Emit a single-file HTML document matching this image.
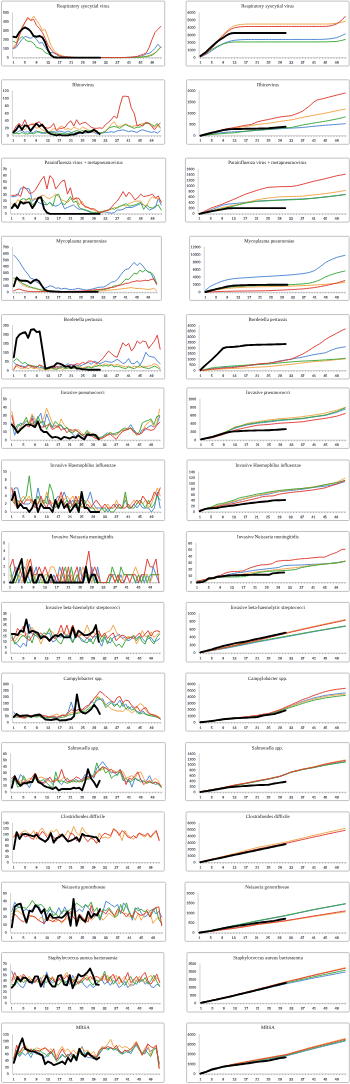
<!DOCTYPE html>
<html><head><meta charset="utf-8"><title>Weekly notifications</title>
<style>
html,body{margin:0;padding:0;background:#fff;}
body{width:350px;height:1084px;overflow:hidden;}
svg{display:block;}
text{text-rendering:geometricPrecision;}
.t{font-family:"Liberation Serif",serif;font-size:4.9px;fill:#111;text-anchor:middle;}
.l{font-family:"Liberation Sans",sans-serif;font-size:3.5px;fill:#3c4450;stroke:#3c4450;stroke-width:0.13px;}
.e{text-anchor:end;}
.m{text-anchor:middle;}
</style></head><body>
<svg width="350" height="1084" viewBox="0 0 350 1084">
<defs><filter id="b" x="0" y="0" width="100%" height="100%" filterUnits="userSpaceOnUse"><feGaussianBlur stdDeviation="0.27"/></filter></defs>
<rect width="350" height="1084" fill="#fff"/>
<g filter="url(#b)">
<rect x="1.5" y="1.1" width="163.2" height="64.9" rx="0.9" fill="#fff" stroke="#b6b6b6" stroke-width="0.85"/>
<path d="M12.55 12.35V57.65H161.99" fill="none" stroke="#b4b4b4" stroke-width="0.6"/>
<path d="M13.4 57.65v1.1M16.29 57.65v1.1M19.18 57.65v1.1M22.07 57.65v1.1M24.96 57.65v1.1M27.85 57.65v1.1M30.74 57.65v1.1M33.63 57.65v1.1M36.52 57.65v1.1M39.41 57.65v1.1M42.3 57.65v1.1M45.19 57.65v1.1M48.08 57.65v1.1M50.97 57.65v1.1M53.86 57.65v1.1M56.75 57.65v1.1M59.64 57.65v1.1M62.53 57.65v1.1M65.42 57.65v1.1M68.31 57.65v1.1M71.2 57.65v1.1M74.09 57.65v1.1M76.98 57.65v1.1M79.87 57.65v1.1M82.76 57.65v1.1M85.65 57.65v1.1M88.54 57.65v1.1M91.43 57.65v1.1M94.32 57.65v1.1M97.21 57.65v1.1M100.1 57.65v1.1M102.99 57.65v1.1M105.88 57.65v1.1M108.77 57.65v1.1M111.66 57.65v1.1M114.55 57.65v1.1M117.44 57.65v1.1M120.33 57.65v1.1M123.22 57.65v1.1M126.11 57.65v1.1M129 57.65v1.1M131.89 57.65v1.1M134.78 57.65v1.1M137.67 57.65v1.1M140.56 57.65v1.1M143.45 57.65v1.1M146.34 57.65v1.1M149.23 57.65v1.1M152.12 57.65v1.1M155.01 57.65v1.1M157.9 57.65v1.1M160.79 57.65v1.1" stroke="#8e8e8e" stroke-width="0.7" fill="none"/>
<polyline points="13.4,48.69 16.29,47.35 19.18,43.31 22.07,39.37 24.96,36.33 27.85,37.31 30.74,38.39 33.63,36.33 36.52,39.37 39.41,43.31 42.3,42.33 45.19,47.35 48.08,51.29 50.97,52.72 53.86,52.72 56.75,54.69 59.64,56.31 62.53,56.93 65.42,57.2 68.31,57.38 71.2,57.47 74.09,57.56 76.98,57.56 79.87,57.56 82.76,57.56 85.65,57.56 88.54,57.56 91.43,57.56 94.32,57.56 97.21,57.56 100.1,57.56 102.99,57.56 105.88,57.56 108.77,57.56 111.66,57.56 114.55,57.56 117.44,57.56 120.33,57.56 123.22,57.56 126.11,57.47 129,57.38 131.89,57.2 134.78,56.93 137.67,56.66 140.56,56.31 143.45,55.41 146.34,53.89 149.23,53.26 152.12,51.29 155.01,48.33 157.9,44.3 160.79,47.35" fill="none" stroke="#4a84d2" stroke-width="0.95" stroke-linejoin="round" stroke-linecap="round"/>
<polyline points="13.4,47.35 16.29,43.31 19.18,34.35 22.07,26.38 24.96,22.44 27.85,18.41 30.74,20.47 33.63,16.08 36.52,20.47 39.41,24.41 42.3,30.41 45.19,29.43 48.08,37.31 50.97,45.29 53.86,50.3 56.75,53.26 59.64,54.69 62.53,55.86 65.42,56.57 68.31,56.93 71.2,57.2 74.09,57.38 76.98,57.47 79.87,57.56 82.76,57.56 85.65,57.56 88.54,57.56 91.43,57.56 94.32,57.56 97.21,57.56 100.1,57.56 102.99,57.56 105.88,57.56 108.77,57.56 111.66,57.56 114.55,57.56 117.44,57.56 120.33,57.56 123.22,57.56 126.11,57.56 129,57.56 131.89,57.47 134.78,57.38 137.67,57.2 140.56,56.93 143.45,56.66 146.34,56.31 149.23,55.41 152.12,54.25 155.01,52.72 157.9,49.85 160.79,46.72" fill="none" stroke="#f0a345" stroke-width="0.95" stroke-linejoin="round" stroke-linecap="round"/>
<polyline points="13.4,41.34 16.29,42.69 19.18,39.37 22.07,36.33 24.96,39.37 27.85,41.34 30.74,41.34 33.63,43.31 36.52,47.35 39.41,48.33 42.3,49.32 45.19,52.72 48.08,53.89 50.97,55.23 53.86,56.84 56.75,57.29 59.64,57.38 62.53,57.47 65.42,57.56 68.31,57.56 71.2,57.56 74.09,57.56 76.98,57.56 79.87,57.56 82.76,57.56 85.65,57.56 88.54,57.56 91.43,57.56 94.32,57.56 97.21,57.56 100.1,57.56 102.99,57.56 105.88,57.56 108.77,57.56 111.66,57.56 114.55,57.56 117.44,57.56 120.33,57.56 123.22,57.56 126.11,57.56 129,57.56 131.89,57.56 134.78,57.47 137.67,57.38 140.56,57.2 143.45,56.93 146.34,56.66 149.23,56.04 152.12,55.23 155.01,53.26 157.9,50.3 160.79,47.35" fill="none" stroke="#3aa63a" stroke-width="0.95" stroke-linejoin="round" stroke-linecap="round"/>
<polyline points="13.4,48.33 16.29,45.29 19.18,36.33 22.07,28.35 24.96,22.44 27.85,17.42 30.74,20.47 33.63,19.39 36.52,25.39 39.41,28.35 42.3,32.38 45.19,38.39 48.08,45.29 50.97,49.32 53.86,52.72 56.75,54.25 59.64,55.86 62.53,56.57 65.42,56.93 68.31,57.2 71.2,57.38 74.09,57.47 76.98,57.56 79.87,57.56 82.76,57.56 85.65,57.56 88.54,57.56 91.43,57.56 94.32,57.56 97.21,57.56 100.1,57.56 102.99,57.56 105.88,57.56 108.77,57.56 111.66,57.56 114.55,57.56 117.44,57.56 120.33,57.56 123.22,57.47 126.11,57.38 129,57.29 131.89,57.11 134.78,56.84 137.67,56.22 140.56,55.23 143.45,54.25 146.34,52.72 149.23,47.35 152.12,39.28 155.01,32.38 157.9,29.43 160.79,26.38" fill="none" stroke="#dd3b30" stroke-width="0.95" stroke-linejoin="round" stroke-linecap="round"/>
<polyline points="13.4,36.77 16.29,37.31 19.18,32.38 22.07,29.34 24.96,27.37 27.85,28.8 30.74,31.4 33.63,35.97 36.52,36.77 39.41,35.97 42.3,37.31 45.19,42.33 48.08,50.3 50.97,55.23 53.86,57.2 56.75,57.56 59.64,57.65 62.53,57.65 65.42,57.65 68.31,57.65 71.2,57.65 74.09,57.65 76.98,57.65 79.87,57.65 82.76,57.65 85.65,57.65 88.54,57.65 91.43,57.65 94.32,57.65 97.21,57.65 100.1,57.65" fill="none" stroke="#000000" stroke-width="1.9" stroke-linejoin="round" stroke-linecap="round"/>
<rect x="186.1" y="1.1" width="163" height="64.9" rx="0.9" fill="#fff" stroke="#b6b6b6" stroke-width="0.85"/>
<path d="M199.15 12.35V57.65H346.44" fill="none" stroke="#b4b4b4" stroke-width="0.6"/>
<path d="M200.4 57.65v1.1M203.24 57.65v1.1M206.08 57.65v1.1M208.92 57.65v1.1M211.76 57.65v1.1M214.6 57.65v1.1M217.44 57.65v1.1M220.28 57.65v1.1M223.12 57.65v1.1M225.96 57.65v1.1M228.8 57.65v1.1M231.64 57.65v1.1M234.48 57.65v1.1M237.32 57.65v1.1M240.16 57.65v1.1M243 57.65v1.1M245.84 57.65v1.1M248.68 57.65v1.1M251.52 57.65v1.1M254.36 57.65v1.1M257.2 57.65v1.1M260.04 57.65v1.1M262.88 57.65v1.1M265.72 57.65v1.1M268.56 57.65v1.1M271.4 57.65v1.1M274.24 57.65v1.1M277.08 57.65v1.1M279.92 57.65v1.1M282.76 57.65v1.1M285.6 57.65v1.1M288.44 57.65v1.1M291.28 57.65v1.1M294.12 57.65v1.1M296.96 57.65v1.1M299.8 57.65v1.1M302.64 57.65v1.1M305.48 57.65v1.1M308.32 57.65v1.1M311.16 57.65v1.1M314 57.65v1.1M316.84 57.65v1.1M319.68 57.65v1.1M322.52 57.65v1.1M325.36 57.65v1.1M328.2 57.65v1.1M331.04 57.65v1.1M333.88 57.65v1.1M336.72 57.65v1.1M339.56 57.65v1.1M342.4 57.65v1.1M345.24 57.65v1.1" stroke="#8e8e8e" stroke-width="0.7" fill="none"/>
<polyline points="200.4,56.9 203.24,55.67 206.08,54.44 208.92,52.57 211.76,50.71 214.6,48.84 217.44,46.97 220.28,45.33 223.12,43.69 225.96,42.57 228.8,41.45 231.64,40.85 234.48,40.25 237.32,39.99 240.16,39.73 243,39.62 245.84,39.51 248.68,39.5 251.52,39.5 254.36,39.5 257.2,39.49 260.04,39.49 262.88,39.49 265.72,39.49 268.56,39.48 271.4,39.48 274.24,39.48 277.08,39.47 279.92,39.47 282.76,39.47 285.6,39.47 288.44,39.46 291.28,39.46 294.12,39.46 296.96,39.45 299.8,39.45 302.64,39.45 305.48,39.45 308.32,39.44 311.16,39.44 314,39.44 316.84,39.43 319.68,39.43 322.52,39.32 325.36,39.21 328.2,38.95 331.04,38.68 333.88,38.2 336.72,37.71 339.56,36.48 342.4,35.25 345.24,33.98" fill="none" stroke="#4a84d2" stroke-width="0.95" stroke-linejoin="round" stroke-linecap="round"/>
<polyline points="200.4,56.16 203.24,54.66 206.08,53.17 208.92,50.67 211.76,48.17 214.6,44.58 217.44,41.22 220.28,37.64 223.12,34.65 225.96,31.82 228.8,29.43 231.64,27.19 234.48,25.77 237.32,25.02 240.16,24.57 243,24.31 245.84,24.05 248.68,24.05 251.52,24.05 254.36,24.05 257.2,24.05 260.04,24.05 262.88,24.05 265.72,24.05 268.56,24.05 271.4,24.05 274.24,24.05 277.08,24.05 279.92,24.05 282.76,24.05 285.6,24.05 288.44,24.05 291.28,24.05 294.12,24.05 296.96,24.05 299.8,24.05 302.64,24.05 305.48,24.05 308.32,24.05 311.16,24.05 314,24.05 316.84,24.05 319.68,24.05 322.52,24.05 325.36,24.05 328.2,23.94 331.04,23.83 333.88,23.56 336.72,23.3 339.56,22.71 342.4,22.03 345.24,21.29" fill="none" stroke="#f0a345" stroke-width="0.95" stroke-linejoin="round" stroke-linecap="round"/>
<polyline points="200.4,56.16 203.24,54.66 206.08,53.17 208.92,51.3 211.76,49.44 214.6,47.83 217.44,46.23 220.28,45.11 223.12,43.99 225.96,43.24 228.8,42.49 231.64,42.23 234.48,41.97 237.32,41.97 240.16,41.97 243,41.96 245.84,41.96 248.68,41.96 251.52,41.96 254.36,41.95 257.2,41.95 260.04,41.95 262.88,41.95 265.72,41.94 268.56,41.94 271.4,41.94 274.24,41.94 277.08,41.94 279.92,41.93 282.76,41.93 285.6,41.93 288.44,41.93 291.28,41.92 294.12,41.92 296.96,41.92 299.8,41.92 302.64,41.91 305.48,41.91 308.32,41.91 311.16,41.91 314,41.9 316.84,41.9 319.68,41.9 322.52,41.9 325.36,41.9 328.2,41.78 331.04,41.67 333.88,41.56 336.72,41.45 339.56,40.85 342.4,40.25 345.24,39.51" fill="none" stroke="#3aa63a" stroke-width="0.95" stroke-linejoin="round" stroke-linecap="round"/>
<polyline points="200.4,56.9 203.24,55.3 206.08,53.69 208.92,50.93 211.76,48.17 214.6,44.66 217.44,41.45 220.28,38.24 223.12,35.4 225.96,32.86 228.8,30.62 231.64,28.9 234.48,27.78 237.32,27.3 240.16,26.81 243,26.66 245.84,26.51 248.68,26.51 251.52,26.51 254.36,26.51 257.2,26.5 260.04,26.5 262.88,26.5 265.72,26.5 268.56,26.49 271.4,26.49 274.24,26.49 277.08,26.48 279.92,26.48 282.76,26.48 285.6,26.48 288.44,26.47 291.28,26.47 294.12,26.47 296.96,26.47 299.8,26.46 302.64,26.46 305.48,26.46 308.32,26.46 311.16,26.45 314,26.45 316.84,26.45 319.68,26.44 322.52,26.44 325.36,26.44 328.2,26.1 331.04,25.77 333.88,24.8 336.72,23.83 339.56,21.81 342.4,19.57 345.24,16.36" fill="none" stroke="#dd3b30" stroke-width="0.95" stroke-linejoin="round" stroke-linecap="round"/>
<polyline points="200.4,55.93 203.24,53.92 206.08,51.9 208.92,49.18 211.76,46.45 214.6,43.95 217.44,41.45 220.28,39.58 223.12,37.71 225.96,35.77 228.8,34.13 231.64,33.23 234.48,33.01 237.32,33.01 240.16,33 243,33 245.84,32.99 248.68,32.99 251.52,32.99 254.36,32.98 257.2,32.98 260.04,32.97 262.88,32.97 265.72,32.96 268.56,32.96 271.4,32.96 274.24,32.95 277.08,32.95 279.92,32.94 282.76,32.94 285.6,32.94" fill="none" stroke="#000000" stroke-width="1.9" stroke-linejoin="round" stroke-linecap="round"/>
<rect x="1.5" y="79.8" width="163.2" height="64.5" rx="0.9" fill="#fff" stroke="#b6b6b6" stroke-width="0.85"/>
<path d="M12.35 90.55V135.75H161.38" fill="none" stroke="#b4b4b4" stroke-width="0.6"/>
<path d="M13.3 135.75v1.1M16.18 135.75v1.1M19.06 135.75v1.1M21.94 135.75v1.1M24.82 135.75v1.1M27.7 135.75v1.1M30.58 135.75v1.1M33.46 135.75v1.1M36.34 135.75v1.1M39.22 135.75v1.1M42.1 135.75v1.1M44.98 135.75v1.1M47.86 135.75v1.1M50.74 135.75v1.1M53.62 135.75v1.1M56.5 135.75v1.1M59.38 135.75v1.1M62.26 135.75v1.1M65.14 135.75v1.1M68.02 135.75v1.1M70.9 135.75v1.1M73.78 135.75v1.1M76.66 135.75v1.1M79.54 135.75v1.1M82.42 135.75v1.1M85.3 135.75v1.1M88.18 135.75v1.1M91.06 135.75v1.1M93.94 135.75v1.1M96.82 135.75v1.1M99.7 135.75v1.1M102.58 135.75v1.1M105.46 135.75v1.1M108.34 135.75v1.1M111.22 135.75v1.1M114.1 135.75v1.1M116.98 135.75v1.1M119.86 135.75v1.1M122.74 135.75v1.1M125.62 135.75v1.1M128.5 135.75v1.1M131.38 135.75v1.1M134.26 135.75v1.1M137.14 135.75v1.1M140.02 135.75v1.1M142.9 135.75v1.1M145.78 135.75v1.1M148.66 135.75v1.1M151.54 135.75v1.1M154.42 135.75v1.1M157.3 135.75v1.1M160.18 135.75v1.1" stroke="#8e8e8e" stroke-width="0.7" fill="none"/>
<polyline points="13.3,132.4 16.18,133.14 19.06,130.91 21.94,130.53 24.82,132.4 27.7,131.65 30.58,133.14 33.46,132.4 36.34,130.91 39.22,132.4 42.1,133.51 44.98,132.4 47.86,131.65 50.74,132.4 53.62,131.65 56.5,132.4 59.38,130.91 62.26,131.65 65.14,132.4 68.02,130.91 70.9,132.4 73.78,133.51 76.66,132.4 79.54,133.14 82.42,132.4 85.3,133.14 88.18,132.4 91.06,131.65 93.94,132.4 96.82,133.89 99.7,133.51 102.58,133.14 105.46,132.4 108.34,132.4 111.22,131.65 114.1,132.4 116.98,130.91 119.86,130.53 122.74,129.79 125.62,130.53 128.5,131.65 131.38,130.91 134.26,131.65 137.14,132.4 140.02,130.53 142.9,129.79 145.78,130.91 148.66,131.65 151.54,132.4 154.42,131.65 157.3,133.14 160.18,130.91" fill="none" stroke="#4a84d2" stroke-width="0.95" stroke-linejoin="round" stroke-linecap="round"/>
<polyline points="13.3,130.91 16.18,129.79 19.06,124.58 21.94,128.3 24.82,129.79 27.7,126.06 30.58,124.58 33.46,123.46 36.34,128.3 39.22,127.18 42.1,129.79 44.98,130.91 47.86,132.4 50.74,130.91 53.62,128.3 56.5,129.79 59.38,127.18 62.26,126.06 65.14,129.79 68.02,128.3 70.9,129.79 73.78,127.18 76.66,128.3 79.54,129.79 82.42,127.18 85.3,128.3 88.18,129.79 91.06,130.91 93.94,131.65 96.82,132.4 99.7,133.14 102.58,132.4 105.46,130.91 108.34,128.3 111.22,124.58 114.1,121.59 116.98,126.06 119.86,126.44 122.74,125.32 125.62,123.83 128.5,125.32 131.38,126.44 134.26,126.06 137.14,125.32 140.02,124.58 142.9,123.46 145.78,123.09 148.66,123.46 151.54,126.06 154.42,127.18 157.3,124.58 160.18,128.3" fill="none" stroke="#f0a345" stroke-width="0.95" stroke-linejoin="round" stroke-linecap="round"/>
<polyline points="13.3,133.89 16.18,133.14 19.06,133.89 21.94,132.4 24.82,133.89 27.7,133.89 30.58,133.14 33.46,133.89 36.34,132.4 39.22,131.65 42.1,132.4 44.98,133.51 47.86,132.4 50.74,131.65 53.62,132.4 56.5,133.89 59.38,133.14 62.26,133.51 65.14,133.89 68.02,133.51 70.9,133.14 73.78,131.65 76.66,130.53 79.54,131.65 82.42,130.53 85.3,131.65 88.18,130.91 91.06,130.53 93.94,129.79 96.82,131.65 99.7,133.14 102.58,132.4 105.46,131.65 108.34,128.3 111.22,127.18 114.1,126.44 116.98,127.18 119.86,128.3 122.74,126.06 125.62,124.58 128.5,126.06 131.38,127.18 134.26,128.3 137.14,127.18 140.02,127.18 142.9,124.58 145.78,123.46 148.66,123.09 151.54,124.58 154.42,126.06 157.3,123.46 160.18,127.18" fill="none" stroke="#3aa63a" stroke-width="0.95" stroke-linejoin="round" stroke-linecap="round"/>
<polyline points="13.3,131.65 16.18,126.06 19.06,123.46 21.94,126.06 24.82,119.73 27.7,126.06 30.58,124.58 33.46,124.58 36.34,123.46 39.22,121.59 42.1,126.44 44.98,127.18 47.86,128.3 50.74,127.18 53.62,123.46 56.5,130.91 59.38,128.3 62.26,128.3 65.14,127.18 68.02,123.09 70.9,120.85 73.78,126.06 76.66,119.73 79.54,124.58 82.42,123.09 85.3,122.34 88.18,124.58 91.06,127.18 93.94,128.3 96.82,128.3 99.7,127.93 102.58,128.3 105.46,124.58 108.34,122.34 111.22,119.73 114.1,116.01 116.98,118.24 119.86,105.95 122.74,96.27 125.62,96.27 128.5,96.64 131.38,108.19 134.26,113.4 137.14,126.06 140.02,124.58 142.9,126.06 145.78,122.34 148.66,123.09 151.54,126.06 154.42,129.79 157.3,126.06 160.18,123.09" fill="none" stroke="#dd3b30" stroke-width="0.95" stroke-linejoin="round" stroke-linecap="round"/>
<polyline points="13.3,132.4 16.18,129.79 19.06,125.32 21.94,129.79 24.82,125.32 27.7,126.06 30.58,130.91 33.46,127.18 36.34,123.46 39.22,126.44 42.1,124.58 44.98,128.3 47.86,132.4 50.74,133.89 53.62,134.63 56.5,135.38 59.38,134.63 62.26,135.38 65.14,135.38 68.02,135.38 70.9,134.63 73.78,134.63 76.66,133.51 79.54,132.4 82.42,133.14 85.3,130.91 88.18,132.4 91.06,131.65 93.94,129.79 96.82,131.65 99.7,133.89" fill="none" stroke="#000000" stroke-width="1.9" stroke-linejoin="round" stroke-linecap="round"/>
<rect x="186.6" y="79.8" width="162.7" height="64.5" rx="0.9" fill="#fff" stroke="#b6b6b6" stroke-width="0.85"/>
<path d="M199.15 90.55V135.75H346.44" fill="none" stroke="#b4b4b4" stroke-width="0.6"/>
<path d="M200.4 135.75v1.1M203.24 135.75v1.1M206.08 135.75v1.1M208.92 135.75v1.1M211.76 135.75v1.1M214.6 135.75v1.1M217.44 135.75v1.1M220.28 135.75v1.1M223.12 135.75v1.1M225.96 135.75v1.1M228.8 135.75v1.1M231.64 135.75v1.1M234.48 135.75v1.1M237.32 135.75v1.1M240.16 135.75v1.1M243 135.75v1.1M245.84 135.75v1.1M248.68 135.75v1.1M251.52 135.75v1.1M254.36 135.75v1.1M257.2 135.75v1.1M260.04 135.75v1.1M262.88 135.75v1.1M265.72 135.75v1.1M268.56 135.75v1.1M271.4 135.75v1.1M274.24 135.75v1.1M277.08 135.75v1.1M279.92 135.75v1.1M282.76 135.75v1.1M285.6 135.75v1.1M288.44 135.75v1.1M291.28 135.75v1.1M294.12 135.75v1.1M296.96 135.75v1.1M299.8 135.75v1.1M302.64 135.75v1.1M305.48 135.75v1.1M308.32 135.75v1.1M311.16 135.75v1.1M314 135.75v1.1M316.84 135.75v1.1M319.68 135.75v1.1M322.52 135.75v1.1M325.36 135.75v1.1M328.2 135.75v1.1M331.04 135.75v1.1M333.88 135.75v1.1M336.72 135.75v1.1M339.56 135.75v1.1M342.4 135.75v1.1M345.24 135.75v1.1" stroke="#8e8e8e" stroke-width="0.7" fill="none"/>
<polyline points="200.4,135.75 203.24,135.3 206.08,134.86 208.92,134.41 211.76,133.96 214.6,133.6 217.44,133.24 220.28,132.87 223.12,132.51 225.96,132.31 228.8,132.12 231.64,131.92 234.48,131.73 237.32,131.62 240.16,131.5 243,131.39 245.84,131.28 248.68,131.03 251.52,130.78 254.36,130.53 257.2,130.27 260.04,130.08 262.88,129.88 265.72,129.69 268.56,129.49 271.4,129.3 274.24,129.1 277.08,128.91 279.92,128.71 282.76,128.57 285.6,128.43 288.44,128.29 291.28,128.15 294.12,127.98 296.96,127.82 299.8,127.65 302.64,127.48 305.48,127.17 308.32,126.87 311.16,126.56 314,126.25 316.84,126 319.68,125.75 322.52,125.5 325.36,125.25 328.2,125.05 331.04,124.85 333.88,124.66 336.72,124.46 339.56,124.2 342.4,123.94 345.24,123.68" fill="none" stroke="#4a84d2" stroke-width="0.95" stroke-linejoin="round" stroke-linecap="round"/>
<polyline points="200.4,135.75 203.24,135.14 206.08,134.52 208.92,133.91 211.76,133.29 214.6,132.51 217.44,131.73 220.28,130.94 223.12,130.16 225.96,129.66 228.8,129.16 231.64,128.65 234.48,128.15 237.32,127.73 240.16,127.31 243,126.89 245.84,126.47 248.68,125.97 251.52,125.47 254.36,124.97 257.2,124.46 260.04,124.18 262.88,123.9 265.72,123.57 268.56,123.23 271.4,122.79 274.24,122.34 277.08,121.89 279.92,121.45 282.76,121.05 285.6,120.66 288.44,120.27 291.28,119.88 294.12,119.27 296.96,118.65 299.8,118.04 302.64,117.42 305.48,116.86 308.32,116.31 311.16,115.75 314,115.19 316.84,114.69 319.68,114.18 322.52,113.68 325.36,113.18 328.2,112.56 331.04,111.95 333.88,111.33 336.72,110.72 339.56,110.2 342.4,109.67 345.24,109.15" fill="none" stroke="#f0a345" stroke-width="0.95" stroke-linejoin="round" stroke-linecap="round"/>
<polyline points="200.4,135.75 203.24,135.44 206.08,135.14 208.92,134.83 211.76,134.52 214.6,134.27 217.44,134.02 220.28,133.77 223.12,133.51 225.96,133.32 228.8,133.12 231.64,132.93 234.48,132.73 237.32,132.37 240.16,132.01 243,131.64 245.84,131.28 248.68,131 251.52,130.72 254.36,130.44 257.2,130.16 260.04,129.94 262.88,129.72 265.72,129.45 268.56,129.19 271.4,128.93 274.24,128.67 277.08,128.41 279.92,128.15 282.76,127.98 285.6,127.82 288.44,127.65 291.28,127.48 294.12,126.87 296.96,126.25 299.8,125.64 302.64,125.02 305.48,124.52 308.32,124.02 311.16,123.51 314,123.01 316.84,122.56 319.68,122.12 322.52,121.67 325.36,121.22 328.2,120.66 331.04,120.11 333.88,119.55 336.72,118.99 339.56,118.32 342.4,117.65 345.24,116.98" fill="none" stroke="#3aa63a" stroke-width="0.95" stroke-linejoin="round" stroke-linecap="round"/>
<polyline points="200.4,135.75 203.24,135 206.08,134.24 208.92,133.49 211.76,132.73 214.6,131.92 217.44,131.11 220.28,130.3 223.12,129.49 225.96,128.99 228.8,128.49 231.64,127.98 234.48,127.48 237.32,126.92 240.16,126.36 243,125.8 245.84,125.25 248.68,124.85 251.52,124.46 254.36,123.18 257.2,121.89 260.04,121.22 262.88,120.55 265.72,119.99 268.56,119.43 271.4,118.82 274.24,118.21 277.08,117.59 279.92,116.98 282.76,116.64 285.6,116.31 288.44,115.97 291.28,115.63 294.12,114.63 296.96,113.62 299.8,112.39 302.64,111.16 305.48,109.04 308.32,106.92 311.16,104.4 314,101.89 316.84,100.1 319.68,99.43 322.52,98.76 325.36,98.09 328.2,97.34 331.04,96.58 333.88,95.83 336.72,95.07 339.56,94.4 342.4,93.73 345.24,93.06" fill="none" stroke="#dd3b30" stroke-width="0.95" stroke-linejoin="round" stroke-linecap="round"/>
<polyline points="200.4,135.75 203.24,135 206.08,134.24 208.92,133.49 211.76,132.73 214.6,132.09 217.44,131.45 220.28,130.81 223.12,130.16 225.96,129.72 228.8,129.27 231.64,129.16 234.48,129.04 237.32,128.99 240.16,128.93 243,128.88 245.84,128.82 248.68,128.78 251.52,128.73 254.36,128.69 257.2,128.64 260.04,128.55 262.88,128.45 265.72,128.36 268.56,128.26 271.4,128.01 274.24,127.76 277.08,127.51 279.92,127.26 282.76,127.03 285.6,126.81" fill="none" stroke="#000000" stroke-width="1.9" stroke-linejoin="round" stroke-linecap="round"/>
<rect x="1.5" y="158.1" width="164.2" height="64" rx="0.9" fill="#fff" stroke="#b6b6b6" stroke-width="0.85"/>
<path d="M10.55 168.75V213.85H162.43" fill="none" stroke="#b4b4b4" stroke-width="0.6"/>
<path d="M11.8 213.85v1.1M14.73 213.85v1.1M17.66 213.85v1.1M20.59 213.85v1.1M23.52 213.85v1.1M26.45 213.85v1.1M29.38 213.85v1.1M32.31 213.85v1.1M35.24 213.85v1.1M38.17 213.85v1.1M41.1 213.85v1.1M44.03 213.85v1.1M46.96 213.85v1.1M49.89 213.85v1.1M52.82 213.85v1.1M55.75 213.85v1.1M58.68 213.85v1.1M61.61 213.85v1.1M64.54 213.85v1.1M67.47 213.85v1.1M70.4 213.85v1.1M73.33 213.85v1.1M76.26 213.85v1.1M79.19 213.85v1.1M82.12 213.85v1.1M85.05 213.85v1.1M87.98 213.85v1.1M90.91 213.85v1.1M93.84 213.85v1.1M96.77 213.85v1.1M99.7 213.85v1.1M102.63 213.85v1.1M105.56 213.85v1.1M108.49 213.85v1.1M111.42 213.85v1.1M114.35 213.85v1.1M117.28 213.85v1.1M120.21 213.85v1.1M123.14 213.85v1.1M126.07 213.85v1.1M129 213.85v1.1M131.93 213.85v1.1M134.86 213.85v1.1M137.79 213.85v1.1M140.72 213.85v1.1M143.65 213.85v1.1M146.58 213.85v1.1M149.51 213.85v1.1M152.44 213.85v1.1M155.37 213.85v1.1M158.3 213.85v1.1M161.23 213.85v1.1" stroke="#8e8e8e" stroke-width="0.7" fill="none"/>
<polyline points="11.8,196.65 14.73,196.65 17.66,195.37 20.59,188.36 23.52,187.73 26.45,188.36 29.38,189 32.31,201.11 35.24,198.56 38.17,202.38 41.1,203.66 44.03,204.29 46.96,204.93 49.89,202.38 52.82,204.93 55.75,206.2 58.68,204.93 61.61,202.38 64.54,208.75 67.47,207.48 70.4,206.2 73.33,204.93 76.26,207.48 79.19,209.39 82.12,208.75 85.05,210.03 87.98,211.3 90.91,212.58 93.84,213.21 96.77,213.21 99.7,212.58 102.63,211.94 105.56,211.94 108.49,212.58 111.42,213.21 114.35,212.58 117.28,210.03 120.21,210.03 123.14,209.39 126.07,207.48 129,207.48 131.93,207.48 134.86,206.2 137.79,204.93 140.72,203.66 143.65,204.93 146.58,207.48 149.51,210.03 152.44,208.75 155.37,207.48 158.3,198.56 161.23,204.93" fill="none" stroke="#4a84d2" stroke-width="0.95" stroke-linejoin="round" stroke-linecap="round"/>
<polyline points="11.8,203.66 14.73,206.2 17.66,199.83 20.59,201.11 23.52,202.38 26.45,199.83 29.38,198.56 32.31,199.83 35.24,197.92 38.17,199.83 41.1,195.37 44.03,195.37 46.96,197.92 49.89,198.56 52.82,196.65 55.75,194.1 58.68,196.65 61.61,199.83 64.54,201.11 67.47,202.38 70.4,199.83 73.33,198.56 76.26,197.92 79.19,204.93 82.12,201.11 85.05,207.48 87.98,207.48 90.91,209.39 93.84,210.03 96.77,211.94 99.7,212.58 102.63,211.94 105.56,211.3 108.49,210.03 111.42,209.39 114.35,207.48 117.28,208.12 120.21,206.2 123.14,204.93 126.07,206.2 129,203.66 131.93,202.38 134.86,201.11 137.79,201.11 140.72,201.11 143.65,204.93 146.58,206.2 149.51,199.83 152.44,196.65 155.37,198.56 158.3,198.56 161.23,201.11" fill="none" stroke="#f0a345" stroke-width="0.95" stroke-linejoin="round" stroke-linecap="round"/>
<polyline points="11.8,207.48 14.73,206.2 17.66,207.48 20.59,199.83 23.52,198.56 26.45,199.83 29.38,197.92 32.31,204.93 35.24,202.38 38.17,198.56 41.1,197.92 44.03,201.11 46.96,204.93 49.89,202.38 52.82,206.2 55.75,195.37 58.68,194.1 61.61,202.38 64.54,204.93 67.47,201.11 70.4,196.65 73.33,202.38 76.26,201.11 79.19,207.48 82.12,209.39 85.05,210.03 87.98,210.66 90.91,211.94 93.84,212.58 96.77,212.58 99.7,211.94 102.63,211.3 105.56,210.66 108.49,210.03 111.42,208.12 114.35,209.39 117.28,207.48 120.21,206.2 123.14,204.93 126.07,203.66 129,206.2 131.93,205.57 134.86,204.93 137.79,203.66 140.72,202.38 143.65,209.39 146.58,204.93 149.51,207.48 152.44,208.12 155.37,206.2 158.3,204.93 161.23,210.03" fill="none" stroke="#3aa63a" stroke-width="0.95" stroke-linejoin="round" stroke-linecap="round"/>
<polyline points="11.8,195.37 14.73,195.37 17.66,194.1 20.59,196.65 23.52,186.45 26.45,189 29.38,193.46 32.31,192.82 35.24,190.28 38.17,185.18 41.1,180.08 44.03,176.26 46.96,189 49.89,175.62 52.82,178.81 55.75,189 58.68,185.18 61.61,181.36 64.54,180.08 67.47,194.1 70.4,187.73 73.33,199.83 76.26,197.92 79.19,198.56 82.12,204.29 85.05,206.2 87.98,207.48 90.91,208.75 93.84,208.75 96.77,210.66 99.7,212.58 102.63,211.94 105.56,210.66 108.49,210.03 111.42,207.48 114.35,203.66 117.28,201.11 120.21,196.65 123.14,191.55 126.07,196.65 129,192.19 131.93,195.37 134.86,199.83 137.79,197.92 140.72,194.1 143.65,196.65 146.58,196.01 149.51,195.37 152.44,194.1 155.37,197.92 158.3,196.01 161.23,202.38" fill="none" stroke="#dd3b30" stroke-width="0.95" stroke-linejoin="round" stroke-linecap="round"/>
<polyline points="11.8,208.12 14.73,203.66 17.66,208.12 20.59,201.74 23.52,203.66 26.45,202.38 29.38,202.38 32.31,208.12 35.24,203.66 38.17,197.92 41.1,197.28 44.03,208.75 46.96,212.58 49.89,213.85 52.82,213.85 55.75,213.85 58.68,213.85 61.61,213.85 64.54,213.85 67.47,213.85 70.4,213.85 73.33,213.85 76.26,213.85 79.19,213.85 82.12,213.85 85.05,213.85 87.98,213.85 90.91,213.85 93.84,213.85 96.77,213.85 99.7,213.85" fill="none" stroke="#000000" stroke-width="1.9" stroke-linejoin="round" stroke-linecap="round"/>
<rect x="185.4" y="158.1" width="163.9" height="64" rx="0.9" fill="#fff" stroke="#b6b6b6" stroke-width="0.85"/>
<path d="M198.15 168.75V213.85H346.46" fill="none" stroke="#b4b4b4" stroke-width="0.6"/>
<path d="M199.4 213.85v1.1M202.26 213.85v1.1M205.12 213.85v1.1M207.98 213.85v1.1M210.84 213.85v1.1M213.7 213.85v1.1M216.56 213.85v1.1M219.42 213.85v1.1M222.28 213.85v1.1M225.14 213.85v1.1M228 213.85v1.1M230.86 213.85v1.1M233.72 213.85v1.1M236.58 213.85v1.1M239.44 213.85v1.1M242.3 213.85v1.1M245.16 213.85v1.1M248.02 213.85v1.1M250.88 213.85v1.1M253.74 213.85v1.1M256.6 213.85v1.1M259.46 213.85v1.1M262.32 213.85v1.1M265.18 213.85v1.1M268.04 213.85v1.1M270.9 213.85v1.1M273.76 213.85v1.1M276.62 213.85v1.1M279.48 213.85v1.1M282.34 213.85v1.1M285.2 213.85v1.1M288.06 213.85v1.1M290.92 213.85v1.1M293.78 213.85v1.1M296.64 213.85v1.1M299.5 213.85v1.1M302.36 213.85v1.1M305.22 213.85v1.1M308.08 213.85v1.1M310.94 213.85v1.1M313.8 213.85v1.1M316.66 213.85v1.1M319.52 213.85v1.1M322.38 213.85v1.1M325.24 213.85v1.1M328.1 213.85v1.1M330.96 213.85v1.1M333.82 213.85v1.1M336.68 213.85v1.1M339.54 213.85v1.1M342.4 213.85v1.1M345.26 213.85v1.1" stroke="#8e8e8e" stroke-width="0.7" fill="none"/>
<polyline points="199.4,213.85 202.26,212.84 205.12,211.83 207.98,210.82 210.84,209.81 213.7,208.69 216.56,207.58 219.42,206.46 222.28,205.35 225.14,204.72 228,204.09 230.86,203.88 233.72,203.68 236.58,203.36 239.44,203.05 242.3,202.73 245.16,202.42 248.02,202.11 250.88,201.79 253.74,201.48 256.6,201.17 259.46,201.01 262.32,200.85 265.18,200.69 268.04,200.53 270.9,200.37 273.76,200.22 276.62,200.07 279.48,199.91 282.34,199.77 285.2,199.63 288.06,199.49 290.92,199.35 293.78,199.25 296.64,199.15 299.5,199.04 302.36,198.94 305.22,198.76 308.08,198.59 310.94,198.41 313.8,198.24 316.66,197.89 319.52,197.54 322.38,197.19 325.24,196.85 328.1,196.57 330.96,196.29 333.82,196.01 336.68,195.73 339.54,195.27 342.4,194.8 345.26,194.34" fill="none" stroke="#4a84d2" stroke-width="0.95" stroke-linejoin="round" stroke-linecap="round"/>
<polyline points="199.4,213.85 202.26,213.05 205.12,212.25 207.98,211.45 210.84,210.64 213.7,209.88 216.56,209.11 219.42,208.34 222.28,207.58 225.14,207.02 228,206.46 230.86,205.91 233.72,205.35 236.58,204.72 239.44,204.09 242.3,203.47 245.16,202.84 248.02,202.11 250.88,201.38 253.74,200.64 256.6,199.91 259.46,199.35 262.32,198.8 265.18,198.45 268.04,198.1 270.9,197.79 273.76,197.47 276.62,197.16 279.48,196.85 282.34,196.78 285.2,196.71 288.06,196.64 290.92,196.57 293.78,196.46 296.64,196.36 299.5,196.25 302.36,196.15 305.22,195.84 308.08,195.52 310.94,195.21 313.8,194.89 316.66,194.58 319.52,194.27 322.38,193.95 325.24,193.64 328.1,193.22 330.96,192.8 333.82,192.39 336.68,191.97 339.54,191.46 342.4,190.95 345.26,190.44" fill="none" stroke="#f0a345" stroke-width="0.95" stroke-linejoin="round" stroke-linecap="round"/>
<polyline points="199.4,213.85 202.26,213.22 205.12,212.6 207.98,211.97 210.84,211.34 213.7,210.64 216.56,209.95 219.42,209.25 222.28,208.55 225.14,207.93 228,207.3 230.86,206.67 233.72,206.04 236.58,205.31 239.44,204.58 242.3,203.85 245.16,203.12 248.02,202.67 250.88,202.21 253.74,201.76 256.6,201.31 259.46,201.17 262.32,201.03 265.18,200.89 268.04,200.75 270.9,200.61 273.76,200.47 276.62,200.33 279.48,200.19 282.34,200.09 285.2,199.98 288.06,199.88 290.92,199.77 293.78,199.67 296.64,199.56 299.5,199.46 302.36,199.35 305.22,199.08 308.08,198.8 310.94,198.52 313.8,198.24 316.66,197.96 319.52,197.68 322.38,197.4 325.24,197.12 328.1,196.74 330.96,196.36 333.82,195.98 336.68,195.59 339.54,195.27 342.4,194.94 345.26,194.62" fill="none" stroke="#3aa63a" stroke-width="0.95" stroke-linejoin="round" stroke-linecap="round"/>
<polyline points="199.4,213.85 202.26,212.42 205.12,210.99 207.98,209.56 210.84,208.14 213.7,207.13 216.56,206.11 219.42,205.1 222.28,204.09 225.14,202.91 228,201.72 230.86,200.54 233.72,199.35 236.58,198.1 239.44,196.85 242.3,195.59 245.16,194.34 248.02,193.36 250.88,192.39 253.74,191.41 256.6,190.44 259.46,189.6 262.32,188.76 265.18,188.07 268.04,187.37 270.9,187.19 273.76,187.02 276.62,186.85 279.48,186.67 282.34,186.64 285.2,186.6 288.06,186.57 290.92,186.53 293.78,186.11 296.64,185.7 299.5,185 302.36,184.3 305.22,183.54 308.08,182.77 310.94,182 313.8,181.24 316.66,180.61 319.52,179.98 322.38,179.35 325.24,178.73 328.1,178 330.96,177.26 333.82,176.53 336.68,175.8 339.54,175.29 342.4,174.78 345.26,174.27" fill="none" stroke="#dd3b30" stroke-width="0.95" stroke-linejoin="round" stroke-linecap="round"/>
<polyline points="199.4,213.85 202.26,213.22 205.12,212.6 207.98,211.97 210.84,211.34 213.7,210.85 216.56,210.37 219.42,209.88 222.28,209.39 225.14,208.83 228,208.28 230.86,208.21 233.72,208.14 236.58,208.14 239.44,208.14 242.3,208.14 245.16,208.14 248.02,208.14 250.88,208.14 253.74,208.14 256.6,208.14 259.46,208.14 262.32,208.14 265.18,208.14 268.04,208.14 270.9,208.14 273.76,208.14 276.62,208.14 279.48,208.14 282.34,208.14 285.2,208.14" fill="none" stroke="#000000" stroke-width="1.9" stroke-linejoin="round" stroke-linecap="round"/>
<rect x="1.5" y="236.3" width="159.9" height="64.1" rx="0.9" fill="#fff" stroke="#b6b6b6" stroke-width="0.85"/>
<path d="M12.55 246.85V292.35H157.8" fill="none" stroke="#b4b4b4" stroke-width="0.6"/>
<path d="M13.8 292.35v1.1M16.6 292.35v1.1M19.4 292.35v1.1M22.2 292.35v1.1M25 292.35v1.1M27.8 292.35v1.1M30.6 292.35v1.1M33.4 292.35v1.1M36.2 292.35v1.1M39 292.35v1.1M41.8 292.35v1.1M44.6 292.35v1.1M47.4 292.35v1.1M50.2 292.35v1.1M53 292.35v1.1M55.8 292.35v1.1M58.6 292.35v1.1M61.4 292.35v1.1M64.2 292.35v1.1M67 292.35v1.1M69.8 292.35v1.1M72.6 292.35v1.1M75.4 292.35v1.1M78.2 292.35v1.1M81 292.35v1.1M83.8 292.35v1.1M86.6 292.35v1.1M89.4 292.35v1.1M92.2 292.35v1.1M95 292.35v1.1M97.8 292.35v1.1M100.6 292.35v1.1M103.4 292.35v1.1M106.2 292.35v1.1M109 292.35v1.1M111.8 292.35v1.1M114.6 292.35v1.1M117.4 292.35v1.1M120.2 292.35v1.1M123 292.35v1.1M125.8 292.35v1.1M128.6 292.35v1.1M131.4 292.35v1.1M134.2 292.35v1.1M137 292.35v1.1M139.8 292.35v1.1M142.6 292.35v1.1M145.4 292.35v1.1M148.2 292.35v1.1M151 292.35v1.1M153.8 292.35v1.1M156.6 292.35v1.1" stroke="#8e8e8e" stroke-width="0.7" fill="none"/>
<polyline points="13.8,255.06 16.6,258.09 19.4,261.81 22.2,266.38 25,270.69 27.8,273.96 30.6,278.21 33.4,278.98 36.2,282 39,283.29 41.8,285.79 44.6,288.3 47.4,287.08 50.2,285.79 53,286.56 55.8,288.3 58.6,287.85 61.4,289.07 64.2,288.3 67,288.81 69.8,289.59 72.6,289.46 75.4,289.07 78.2,288.3 81,289.07 83.8,289.59 86.6,290.1 89.4,289.59 92.2,289.07 95,288.3 97.8,287.53 100.6,287.08 103.4,287.08 106.2,285.79 109,283.99 111.8,282.06 114.6,281.49 117.4,279.49 120.2,275.7 123,271.91 125.8,269.4 128.6,268.89 131.4,265.61 134.2,262.33 137,265.61 139.8,263.1 142.6,265.61 145.4,269.4 148.2,271.91 151,273.19 153.8,279.49 156.6,283.29" fill="none" stroke="#4a84d2" stroke-width="0.95" stroke-linejoin="round" stroke-linecap="round"/>
<polyline points="13.8,280.78 16.6,278.21 19.4,282.06 22.2,284.64 25,285.92 27.8,287.08 30.6,287.53 33.4,288.3 36.2,289.07 39,289.59 41.8,290.1 44.6,290.81 47.4,291.06 50.2,291.32 53,291.45 55.8,291.58 58.6,291.58 61.4,291.71 64.2,291.71 67,291.71 69.8,291.71 72.6,291.71 75.4,291.71 78.2,291.71 81,291.58 83.8,291.58 86.6,291.45 89.4,291.32 92.2,291.32 95,291.19 97.8,291.06 100.6,290.94 103.4,290.81 106.2,290.42 109,290.1 111.8,289.84 114.6,289.59 117.4,289.33 120.2,289.07 123,288.69 125.8,288.3 128.6,287.91 131.4,287.53 134.2,288.17 137,288.56 139.8,288.36 142.6,288.81 145.4,289.07 148.2,289.59 151,289.14 153.8,288.3 156.6,290.81" fill="none" stroke="#f0a345" stroke-width="0.95" stroke-linejoin="round" stroke-linecap="round"/>
<polyline points="13.8,278.21 16.6,278.98 19.4,280.78 22.2,283.29 25,284.51 27.8,285.79 30.6,287.08 33.4,287.85 36.2,288.3 39,289.59 41.8,290.1 44.6,290.81 47.4,291.06 50.2,291.06 53,291.32 55.8,291.32 58.6,291.58 61.4,291.58 64.2,291.58 67,291.58 69.8,291.58 72.6,291.58 75.4,291.58 78.2,291.58 81,291.58 83.8,291.45 86.6,291.32 89.4,291.06 92.2,290.81 95,290.42 97.8,290.1 100.6,289.84 103.4,289.59 106.2,288.94 109,288.3 111.8,287.08 114.6,285.79 117.4,285.79 120.2,284.51 123,282 125.8,278.98 128.6,279.49 131.4,276.47 134.2,273.19 137,273.96 139.8,270.17 142.6,271.91 145.4,269.91 148.2,271.91 151,272.42 153.8,275.7 156.6,283.29" fill="none" stroke="#3aa63a" stroke-width="0.95" stroke-linejoin="round" stroke-linecap="round"/>
<polyline points="13.8,290.81 16.6,289.59 19.4,289.07 22.2,290.1 25,290.81 27.8,291.32 30.6,291.45 33.4,291.58 36.2,291.58 39,291.58 41.8,291.58 44.6,291.58 47.4,291.58 50.2,291.58 53,291.58 55.8,291.58 58.6,291.58 61.4,291.58 64.2,291.45 67,291.45 69.8,291.32 72.6,291.32 75.4,291.19 78.2,291.19 81,291.06 83.8,290.94 86.6,290.68 89.4,290.42 92.2,290.1 95,289.84 97.8,289.59 100.6,289.33 103.4,289.07 106.2,288.49 109,287.85 111.8,287.46 114.6,287.08 117.4,285.79 120.2,285.28 123,284.51 125.8,283.29 128.6,283.29 131.4,282 134.2,281.49 137,280.78 139.8,281.23 142.6,280.78 145.4,280.26 148.2,280.65 151,279.49 153.8,278.98 156.6,284.51" fill="none" stroke="#dd3b30" stroke-width="0.95" stroke-linejoin="round" stroke-linecap="round"/>
<polyline points="13.8,286.31 16.6,277.5 19.4,280.26 22.2,280.78 25,280.78 27.8,281.23 30.6,283.29 33.4,280.78 36.2,279.49 39,281.23 41.8,285.79 44.6,289.59 47.4,290.81 50.2,291.32 53,291.45 55.8,291.58 58.6,291.71 61.4,291.84 64.2,291.84 67,291.84 69.8,291.84 72.6,291.84 75.4,291.84 78.2,291.84 81,291.84 83.8,291.84 86.6,291.84 89.4,291.84 92.2,291.84 95,291.84 97.8,291.84" fill="none" stroke="#000000" stroke-width="1.9" stroke-linejoin="round" stroke-linecap="round"/>
<rect x="189.6" y="236.3" width="159.5" height="64.1" rx="0.9" fill="#fff" stroke="#b6b6b6" stroke-width="0.85"/>
<path d="M204.25 246.85V292.35H346.08" fill="none" stroke="#b4b4b4" stroke-width="0.6"/>
<path d="M205.4 292.35v1.1M208.14 292.35v1.1M210.87 292.35v1.1M213.61 292.35v1.1M216.34 292.35v1.1M219.08 292.35v1.1M221.81 292.35v1.1M224.55 292.35v1.1M227.28 292.35v1.1M230.02 292.35v1.1M232.75 292.35v1.1M235.49 292.35v1.1M238.22 292.35v1.1M240.96 292.35v1.1M243.69 292.35v1.1M246.43 292.35v1.1M249.16 292.35v1.1M251.9 292.35v1.1M254.63 292.35v1.1M257.37 292.35v1.1M260.1 292.35v1.1M262.83 292.35v1.1M265.57 292.35v1.1M268.31 292.35v1.1M271.04 292.35v1.1M273.77 292.35v1.1M276.51 292.35v1.1M279.25 292.35v1.1M281.98 292.35v1.1M284.72 292.35v1.1M287.45 292.35v1.1M290.19 292.35v1.1M292.92 292.35v1.1M295.65 292.35v1.1M298.39 292.35v1.1M301.12 292.35v1.1M303.86 292.35v1.1M306.6 292.35v1.1M309.33 292.35v1.1M312.06 292.35v1.1M314.8 292.35v1.1M317.53 292.35v1.1M320.27 292.35v1.1M323 292.35v1.1M325.74 292.35v1.1M328.48 292.35v1.1M331.21 292.35v1.1M333.94 292.35v1.1M336.68 292.35v1.1M339.41 292.35v1.1M342.15 292.35v1.1M344.88 292.35v1.1" stroke="#8e8e8e" stroke-width="0.7" fill="none"/>
<polyline points="205.4,290.18 208.14,288.11 210.87,286.05 213.61,284.79 216.34,283.54 219.08,282.41 221.81,281.29 224.55,280.52 227.28,279.75 230.02,279.26 232.75,278.78 235.49,278.51 238.22,278.25 240.96,278.06 243.69,277.88 246.43,277.69 249.16,277.5 251.9,277.31 254.63,277.12 257.37,276.94 260.1,276.75 262.83,276.62 265.57,276.49 268.31,276.36 271.04,276.23 273.77,276.04 276.51,275.85 279.25,275.66 281.98,275.48 284.72,275.29 287.45,275.1 290.19,274.91 292.92,274.73 295.65,274.42 298.39,274.11 301.12,273.8 303.86,273.49 306.6,272.98 309.33,272.48 312.06,271.46 314.8,270.45 317.53,268.56 320.27,266.66 323,264.52 325.74,262.39 328.48,261.02 331.21,259.65 333.94,258.51 336.68,257.36 339.41,256.69 342.15,256.01 344.88,255.34" fill="none" stroke="#4a84d2" stroke-width="0.95" stroke-linejoin="round" stroke-linecap="round"/>
<polyline points="205.4,291.68 208.14,291.22 210.87,290.76 213.61,290.3 216.34,289.84 219.08,289.46 221.81,289.09 224.55,288.71 227.28,288.34 230.02,288.15 232.75,287.95 235.49,287.76 238.22,287.57 240.96,287.44 243.69,287.32 246.43,287.19 249.16,287.06 251.9,287 254.63,286.94 257.37,286.88 260.1,286.82 262.83,286.76 265.57,286.7 268.31,286.64 271.04,286.58 273.77,286.52 276.51,286.46 279.25,286.41 281.98,286.35 284.72,286.28 287.45,286.2 290.19,286.12 292.92,286.05 295.65,285.93 298.39,285.81 301.12,285.68 303.86,285.56 306.6,285.43 309.33,285.3 312.06,285.17 314.8,285.04 317.53,284.85 320.27,284.66 323,284.48 325.74,284.29 328.48,284.04 331.21,283.79 333.94,283.54 336.68,283.29 339.41,282.96 342.15,282.62 344.88,282.28" fill="none" stroke="#f0a345" stroke-width="0.95" stroke-linejoin="round" stroke-linecap="round"/>
<polyline points="205.4,291.53 208.14,290.85 210.87,290.18 213.61,289.5 216.34,288.83 219.08,288.45 221.81,288.08 224.55,287.7 227.28,287.33 230.02,287.07 232.75,286.82 235.49,286.57 238.22,286.31 240.96,286.19 243.69,286.06 246.43,285.93 249.16,285.81 251.9,285.75 254.63,285.68 257.37,285.62 260.1,285.56 262.83,285.5 265.57,285.43 268.31,285.37 271.04,285.3 273.77,285.23 276.51,285.17 279.25,285.1 281.98,285.04 284.72,284.92 287.45,284.79 290.19,284.67 292.92,284.55 295.65,284.36 298.39,284.18 301.12,283.99 303.86,283.8 306.6,283.48 309.33,283.16 312.06,282.47 314.8,281.78 317.53,280.77 320.27,279.77 323,278.26 325.74,276.75 328.48,275.74 331.21,274.73 333.94,273.84 336.68,272.96 339.41,272.3 342.15,271.64 344.88,270.98" fill="none" stroke="#3aa63a" stroke-width="0.95" stroke-linejoin="round" stroke-linecap="round"/>
<polyline points="205.4,292.24 208.14,292.08 210.87,291.92 213.61,291.76 216.34,291.6 219.08,291.53 221.81,291.47 224.55,291.4 227.28,291.34 230.02,291.28 232.75,291.22 235.49,291.15 238.22,291.09 240.96,291.06 243.69,291.03 246.43,291 249.16,290.97 251.9,290.94 254.63,290.91 257.37,290.88 260.1,290.85 262.83,290.78 265.57,290.72 268.31,290.65 271.04,290.59 273.77,290.47 276.51,290.34 279.25,290.22 281.98,290.1 284.72,289.97 287.45,289.84 290.19,289.71 292.92,289.58 295.65,289.39 298.39,289.2 301.12,289.01 303.86,288.83 306.6,288.51 309.33,288.2 312.06,287.88 314.8,287.57 317.53,287.07 320.27,286.57 323,286.06 325.74,285.56 328.48,284.93 331.21,284.31 333.94,283.68 336.68,283.05 339.41,282.21 342.15,281.38 344.88,280.54" fill="none" stroke="#dd3b30" stroke-width="0.95" stroke-linejoin="round" stroke-linecap="round"/>
<polyline points="205.4,291.98 208.14,291.23 210.87,290.48 213.61,289.8 216.34,289.12 219.08,288.53 221.81,287.93 224.55,287.21 227.28,286.5 230.02,286.09 232.75,285.68 235.49,285.54 238.22,285.41 240.96,285.32 243.69,285.23 246.43,285.13 249.16,285.04 251.9,284.99 254.63,284.94 257.37,284.9 260.1,284.85 262.83,284.84 265.57,284.83 268.31,284.82 271.04,284.81 273.77,284.79 276.51,284.78 279.25,284.77 281.98,284.76 284.72,284.75 287.45,284.74" fill="none" stroke="#000000" stroke-width="1.9" stroke-linejoin="round" stroke-linecap="round"/>
<rect x="1.5" y="314.6" width="163.2" height="64.4" rx="0.9" fill="#fff" stroke="#b6b6b6" stroke-width="0.85"/>
<path d="M12.55 325.15V370.65H161.37" fill="none" stroke="#b4b4b4" stroke-width="0.6"/>
<path d="M13.8 370.65v1.1M16.67 370.65v1.1M19.54 370.65v1.1M22.41 370.65v1.1M25.28 370.65v1.1M28.15 370.65v1.1M31.02 370.65v1.1M33.89 370.65v1.1M36.76 370.65v1.1M39.63 370.65v1.1M42.5 370.65v1.1M45.37 370.65v1.1M48.24 370.65v1.1M51.11 370.65v1.1M53.98 370.65v1.1M56.85 370.65v1.1M59.72 370.65v1.1M62.59 370.65v1.1M65.46 370.65v1.1M68.33 370.65v1.1M71.2 370.65v1.1M74.07 370.65v1.1M76.94 370.65v1.1M79.81 370.65v1.1M82.68 370.65v1.1M85.55 370.65v1.1M88.42 370.65v1.1M91.29 370.65v1.1M94.16 370.65v1.1M97.03 370.65v1.1M99.9 370.65v1.1M102.77 370.65v1.1M105.64 370.65v1.1M108.51 370.65v1.1M111.38 370.65v1.1M114.25 370.65v1.1M117.12 370.65v1.1M119.99 370.65v1.1M122.86 370.65v1.1M125.73 370.65v1.1M128.6 370.65v1.1M131.47 370.65v1.1M134.34 370.65v1.1M137.21 370.65v1.1M140.08 370.65v1.1M142.95 370.65v1.1M145.82 370.65v1.1M148.69 370.65v1.1M151.56 370.65v1.1M154.43 370.65v1.1M157.3 370.65v1.1M160.17 370.65v1.1" stroke="#8e8e8e" stroke-width="0.7" fill="none"/>
<polyline points="13.8,362.37 16.67,364.89 19.54,365.43 22.41,366.15 25.28,366.87 28.15,364.89 31.02,366.15 33.89,367.41 36.76,366.15 39.63,367.95 42.5,366.87 45.37,368.67 48.24,367.41 51.11,367.95 53.98,366.87 56.85,367.95 59.72,366.15 62.59,366.87 65.46,365.43 68.33,363.63 71.2,366.15 74.07,364.89 76.94,365.43 79.81,366.15 82.68,364.89 85.55,363.63 88.42,362.37 91.29,364.35 94.16,361.11 97.03,362.37 99.9,363.63 102.77,362.37 105.64,361.11 108.51,361.83 111.38,362.37 114.25,361.11 117.12,359.31 119.99,361.11 122.86,363.63 125.73,362.37 128.6,358.59 131.47,363.63 134.34,363.63 137.21,361.11 140.08,364.89 142.95,359.85 145.82,352.29 148.69,356.07 151.56,356.79 154.43,357.33 157.3,361.11 160.17,363.63" fill="none" stroke="#4a84d2" stroke-width="0.95" stroke-linejoin="round" stroke-linecap="round"/>
<polyline points="13.8,369.39 16.67,366.15 19.54,367.95 22.41,368.67 25.28,367.41 28.15,368.67 31.02,367.41 33.89,368.67 36.76,367.95 39.63,369.39 42.5,368.67 45.37,369.93 48.24,369.39 51.11,368.67 53.98,369.39 56.85,368.67 59.72,367.95 62.59,369.39 65.46,368.67 68.33,367.95 71.2,366.87 74.07,368.67 76.94,367.41 79.81,366.15 82.68,367.95 85.55,366.87 88.42,366.15 91.29,367.41 94.16,365.43 97.03,364.89 99.9,366.15 102.77,364.89 105.64,363.63 108.51,364.89 111.38,364.35 114.25,365.43 117.12,364.35 119.99,365.43 122.86,366.15 125.73,366.87 128.6,366.15 131.47,367.41 134.34,366.15 137.21,366.87 140.08,367.41 142.95,366.15 145.82,366.87 148.69,366.15 151.56,365.43 154.43,363.63 157.3,364.89 160.17,367.95" fill="none" stroke="#f0a345" stroke-width="0.95" stroke-linejoin="round" stroke-linecap="round"/>
<polyline points="13.8,361.11 16.67,358.59 19.54,361.11 22.41,363.63 25.28,362.37 28.15,364.89 31.02,365.43 33.89,366.15 36.76,366.87 39.63,365.43 42.5,367.95 45.37,369.39 48.24,368.67 51.11,367.95 53.98,368.67 56.85,369.39 59.72,367.95 62.59,367.41 65.46,368.67 68.33,367.95 71.2,368.67 74.07,367.95 76.94,366.87 79.81,367.95 82.68,368.67 85.55,367.95 88.42,366.87 91.29,367.95 94.16,366.87 97.03,366.15 99.9,364.89 102.77,366.15 105.64,365.43 108.51,366.15 111.38,364.89 114.25,366.87 117.12,366.15 119.99,366.87 122.86,367.95 125.73,368.67 128.6,366.87 131.47,367.95 134.34,368.67 137.21,366.87 140.08,365.43 142.95,367.41 145.82,367.95 148.69,368.67 151.56,367.41 154.43,366.15 157.3,367.41 160.17,369.39" fill="none" stroke="#3aa63a" stroke-width="0.95" stroke-linejoin="round" stroke-linecap="round"/>
<polyline points="13.8,369.39 16.67,364.35 19.54,366.15 22.41,366.87 25.28,367.95 28.15,365.43 31.02,366.15 33.89,366.87 36.76,367.41 39.63,364.89 42.5,366.15 45.37,367.95 48.24,368.67 51.11,366.87 53.98,367.95 56.85,366.15 59.72,367.41 62.59,365.43 65.46,366.87 68.33,366.15 71.2,364.35 74.07,365.43 76.94,363.63 79.81,364.35 82.68,362.37 85.55,363.63 88.42,361.11 91.29,361.11 94.16,362.37 97.03,363.63 99.9,361.11 102.77,358.59 105.64,354.81 108.51,351.03 111.38,353.55 114.25,356.07 117.12,357.33 119.99,349.77 122.86,342.75 125.73,345.99 128.6,343.47 131.47,351.03 134.34,347.25 137.21,340.95 140.08,343.47 142.95,340.95 145.82,341.67 148.69,348.51 151.56,344.73 154.43,340.95 157.3,335.19 160.17,349.23" fill="none" stroke="#dd3b30" stroke-width="0.95" stroke-linejoin="round" stroke-linecap="round"/>
<polyline points="13.8,357.33 16.67,338.43 19.54,334.65 22.41,333.03 25.28,332.13 28.15,337.89 31.02,329.61 33.89,329.25 36.76,332.13 39.63,331.41 42.5,349.77 45.37,368.67 48.24,367.95 51.11,366.87 53.98,366.15 56.85,363.09 59.72,363.63 62.59,364.89 65.46,366.87 68.33,366.15 71.2,367.95 74.07,366.15 76.94,368.67 79.81,368.67 82.68,369.39 85.55,369.39 88.42,369.75 91.29,369.75 94.16,369.75 97.03,369.75 99.9,369.75" fill="none" stroke="#000000" stroke-width="1.9" stroke-linejoin="round" stroke-linecap="round"/>
<rect x="186.4" y="314.6" width="162.9" height="64.4" rx="0.9" fill="#fff" stroke="#b6b6b6" stroke-width="0.85"/>
<path d="M199.15 325.15V370.65H346.44" fill="none" stroke="#b4b4b4" stroke-width="0.6"/>
<path d="M200.4 370.65v1.1M203.24 370.65v1.1M206.08 370.65v1.1M208.92 370.65v1.1M211.76 370.65v1.1M214.6 370.65v1.1M217.44 370.65v1.1M220.28 370.65v1.1M223.12 370.65v1.1M225.96 370.65v1.1M228.8 370.65v1.1M231.64 370.65v1.1M234.48 370.65v1.1M237.32 370.65v1.1M240.16 370.65v1.1M243 370.65v1.1M245.84 370.65v1.1M248.68 370.65v1.1M251.52 370.65v1.1M254.36 370.65v1.1M257.2 370.65v1.1M260.04 370.65v1.1M262.88 370.65v1.1M265.72 370.65v1.1M268.56 370.65v1.1M271.4 370.65v1.1M274.24 370.65v1.1M277.08 370.65v1.1M279.92 370.65v1.1M282.76 370.65v1.1M285.6 370.65v1.1M288.44 370.65v1.1M291.28 370.65v1.1M294.12 370.65v1.1M296.96 370.65v1.1M299.8 370.65v1.1M302.64 370.65v1.1M305.48 370.65v1.1M308.32 370.65v1.1M311.16 370.65v1.1M314 370.65v1.1M316.84 370.65v1.1M319.68 370.65v1.1M322.52 370.65v1.1M325.36 370.65v1.1M328.2 370.65v1.1M331.04 370.65v1.1M333.88 370.65v1.1M336.72 370.65v1.1M339.56 370.65v1.1M342.4 370.65v1.1M345.24 370.65v1.1" stroke="#8e8e8e" stroke-width="0.7" fill="none"/>
<polyline points="200.4,370.65 203.24,370.14 206.08,369.64 208.92,369.13 211.76,368.62 214.6,368.37 217.44,368.12 220.28,367.87 223.12,367.61 225.96,367.37 228.8,367.13 231.64,366.9 234.48,366.66 237.32,366.46 240.16,366.26 243,366.07 245.84,365.87 248.68,365.56 251.52,365.25 254.36,364.94 257.2,364.63 260.04,364.31 262.88,363.98 265.72,363.66 268.56,363.34 271.4,362.72 274.24,362.1 277.08,361.48 279.92,360.86 282.76,360.43 285.6,359.99 288.44,359.55 291.28,359.12 294.12,358.61 296.96,358.11 299.8,357.6 302.64,357.09 305.48,356.46 308.32,355.83 311.16,355.2 314,354.56 316.84,354.13 319.68,353.69 322.52,353.25 325.36,352.82 328.2,351.55 331.04,350.29 333.88,349.27 336.72,348.26 339.56,347.77 342.4,347.29 345.24,346.8" fill="none" stroke="#4a84d2" stroke-width="0.95" stroke-linejoin="round" stroke-linecap="round"/>
<polyline points="200.4,370.65 203.24,370.4 206.08,370.14 208.92,369.89 211.76,369.64 214.6,369.45 217.44,369.27 220.28,369.09 223.12,368.91 225.96,368.78 228.8,368.65 231.64,368.53 234.48,368.4 237.32,368.27 240.16,368.15 243,368.02 245.84,367.89 248.68,367.71 251.52,367.53 254.36,367.35 257.2,367.16 260.04,367.04 262.88,366.91 265.72,366.78 268.56,366.66 271.4,366.33 274.24,366.01 277.08,365.69 279.92,365.36 282.76,365.11 285.6,364.86 288.44,364.6 291.28,364.35 294.12,363.98 296.96,363.62 299.8,363.25 302.64,362.89 305.48,362.56 308.32,362.24 311.16,361.92 314,361.59 316.84,361.41 319.68,361.23 322.52,361.05 325.36,360.86 328.2,360.55 331.04,360.24 333.88,359.93 336.72,359.62 339.56,359.36 342.4,359.1 345.24,358.84" fill="none" stroke="#f0a345" stroke-width="0.95" stroke-linejoin="round" stroke-linecap="round"/>
<polyline points="200.4,370.65 203.24,369.96 206.08,369.27 208.92,368.58 211.76,367.89 214.6,367.58 217.44,367.27 220.28,366.97 223.12,366.66 225.96,366.46 228.8,366.26 231.64,366.07 234.48,365.87 237.32,365.69 240.16,365.5 243,365.32 245.84,365.14 248.68,364.97 251.52,364.8 254.36,364.63 257.2,364.46 260.04,364.35 262.88,364.24 265.72,364.12 268.56,364.01 271.4,363.73 274.24,363.45 277.08,363.17 279.92,362.89 282.76,362.63 285.6,362.38 288.44,362.13 291.28,361.88 294.12,361.68 296.96,361.48 299.8,361.28 302.64,361.09 305.48,360.96 308.32,360.83 311.16,360.71 314,360.58 316.84,360.4 319.68,360.22 322.52,360.03 325.36,359.85 328.2,359.67 331.04,359.48 333.88,359.3 336.72,359.12 339.56,358.86 342.4,358.59 345.24,358.33" fill="none" stroke="#3aa63a" stroke-width="0.95" stroke-linejoin="round" stroke-linecap="round"/>
<polyline points="200.4,370.65 203.24,370.27 206.08,369.89 208.92,369.51 211.76,369.13 214.6,368.88 217.44,368.62 220.28,368.37 223.12,368.12 225.96,367.94 228.8,367.75 231.64,367.57 234.48,367.39 237.32,367.01 240.16,366.63 243,366.25 245.84,365.87 248.68,365.43 251.52,365 254.36,364.56 257.2,364.12 260.04,363.79 262.88,363.45 265.72,363.34 268.56,363.22 271.4,362.76 274.24,362.3 277.08,361.83 279.92,361.37 282.76,360.81 285.6,360.24 288.44,359.68 291.28,359.12 294.12,357.85 296.96,356.59 299.8,355.32 302.64,354.06 305.48,352.42 308.32,350.79 311.16,348.91 314,347.02 316.84,345.39 319.68,343.76 322.52,341.62 325.36,339.49 328.2,337.86 331.04,336.22 333.88,334.73 336.72,333.24 339.56,331.72 342.4,330.21 345.24,328.97" fill="none" stroke="#dd3b30" stroke-width="0.95" stroke-linejoin="round" stroke-linecap="round"/>
<polyline points="200.4,369.86 203.24,367.25 206.08,364.63 208.92,362.13 211.76,359.62 214.6,356.87 217.44,354.11 220.28,351.19 223.12,348.26 225.96,347.31 228.8,347.14 231.64,346.97 234.48,346.8 237.32,346.46 240.16,346.12 243,345.7 245.84,345.28 248.68,345.15 251.52,345.03 254.36,344.9 257.2,344.77 260.04,344.72 262.88,344.66 265.72,344.61 268.56,344.55 271.4,344.47 274.24,344.38 277.08,344.3 279.92,344.21 282.76,344.13 285.6,344.04" fill="none" stroke="#000000" stroke-width="1.9" stroke-linejoin="round" stroke-linecap="round"/>
<rect x="1.5" y="387.9" width="162.4" height="60.5" rx="0.9" fill="#fff" stroke="#b6b6b6" stroke-width="0.85"/>
<path d="M10.55 398.75V440.15H160.9" fill="none" stroke="#b4b4b4" stroke-width="0.6"/>
<path d="M11.8 440.15v1.1M14.7 440.15v1.1M17.6 440.15v1.1M20.5 440.15v1.1M23.4 440.15v1.1M26.3 440.15v1.1M29.2 440.15v1.1M32.1 440.15v1.1M35 440.15v1.1M37.9 440.15v1.1M40.8 440.15v1.1M43.7 440.15v1.1M46.6 440.15v1.1M49.5 440.15v1.1M52.4 440.15v1.1M55.3 440.15v1.1M58.2 440.15v1.1M61.1 440.15v1.1M64 440.15v1.1M66.9 440.15v1.1M69.8 440.15v1.1M72.7 440.15v1.1M75.6 440.15v1.1M78.5 440.15v1.1M81.4 440.15v1.1M84.3 440.15v1.1M87.2 440.15v1.1M90.1 440.15v1.1M93 440.15v1.1M95.9 440.15v1.1M98.8 440.15v1.1M101.7 440.15v1.1M104.6 440.15v1.1M107.5 440.15v1.1M110.4 440.15v1.1M113.3 440.15v1.1M116.2 440.15v1.1M119.1 440.15v1.1M122 440.15v1.1M124.9 440.15v1.1M127.8 440.15v1.1M130.7 440.15v1.1M133.6 440.15v1.1M136.5 440.15v1.1M139.4 440.15v1.1M142.3 440.15v1.1M145.2 440.15v1.1M148.1 440.15v1.1M151 440.15v1.1M153.9 440.15v1.1M156.8 440.15v1.1M159.7 440.15v1.1" stroke="#8e8e8e" stroke-width="0.7" fill="none"/>
<polyline points="11.8,422.97 14.7,435.24 17.6,427.06 20.5,422.97 23.4,424.61 26.3,421.34 29.2,422.97 32.1,415.61 35,422.97 37.9,418.06 40.8,413.16 43.7,427.06 46.6,413.97 49.5,421.34 52.4,427.88 55.3,425.43 58.2,427.06 61.1,424.61 64,429.52 66.9,427.88 69.8,430.33 72.7,434.42 75.6,436.88 78.5,432.79 81.4,434.42 84.3,436.88 87.2,432.79 90.1,434.42 93,435.24 95.9,436.88 98.8,437.7 101.7,436.88 104.6,435.24 107.5,432.79 110.4,434.42 113.3,433.61 116.2,435.24 119.1,431.97 122,430.33 124.9,430.33 127.8,428.7 130.7,424.61 133.6,429.52 136.5,432.79 139.4,434.42 142.3,429.52 145.2,430.33 148.1,427.06 151,425.43 153.9,427.06 156.8,424.61 159.7,416.43" fill="none" stroke="#4a84d2" stroke-width="0.95" stroke-linejoin="round" stroke-linecap="round"/>
<polyline points="11.8,411.52 14.7,425.43 17.6,431.97 20.5,427.06 23.4,422.97 26.3,420.52 29.2,422.97 32.1,413.97 35,418.88 37.9,424.61 40.8,422.97 43.7,418.06 46.6,408.25 49.5,415.61 52.4,422.97 55.3,427.06 58.2,427.88 61.1,418.88 64,424.61 66.9,427.88 69.8,429.52 72.7,431.97 75.6,430.33 78.5,429.52 81.4,432.79 84.3,435.24 87.2,431.97 90.1,432.79 93,434.42 95.9,435.24 98.8,436.88 101.7,438.51 104.6,436.88 107.5,434.42 110.4,431.97 113.3,435.24 116.2,434.42 119.1,432.79 122,430.33 124.9,429.52 127.8,427.88 130.7,428.7 133.6,430.33 136.5,435.24 139.4,434.42 142.3,431.97 145.2,425.43 148.1,422.97 151,420.52 153.9,427.06 156.8,422.97 159.7,409.07" fill="none" stroke="#f0a345" stroke-width="0.95" stroke-linejoin="round" stroke-linecap="round"/>
<polyline points="11.8,424.61 14.7,429.52 17.6,424.61 20.5,425.43 23.4,422.97 26.3,417.25 29.2,425.43 32.1,422.97 35,424.61 37.9,416.43 40.8,422.97 43.7,421.34 46.6,429.52 49.5,422.97 52.4,427.06 55.3,421.34 58.2,424.61 61.1,425.43 64,429.52 66.9,427.06 69.8,431.97 72.7,432.79 75.6,430.33 78.5,431.97 81.4,435.24 84.3,434.42 87.2,430.33 90.1,434.42 93,435.24 95.9,437.7 98.8,438.51 101.7,437.7 104.6,435.24 107.5,434.42 110.4,432.79 113.3,434.42 116.2,432.79 119.1,431.97 122,429.52 124.9,427.88 127.8,429.52 130.7,427.88 133.6,430.33 136.5,434.42 139.4,431.97 142.3,422.97 145.2,421.34 148.1,420.52 151,418.88 153.9,424.61 156.8,416.43 159.7,415.61" fill="none" stroke="#3aa63a" stroke-width="0.95" stroke-linejoin="round" stroke-linecap="round"/>
<polyline points="11.8,415.61 14.7,427.88 17.6,432.79 20.5,429.52 23.4,427.06 26.3,425.43 29.2,427.06 32.1,418.06 35,427.88 37.9,421.34 40.8,427.06 43.7,427.06 46.6,425.43 49.5,424.61 52.4,429.52 55.3,427.88 58.2,425.43 61.1,430.33 64,427.88 66.9,432.79 69.8,429.52 72.7,430.33 75.6,429.52 78.5,431.97 81.4,434.42 84.3,436.88 87.2,434.42 90.1,435.24 93,436.88 95.9,438.51 98.8,439.33 101.7,438.51 104.6,436.88 107.5,435.24 110.4,434.42 113.3,436.88 116.2,439.33 119.1,435.24 122,431.97 124.9,430.33 127.8,429.52 130.7,427.88 133.6,431.97 136.5,433.61 139.4,434.42 142.3,432.79 145.2,427.88 148.1,429.52 151,430.33 153.9,429.52 156.8,425.43 159.7,422.15" fill="none" stroke="#dd3b30" stroke-width="0.95" stroke-linejoin="round" stroke-linecap="round"/>
<polyline points="11.8,424.61 14.7,427.88 17.6,432.79 20.5,429.52 23.4,427.06 26.3,424.61 29.2,424.61 32.1,425.43 35,427.06 37.9,421.34 40.8,429.52 43.7,431.97 46.6,431.97 49.5,435.24 52.4,437.7 55.3,436.88 58.2,437.7 61.1,439.33 64,436.88 66.9,437.7 69.8,438.51 72.7,436.88 75.6,437.7 78.5,435.24 81.4,437.7 84.3,439.33 87.2,434.42 90.1,435.24 93,434.42 95.9,435.24 98.8,439.33" fill="none" stroke="#000000" stroke-width="1.9" stroke-linejoin="round" stroke-linecap="round"/>
<rect x="186.8" y="387.9" width="162.5" height="60.5" rx="0.9" fill="#fff" stroke="#b6b6b6" stroke-width="0.85"/>
<path d="M199.95 398.75V440.15H346.38" fill="none" stroke="#b4b4b4" stroke-width="0.6"/>
<path d="M201.1 440.15v1.1M203.92 440.15v1.1M206.75 440.15v1.1M209.57 440.15v1.1M212.4 440.15v1.1M215.22 440.15v1.1M218.05 440.15v1.1M220.88 440.15v1.1M223.7 440.15v1.1M226.53 440.15v1.1M229.35 440.15v1.1M232.18 440.15v1.1M235 440.15v1.1M237.82 440.15v1.1M240.65 440.15v1.1M243.47 440.15v1.1M246.3 440.15v1.1M249.12 440.15v1.1M251.95 440.15v1.1M254.78 440.15v1.1M257.6 440.15v1.1M260.43 440.15v1.1M263.25 440.15v1.1M266.07 440.15v1.1M268.9 440.15v1.1M271.73 440.15v1.1M274.55 440.15v1.1M277.38 440.15v1.1M280.2 440.15v1.1M283.02 440.15v1.1M285.85 440.15v1.1M288.68 440.15v1.1M291.5 440.15v1.1M294.32 440.15v1.1M297.15 440.15v1.1M299.98 440.15v1.1M302.8 440.15v1.1M305.62 440.15v1.1M308.45 440.15v1.1M311.27 440.15v1.1M314.1 440.15v1.1M316.93 440.15v1.1M319.75 440.15v1.1M322.57 440.15v1.1M325.4 440.15v1.1M328.23 440.15v1.1M331.05 440.15v1.1M333.88 440.15v1.1M336.7 440.15v1.1M339.52 440.15v1.1M342.35 440.15v1.1M345.18 440.15v1.1" stroke="#8e8e8e" stroke-width="0.7" fill="none"/>
<polyline points="201.1,439.41 203.92,438.83 206.75,438.25 209.57,437.67 212.4,437.08 215.22,436.11 218.05,435.14 220.88,434.17 223.7,433.2 226.53,431.92 229.35,430.64 232.18,429.36 235,428.08 237.82,427.32 240.65,426.55 243.47,425.78 246.3,425.02 249.12,424.56 251.95,424.1 254.78,423.64 257.6,423.18 260.43,422.87 263.25,422.56 266.07,422.26 268.9,421.95 271.73,421.59 274.55,421.23 277.38,420.88 280.2,420.52 283.02,420.26 285.85,420.01 288.68,419.75 291.5,419.5 294.32,419.29 297.15,419.09 299.98,418.88 302.8,418.68 305.62,418.22 308.45,417.76 311.27,417.3 314.1,416.84 316.93,416.48 319.75,416.12 322.57,415.76 325.4,415.41 328.23,414.64 331.05,413.87 333.88,413.1 336.7,412.34 339.52,411.25 342.35,410.16 345.18,409.07" fill="none" stroke="#4a84d2" stroke-width="0.95" stroke-linejoin="round" stroke-linecap="round"/>
<polyline points="201.1,439.33 203.92,438.72 206.75,438.1 209.57,437.49 212.4,436.88 215.22,435.8 218.05,434.73 220.88,433.66 223.7,432.58 226.53,431.36 229.35,430.13 232.18,428.49 235,426.86 237.82,426.35 240.65,425.83 243.47,424.81 246.3,423.79 249.12,423.18 251.95,422.56 254.78,422.15 257.6,421.75 260.43,421.28 263.25,420.82 266.07,420.36 268.9,419.9 271.73,419.6 274.55,419.29 277.38,418.98 280.2,418.68 283.02,418.47 285.85,418.27 288.68,418.06 291.5,417.86 294.32,417.55 297.15,417.25 299.98,416.94 302.8,416.63 305.62,416.22 308.45,415.81 311.27,415.41 314.1,415 316.93,414.54 319.75,414.08 322.57,413.62 325.4,413.16 328.23,412.34 331.05,411.52 333.88,410.91 336.7,410.29 339.52,409.34 342.35,408.38 345.18,407.43" fill="none" stroke="#f0a345" stroke-width="0.95" stroke-linejoin="round" stroke-linecap="round"/>
<polyline points="201.1,439.41 203.92,438.78 206.75,438.15 209.57,437.51 212.4,436.88 215.22,435.91 218.05,434.94 220.88,433.96 223.7,432.99 226.53,431.61 229.35,430.23 232.18,428.85 235,427.47 237.82,426.7 240.65,425.94 243.47,425.17 246.3,424.4 249.12,423.94 251.95,423.48 254.78,423.02 257.6,422.56 260.43,422.21 263.25,421.85 266.07,421.49 268.9,421.13 271.73,420.82 274.55,420.52 277.38,420.21 280.2,419.9 283.02,419.75 285.85,419.6 288.68,419.44 291.5,419.29 294.32,419.04 297.15,418.78 299.98,418.52 302.8,418.27 305.62,417.86 308.45,417.45 311.27,417.04 314.1,416.63 316.93,416.22 319.75,415.81 322.57,415.41 325.4,415 328.23,414.13 331.05,413.26 333.88,412.39 336.7,411.52 339.52,410.29 342.35,409.07 345.18,407.84" fill="none" stroke="#3aa63a" stroke-width="0.95" stroke-linejoin="round" stroke-linecap="round"/>
<polyline points="201.1,439.13 203.92,438.77 206.75,438.41 209.57,438.05 212.4,437.7 215.22,436.88 218.05,436.06 220.88,435.24 223.7,434.42 226.53,433.35 229.35,432.28 232.18,431.2 235,430.13 237.82,429.46 240.65,428.8 243.47,428.14 246.3,427.47 249.12,426.91 251.95,426.35 254.78,425.78 257.6,425.22 260.43,425.02 263.25,424.81 266.07,424.61 268.9,424.4 271.73,424.1 274.55,423.79 277.38,423.48 280.2,423.18 283.02,423.02 285.85,422.87 288.68,422.72 291.5,422.56 294.32,422.36 297.15,422.15 299.98,421.95 302.8,421.75 305.62,421.28 308.45,420.82 311.27,420.36 314.1,419.9 316.93,419.5 319.75,419.09 322.57,418.68 325.4,418.27 328.23,417.76 331.05,417.25 333.88,416.73 336.7,416.22 339.52,415.34 342.35,414.45 345.18,413.56" fill="none" stroke="#dd3b30" stroke-width="0.95" stroke-linejoin="round" stroke-linecap="round"/>
<polyline points="201.1,439.37 203.92,438.75 206.75,438.13 209.57,437.5 212.4,436.88 215.22,436.01 218.05,435.14 220.88,434.27 223.7,433.4 226.53,432.69 229.35,431.97 232.18,431.66 235,431.36 237.82,431.2 240.65,431.05 243.47,430.9 246.3,430.74 249.12,430.66 251.95,430.58 254.78,430.5 257.6,430.42 260.43,430.37 263.25,430.33 266.07,430.29 268.9,430.25 271.73,430.07 274.55,429.88 277.38,429.7 280.2,429.52 283.02,429.31 285.85,429.11" fill="none" stroke="#000000" stroke-width="1.9" stroke-linejoin="round" stroke-linecap="round"/>
<rect x="1.5" y="460" width="163.2" height="60.5" rx="0.9" fill="#fff" stroke="#b6b6b6" stroke-width="0.85"/>
<path d="M10.55 471.35V512.05H161.41" fill="none" stroke="#b4b4b4" stroke-width="0.6"/>
<path d="M11.8 512.05v1.1M14.71 512.05v1.1M17.62 512.05v1.1M20.53 512.05v1.1M23.44 512.05v1.1M26.35 512.05v1.1M29.26 512.05v1.1M32.17 512.05v1.1M35.08 512.05v1.1M37.99 512.05v1.1M40.9 512.05v1.1M43.81 512.05v1.1M46.72 512.05v1.1M49.63 512.05v1.1M52.54 512.05v1.1M55.45 512.05v1.1M58.36 512.05v1.1M61.27 512.05v1.1M64.18 512.05v1.1M67.09 512.05v1.1M70 512.05v1.1M72.91 512.05v1.1M75.82 512.05v1.1M78.73 512.05v1.1M81.64 512.05v1.1M84.55 512.05v1.1M87.46 512.05v1.1M90.37 512.05v1.1M93.28 512.05v1.1M96.19 512.05v1.1M99.1 512.05v1.1M102.01 512.05v1.1M104.92 512.05v1.1M107.83 512.05v1.1M110.74 512.05v1.1M113.65 512.05v1.1M116.56 512.05v1.1M119.47 512.05v1.1M122.38 512.05v1.1M125.29 512.05v1.1M128.2 512.05v1.1M131.11 512.05v1.1M134.02 512.05v1.1M136.93 512.05v1.1M139.84 512.05v1.1M142.75 512.05v1.1M145.66 512.05v1.1M148.57 512.05v1.1M151.48 512.05v1.1M154.39 512.05v1.1M157.3 512.05v1.1M160.21 512.05v1.1" stroke="#8e8e8e" stroke-width="0.7" fill="none"/>
<polyline points="11.8,495.97 14.71,487.93 17.62,487.93 20.53,499.99 23.44,504.01 26.35,504.01 29.26,504.01 32.17,499.99 35.08,504.01 37.99,487.93 40.9,499.99 43.81,504.01 46.72,495.97 49.63,504.01 52.54,508.03 55.45,499.99 58.36,495.97 61.27,499.99 64.18,491.95 67.09,499.99 70,504.01 72.91,499.99 75.82,508.03 78.73,499.99 81.64,508.03 84.55,504.01 87.46,499.99 90.37,491.95 93.28,504.01 96.19,508.03 99.1,508.03 102.01,508.03 104.92,508.03 107.83,512.05 110.74,508.03 113.65,508.03 116.56,504.01 119.47,508.03 122.38,508.03 125.29,499.99 128.2,508.03 131.11,508.03 134.02,504.01 136.93,508.03 139.84,504.01 142.75,508.03 145.66,508.03 148.57,508.03 151.48,512.05 154.39,508.03 157.3,491.95 160.21,508.03" fill="none" stroke="#4a84d2" stroke-width="0.95" stroke-linejoin="round" stroke-linecap="round"/>
<polyline points="11.8,487.93 14.71,499.99 17.62,504.01 20.53,499.99 23.44,495.97 26.35,499.99 29.26,495.97 32.17,504.01 35.08,499.99 37.99,504.01 40.9,499.99 43.81,504.01 46.72,491.95 49.63,499.99 52.54,504.01 55.45,499.99 58.36,504.01 61.27,495.97 64.18,499.99 67.09,495.97 70,499.99 72.91,495.97 75.82,504.01 78.73,495.97 81.64,508.03 84.55,504.01 87.46,499.99 90.37,504.01 93.28,508.03 96.19,508.03 99.1,512.05 102.01,508.03 104.92,508.03 107.83,504.01 110.74,508.03 113.65,508.03 116.56,499.99 119.47,508.03 122.38,508.03 125.29,495.97 128.2,508.03 131.11,504.01 134.02,499.99 136.93,504.01 139.84,499.99 142.75,504.01 145.66,499.99 148.57,508.03 151.48,504.01 154.39,495.97 157.3,487.93 160.21,495.97" fill="none" stroke="#f0a345" stroke-width="0.95" stroke-linejoin="round" stroke-linecap="round"/>
<polyline points="11.8,499.99 14.71,504.01 17.62,499.99 20.53,504.01 23.44,499.99 26.35,495.97 29.26,475.87 32.17,499.99 35.08,504.01 37.99,495.97 40.9,504.01 43.81,499.99 46.72,504.01 49.63,483.91 52.54,491.95 55.45,508.03 58.36,504.01 61.27,499.99 64.18,504.01 67.09,499.99 70,508.03 72.91,504.01 75.82,499.99 78.73,508.03 81.64,504.01 84.55,499.99 87.46,508.03 90.37,508.03 93.28,508.03 96.19,512.05 99.1,512.05 102.01,508.03 104.92,512.05 107.83,508.03 110.74,512.05 113.65,512.05 116.56,508.03 119.47,508.03 122.38,508.03 125.29,491.95 128.2,508.03 131.11,508.03 134.02,508.03 136.93,504.01 139.84,499.99 142.75,504.01 145.66,508.03 148.57,499.99 151.48,508.03 154.39,504.01 157.3,495.97 160.21,499.99" fill="none" stroke="#3aa63a" stroke-width="0.95" stroke-linejoin="round" stroke-linecap="round"/>
<polyline points="11.8,487.93 14.71,504.01 17.62,508.03 20.53,499.99 23.44,504.01 26.35,499.99 29.26,499.99 32.17,499.99 35.08,508.03 37.99,504.01 40.9,495.97 43.81,504.01 46.72,508.03 49.63,499.99 52.54,508.03 55.45,504.01 58.36,499.99 61.27,491.95 64.18,504.01 67.09,508.03 70,499.99 72.91,508.03 75.82,495.97 78.73,504.01 81.64,499.99 84.55,508.03 87.46,504.01 90.37,508.03 93.28,504.01 96.19,499.99 99.1,504.01 102.01,508.03 104.92,504.01 107.83,508.03 110.74,508.03 113.65,504.01 116.56,508.03 119.47,504.01 122.38,508.03 125.29,508.03 128.2,504.01 131.11,508.03 134.02,504.01 136.93,499.99 139.84,504.01 142.75,495.97 145.66,499.99 148.57,504.01 151.48,499.99 154.39,491.95 157.3,495.97 160.21,487.93" fill="none" stroke="#dd3b30" stroke-width="0.95" stroke-linejoin="round" stroke-linecap="round"/>
<polyline points="11.8,499.99 14.71,491.95 17.62,508.03 20.53,504.01 23.44,508.03 26.35,508.03 29.26,512.05 32.17,508.03 35.08,499.99 37.99,512.05 40.9,504.01 43.81,508.03 46.72,508.03 49.63,508.03 52.54,512.05 55.45,499.99 58.36,508.03 61.27,499.99 64.18,508.03 67.09,504.01 70,512.05 72.91,508.03 75.82,504.01 78.73,512.05 81.64,491.95 84.55,508.03 87.46,508.03 90.37,512.05 93.28,512.05 96.19,512.05 99.1,512.05" fill="none" stroke="#000000" stroke-width="1.9" stroke-linejoin="round" stroke-linecap="round"/>
<rect x="187" y="460" width="162.3" height="60.5" rx="0.9" fill="#fff" stroke="#b6b6b6" stroke-width="0.85"/>
<path d="M198.65 471.85V511.95H345.94" fill="none" stroke="#b4b4b4" stroke-width="0.6"/>
<path d="M199.9 511.95v1.1M202.74 511.95v1.1M205.58 511.95v1.1M208.42 511.95v1.1M211.26 511.95v1.1M214.1 511.95v1.1M216.94 511.95v1.1M219.78 511.95v1.1M222.62 511.95v1.1M225.46 511.95v1.1M228.3 511.95v1.1M231.14 511.95v1.1M233.98 511.95v1.1M236.82 511.95v1.1M239.66 511.95v1.1M242.5 511.95v1.1M245.34 511.95v1.1M248.18 511.95v1.1M251.02 511.95v1.1M253.86 511.95v1.1M256.7 511.95v1.1M259.54 511.95v1.1M262.38 511.95v1.1M265.22 511.95v1.1M268.06 511.95v1.1M270.9 511.95v1.1M273.74 511.95v1.1M276.58 511.95v1.1M279.42 511.95v1.1M282.26 511.95v1.1M285.1 511.95v1.1M287.94 511.95v1.1M290.78 511.95v1.1M293.62 511.95v1.1M296.46 511.95v1.1M299.3 511.95v1.1M302.14 511.95v1.1M304.98 511.95v1.1M307.82 511.95v1.1M310.66 511.95v1.1M313.5 511.95v1.1M316.34 511.95v1.1M319.18 511.95v1.1M322.02 511.95v1.1M324.86 511.95v1.1M327.7 511.95v1.1M330.54 511.95v1.1M333.38 511.95v1.1M336.22 511.95v1.1M339.06 511.95v1.1M341.9 511.95v1.1M344.74 511.95v1.1" stroke="#8e8e8e" stroke-width="0.7" fill="none"/>
<polyline points="199.9,510.82 202.74,509.97 205.58,509.12 208.42,508.27 211.26,507.42 214.1,506.72 216.94,506.01 219.78,505.3 222.62,504.6 225.46,503.96 228.3,503.32 231.14,502.69 233.98,502.05 236.82,501.2 239.66,500.35 242.5,499.5 245.34,498.66 248.18,497.95 251.02,497.24 253.86,496.53 256.7,495.83 259.54,495.4 262.38,494.98 265.22,494.55 268.06,494.13 270.9,493.49 273.74,492.86 276.58,492.22 279.42,491.58 282.26,491.3 285.1,491.02 287.94,490.74 290.78,490.45 293.62,490.17 296.46,489.89 299.3,489.6 302.14,489.32 304.98,488.83 307.82,488.33 310.66,487.84 313.5,487.34 316.34,487.06 319.18,486.78 322.02,486.49 324.86,486.21 327.7,485.72 330.54,485.22 333.38,484.73 336.22,484.23 339.06,483.38 341.9,482.53 344.74,481.68" fill="none" stroke="#4a84d2" stroke-width="0.95" stroke-linejoin="round" stroke-linecap="round"/>
<polyline points="199.9,510.25 202.74,509.55 205.58,508.84 208.42,508.13 211.26,507.42 214.1,506.65 216.94,505.87 219.78,505.09 222.62,504.31 225.46,503.53 228.3,502.76 231.14,501.98 233.98,501.2 236.82,500.49 239.66,499.79 242.5,499.08 245.34,498.37 248.18,497.67 251.02,496.96 253.86,496.25 256.7,495.54 259.54,494.91 262.38,494.27 265.22,493.63 268.06,493 270.9,492.57 273.74,492.15 276.58,491.73 279.42,491.3 282.26,490.88 285.1,490.45 287.94,490.03 290.78,489.6 293.62,489.32 296.46,489.04 299.3,488.76 302.14,488.47 304.98,488.05 307.82,487.62 310.66,487.2 313.5,486.78 316.34,486.28 319.18,485.79 322.02,485.29 324.86,484.8 327.7,484.23 330.54,483.66 333.38,483.1 336.22,482.53 339.06,481.12 341.9,479.7 344.74,478.29" fill="none" stroke="#f0a345" stroke-width="0.95" stroke-linejoin="round" stroke-linecap="round"/>
<polyline points="199.9,510.82 202.74,509.69 205.58,508.56 208.42,507.85 211.26,507.14 214.1,505.73 216.94,504.31 219.78,503.89 222.62,503.46 225.46,502.62 228.3,501.77 231.14,500.92 233.98,500.07 236.82,498.94 239.66,497.81 242.5,497.24 245.34,496.68 248.18,496.11 251.02,495.54 253.86,494.84 256.7,494.13 259.54,493.71 262.38,493.28 265.22,492.72 268.06,492.15 270.9,491.73 273.74,491.3 276.58,490.88 279.42,490.45 282.26,490.17 285.1,489.89 287.94,489.6 290.78,489.32 293.62,489.11 296.46,488.9 299.3,488.69 302.14,488.47 304.98,488.19 307.82,487.91 310.66,487.62 313.5,487.34 316.34,486.7 319.18,486.07 322.02,485.43 324.86,484.8 327.7,484.3 330.54,483.81 333.38,483.31 336.22,482.82 339.06,482.06 341.9,481.31 344.74,480.55" fill="none" stroke="#3aa63a" stroke-width="0.95" stroke-linejoin="round" stroke-linecap="round"/>
<polyline points="199.9,510.25 202.74,509.69 205.58,509.12 208.42,508.56 211.26,507.99 214.1,507.35 216.94,506.72 219.78,506.08 222.62,505.44 225.46,504.95 228.3,504.45 231.14,503.96 233.98,503.46 236.82,502.83 239.66,502.19 242.5,501.56 245.34,500.92 248.18,500.28 251.02,499.65 253.86,499.01 256.7,498.37 259.54,497.52 262.38,496.68 265.22,496.39 268.06,496.11 270.9,495.97 273.74,495.83 276.58,494.98 279.42,494.13 282.26,493.71 285.1,493.28 287.94,492.86 290.78,492.43 293.62,492.15 296.46,491.87 299.3,491.58 302.14,491.3 304.98,490.95 307.82,490.59 310.66,490.24 313.5,489.89 316.34,489.39 319.18,488.9 322.02,488.4 324.86,487.91 327.7,486.99 330.54,486.07 333.38,485.15 336.22,484.23 339.06,483 341.9,481.78 344.74,480.55" fill="none" stroke="#dd3b30" stroke-width="0.95" stroke-linejoin="round" stroke-linecap="round"/>
<polyline points="199.9,511.1 202.74,509.97 205.58,508.84 208.42,508.56 211.26,508.27 214.1,508.13 216.94,507.99 219.78,507.42 222.62,506.86 225.46,506.5 228.3,506.15 231.14,505.8 233.98,505.44 236.82,505.02 239.66,504.6 242.5,504.17 245.34,503.75 248.18,503.39 251.02,503.04 253.86,502.69 256.7,502.33 259.54,502.05 262.38,501.77 265.22,501.48 268.06,501.2 270.9,500.78 273.74,500.35 276.58,500.28 279.42,500.21 282.26,500.14 285.1,500.07" fill="none" stroke="#000000" stroke-width="1.9" stroke-linejoin="round" stroke-linecap="round"/>
<rect x="1.5" y="531.5" width="162.4" height="59.9" rx="0.9" fill="#fff" stroke="#b6b6b6" stroke-width="0.85"/>
<path d="M8.85 542.75V582.55H160.12" fill="none" stroke="#b4b4b4" stroke-width="0.6"/>
<path d="M10 582.55v1.1M12.92 582.55v1.1M15.84 582.55v1.1M18.76 582.55v1.1M21.68 582.55v1.1M24.6 582.55v1.1M27.52 582.55v1.1M30.44 582.55v1.1M33.36 582.55v1.1M36.28 582.55v1.1M39.2 582.55v1.1M42.12 582.55v1.1M45.04 582.55v1.1M47.96 582.55v1.1M50.88 582.55v1.1M53.8 582.55v1.1M56.72 582.55v1.1M59.64 582.55v1.1M62.56 582.55v1.1M65.48 582.55v1.1M68.4 582.55v1.1M71.32 582.55v1.1M74.24 582.55v1.1M77.16 582.55v1.1M80.08 582.55v1.1M83 582.55v1.1M85.92 582.55v1.1M88.84 582.55v1.1M91.76 582.55v1.1M94.68 582.55v1.1M97.6 582.55v1.1M100.52 582.55v1.1M103.44 582.55v1.1M106.36 582.55v1.1M109.28 582.55v1.1M112.2 582.55v1.1M115.12 582.55v1.1M118.04 582.55v1.1M120.96 582.55v1.1M123.88 582.55v1.1M126.8 582.55v1.1M129.72 582.55v1.1M132.64 582.55v1.1M135.56 582.55v1.1M138.48 582.55v1.1M141.4 582.55v1.1M144.32 582.55v1.1M147.24 582.55v1.1M150.16 582.55v1.1M153.08 582.55v1.1M156 582.55v1.1M158.92 582.55v1.1" stroke="#8e8e8e" stroke-width="0.7" fill="none"/>
<polyline points="10,582.55 12.92,574.69 15.84,566.83 18.76,582.55 21.68,574.69 24.6,566.83 27.52,574.69 30.44,582.55 33.36,574.69 36.28,566.83 39.2,582.55 42.12,574.69 45.04,582.55 47.96,582.55 50.88,582.55 53.8,574.69 56.72,582.55 59.64,566.83 62.56,574.69 65.48,582.55 68.4,574.69 71.32,582.55 74.24,582.55 77.16,582.55 80.08,566.83 83,582.55 85.92,574.69 88.84,582.55 91.76,566.83 94.68,582.55 97.6,566.83 100.52,582.55 103.44,582.55 106.36,582.55 109.28,582.55 112.2,574.69 115.12,574.69 118.04,582.55 120.96,574.69 123.88,582.55 126.8,574.69 129.72,574.69 132.64,574.69 135.56,582.55 138.48,582.55 141.4,574.69 144.32,582.55 147.24,574.69 150.16,582.55 153.08,566.83 156,574.69 158.92,582.55" fill="none" stroke="#4a84d2" stroke-width="0.95" stroke-linejoin="round" stroke-linecap="round"/>
<polyline points="10,574.69 12.92,582.55 15.84,582.55 18.76,574.69 21.68,582.55 24.6,574.69 27.52,558.97 30.44,574.69 33.36,582.55 36.28,574.69 39.2,574.69 42.12,582.55 45.04,574.69 47.96,574.69 50.88,566.83 53.8,566.83 56.72,574.69 59.64,574.69 62.56,582.55 65.48,574.69 68.4,582.55 71.32,574.69 74.24,582.55 77.16,574.69 80.08,574.69 83,566.83 85.92,574.69 88.84,574.69 91.76,582.55 94.68,574.69 97.6,574.69 100.52,582.55 103.44,582.55 106.36,582.55 109.28,574.69 112.2,574.69 115.12,582.55 118.04,574.69 120.96,582.55 123.88,574.69 126.8,574.69 129.72,574.69 132.64,574.69 135.56,566.83 138.48,574.69 141.4,582.55 144.32,574.69 147.24,574.69 150.16,582.55 153.08,574.69 156,574.69 158.92,574.69" fill="none" stroke="#f0a345" stroke-width="0.95" stroke-linejoin="round" stroke-linecap="round"/>
<polyline points="10,566.83 12.92,582.55 15.84,582.55 18.76,574.69 21.68,566.83 24.6,574.69 27.52,582.55 30.44,582.55 33.36,574.69 36.28,582.55 39.2,582.55 42.12,582.55 45.04,582.55 47.96,574.69 50.88,582.55 53.8,582.55 56.72,582.55 59.64,582.55 62.56,574.69 65.48,566.83 68.4,582.55 71.32,566.83 74.24,582.55 77.16,574.69 80.08,582.55 83,582.55 85.92,574.69 88.84,582.55 91.76,574.69 94.68,582.55 97.6,582.55 100.52,582.55 103.44,582.55 106.36,582.55 109.28,582.55 112.2,566.83 115.12,574.69 118.04,582.55 120.96,566.83 123.88,574.69 126.8,574.69 129.72,574.69 132.64,574.69 135.56,582.55 138.48,574.69 141.4,582.55 144.32,574.69 147.24,582.55 150.16,574.69 153.08,574.69 156,574.69 158.92,574.69" fill="none" stroke="#3aa63a" stroke-width="0.95" stroke-linejoin="round" stroke-linecap="round"/>
<polyline points="10,566.83 12.92,558.97 15.84,574.69 18.76,566.83 21.68,574.69 24.6,582.55 27.52,566.83 30.44,558.97 33.36,574.69 36.28,574.69 39.2,566.83 42.12,574.69 45.04,566.83 47.96,574.69 50.88,582.55 53.8,582.55 56.72,574.69 59.64,582.55 62.56,566.83 65.48,582.55 68.4,566.83 71.32,582.55 74.24,574.69 77.16,566.83 80.08,582.55 83,574.69 85.92,566.83 88.84,551.11 91.76,574.69 94.68,566.83 97.6,574.69 100.52,582.55 103.44,582.55 106.36,582.55 109.28,574.69 112.2,574.69 115.12,582.55 118.04,574.69 120.96,582.55 123.88,582.55 126.8,574.69 129.72,582.55 132.64,574.69 135.56,574.69 138.48,582.55 141.4,574.69 144.32,574.69 147.24,558.97 150.16,566.83 153.08,566.83 156,558.97 158.92,582.55" fill="none" stroke="#dd3b30" stroke-width="0.95" stroke-linejoin="round" stroke-linecap="round"/>
<polyline points="10,582.55 12.92,582.55 15.84,574.69 18.76,566.83 21.68,558.97 24.6,582.55 27.52,574.69 30.44,566.83 33.36,582.55 36.28,582.55 39.2,574.69 42.12,574.69 45.04,582.55 47.96,582.55 50.88,574.69 53.8,582.55 56.72,582.55 59.64,582.55 62.56,582.55 65.48,582.55 68.4,582.55 71.32,582.55 74.24,582.55 77.16,582.55 80.08,582.55 83,582.55 85.92,566.83 88.84,582.55 91.76,574.69 94.68,574.69 97.6,582.55" fill="none" stroke="#000000" stroke-width="1.9" stroke-linejoin="round" stroke-linecap="round"/>
<rect x="186.4" y="531.5" width="162.9" height="59.9" rx="0.9" fill="#fff" stroke="#b6b6b6" stroke-width="0.85"/>
<path d="M195.95 542.95V582.55H346.2" fill="none" stroke="#b4b4b4" stroke-width="0.6"/>
<path d="M197.1 582.55v1.1M200 582.55v1.1M202.9 582.55v1.1M205.8 582.55v1.1M208.7 582.55v1.1M211.6 582.55v1.1M214.5 582.55v1.1M217.4 582.55v1.1M220.3 582.55v1.1M223.2 582.55v1.1M226.1 582.55v1.1M229 582.55v1.1M231.9 582.55v1.1M234.8 582.55v1.1M237.7 582.55v1.1M240.6 582.55v1.1M243.5 582.55v1.1M246.4 582.55v1.1M249.3 582.55v1.1M252.2 582.55v1.1M255.1 582.55v1.1M258 582.55v1.1M260.9 582.55v1.1M263.8 582.55v1.1M266.7 582.55v1.1M269.6 582.55v1.1M272.5 582.55v1.1M275.4 582.55v1.1M278.3 582.55v1.1M281.2 582.55v1.1M284.1 582.55v1.1M287 582.55v1.1M289.9 582.55v1.1M292.8 582.55v1.1M295.7 582.55v1.1M298.6 582.55v1.1M301.5 582.55v1.1M304.4 582.55v1.1M307.3 582.55v1.1M310.2 582.55v1.1M313.1 582.55v1.1M316 582.55v1.1M318.9 582.55v1.1M321.8 582.55v1.1M324.7 582.55v1.1M327.6 582.55v1.1M330.5 582.55v1.1M333.4 582.55v1.1M336.3 582.55v1.1M339.2 582.55v1.1M342.1 582.55v1.1M345 582.55v1.1" stroke="#8e8e8e" stroke-width="0.7" fill="none"/>
<polyline points="197.1,582.55 200,581.57 202.9,580.59 205.8,579.94 208.7,579.29 211.6,578.31 214.5,577.34 217.4,576.68 220.3,576.03 223.2,575.71 226.1,575.38 229,574.57 231.9,573.75 234.8,573.26 237.7,572.77 240.6,572.45 243.5,572.12 246.4,571.63 249.3,571.15 252.2,570.66 255.1,570.17 258,569.84 260.9,569.52 263.8,569.19 266.7,568.87 269.6,568.54 272.5,568.21 275.4,567.89 278.3,567.56 281.2,566.58 284.1,565.61 287,565.44 289.9,565.28 292.8,565.2 295.7,565.12 298.6,565.04 301.5,564.96 304.4,564.79 307.3,564.63 310.2,564.47 313.1,564.3 316,564.22 318.9,564.14 321.8,564.06 324.7,563.98 327.6,563.65 330.5,563.33 333.4,563 336.3,562.67 339.2,562.24 342.1,561.81 345,561.37" fill="none" stroke="#4a84d2" stroke-width="0.95" stroke-linejoin="round" stroke-linecap="round"/>
<polyline points="197.1,581.9 200,580.92 202.9,579.94 205.8,579.94 208.7,579.94 211.6,578.97 214.5,577.99 217.4,577.34 220.3,576.68 223.2,576.36 226.1,576.03 229,575.71 231.9,575.38 234.8,575.06 237.7,574.73 240.6,574.4 243.5,574.08 246.4,573.59 249.3,573.1 252.2,572.61 255.1,572.12 258,571.8 260.9,571.47 263.8,571.15 266.7,570.82 269.6,570.49 272.5,570.17 275.4,569.84 278.3,569.52 281.2,569.19 284.1,568.87 287,568.54 289.9,568.21 292.8,567.89 295.7,567.56 298.6,567.24 301.5,566.91 304.4,566.42 307.3,565.93 310.2,565.44 313.1,564.96 316,564.71 318.9,564.47 321.8,564.22 324.7,563.98 327.6,563.73 330.5,563.49 333.4,563.24 336.3,563 339.2,562.35 342.1,561.7 345,561.04" fill="none" stroke="#f0a345" stroke-width="0.95" stroke-linejoin="round" stroke-linecap="round"/>
<polyline points="197.1,581.25 200,580.92 202.9,580.59 205.8,579.94 208.7,579.29 211.6,578.72 214.5,578.15 217.4,577.58 220.3,577.01 223.2,577.01 226.1,577.01 229,577.01 231.9,577.01 234.8,576.93 237.7,576.85 240.6,576.77 243.5,576.68 246.4,576.03 249.3,575.38 252.2,574.4 255.1,573.43 258,572.77 260.9,572.12 263.8,571.8 266.7,571.47 269.6,571.31 272.5,571.15 275.4,570.98 278.3,570.82 281.2,570.66 284.1,570.49 287,570.33 289.9,570.17 292.8,569.84 295.7,569.52 298.6,568.54 301.5,567.56 304.4,567.07 307.3,566.58 310.2,566.1 313.1,565.61 316,565.2 318.9,564.79 321.8,564.38 324.7,563.98 327.6,563.73 330.5,563.49 333.4,563.24 336.3,563 339.2,562.46 342.1,561.91 345,561.37" fill="none" stroke="#3aa63a" stroke-width="0.95" stroke-linejoin="round" stroke-linecap="round"/>
<polyline points="197.1,581.25 200,580.59 202.9,579.94 205.8,579.29 208.7,578.64 211.6,577.83 214.5,577.01 217.4,576.2 220.3,575.38 223.2,574.08 226.1,572.77 229,572.12 231.9,571.47 234.8,571.47 237.7,571.47 240.6,571.15 243.5,570.82 246.4,569.52 249.3,568.21 252.2,567.24 255.1,566.26 258,565.61 260.9,564.96 263.8,564.79 266.7,564.63 269.6,564.14 272.5,563.65 275.4,561.7 278.3,561.04 281.2,560.72 284.1,560.39 287,560.39 289.9,560.39 292.8,559.9 295.7,559.42 298.6,559.09 301.5,558.76 304.4,558.6 307.3,558.44 310.2,558.11 313.1,557.79 316,557.46 318.9,557.13 321.8,557.13 324.7,557.13 327.6,555.83 330.5,554.53 333.4,553.55 336.3,552.57 339.2,550.94 342.1,549.32 345,549.32" fill="none" stroke="#dd3b30" stroke-width="0.95" stroke-linejoin="round" stroke-linecap="round"/>
<polyline points="197.1,582.55 200,582.22 202.9,581.9 205.8,580.59 208.7,578.31 211.6,578.31 214.5,577.99 217.4,576.68 220.3,576.68 223.2,576.2 226.1,575.71 229,575.54 231.9,575.38 234.8,575.3 237.7,575.22 240.6,575.14 243.5,575.06 246.4,574.97 249.3,574.89 252.2,574.81 255.1,574.73 258,574.73 260.9,574.73 263.8,574.73 266.7,574.73 269.6,574.73 272.5,573.43 275.4,573.1 278.3,572.77 281.2,572.61 284.1,572.45" fill="none" stroke="#000000" stroke-width="1.9" stroke-linejoin="round" stroke-linecap="round"/>
<rect x="1.5" y="602.4" width="162.4" height="59.6" rx="0.9" fill="#fff" stroke="#b6b6b6" stroke-width="0.85"/>
<path d="M10.55 613.35V653.05H160.9" fill="none" stroke="#b4b4b4" stroke-width="0.6"/>
<path d="M11.8 653.05v1.1M14.7 653.05v1.1M17.6 653.05v1.1M20.5 653.05v1.1M23.4 653.05v1.1M26.3 653.05v1.1M29.2 653.05v1.1M32.1 653.05v1.1M35 653.05v1.1M37.9 653.05v1.1M40.8 653.05v1.1M43.7 653.05v1.1M46.6 653.05v1.1M49.5 653.05v1.1M52.4 653.05v1.1M55.3 653.05v1.1M58.2 653.05v1.1M61.1 653.05v1.1M64 653.05v1.1M66.9 653.05v1.1M69.8 653.05v1.1M72.7 653.05v1.1M75.6 653.05v1.1M78.5 653.05v1.1M81.4 653.05v1.1M84.3 653.05v1.1M87.2 653.05v1.1M90.1 653.05v1.1M93 653.05v1.1M95.9 653.05v1.1M98.8 653.05v1.1M101.7 653.05v1.1M104.6 653.05v1.1M107.5 653.05v1.1M110.4 653.05v1.1M113.3 653.05v1.1M116.2 653.05v1.1M119.1 653.05v1.1M122 653.05v1.1M124.9 653.05v1.1M127.8 653.05v1.1M130.7 653.05v1.1M133.6 653.05v1.1M136.5 653.05v1.1M139.4 653.05v1.1M142.3 653.05v1.1M145.2 653.05v1.1M148.1 653.05v1.1M151 653.05v1.1M153.9 653.05v1.1M156.8 653.05v1.1M159.7 653.05v1.1" stroke="#8e8e8e" stroke-width="0.7" fill="none"/>
<polyline points="11.8,637.37 14.7,641.85 17.6,645.21 20.5,647.45 23.4,642.97 26.3,646.33 29.2,623.93 32.1,634.01 35,635.13 37.9,637.37 40.8,635.13 43.7,637.37 46.6,634.01 49.5,632.89 52.4,641.85 55.3,640.73 58.2,636.25 61.1,637.37 64,632.89 66.9,637.37 69.8,634.01 72.7,641.85 75.6,636.25 78.5,635.13 81.4,640.73 84.3,641.85 87.2,637.37 90.1,641.85 93,637.37 95.9,636.25 98.8,640.73 101.7,646.33 104.6,637.37 107.5,641.85 110.4,642.97 113.3,637.37 116.2,636.25 119.1,634.01 122,638.49 124.9,637.37 127.8,640.73 130.7,639.61 133.6,635.13 136.5,638.49 139.4,636.25 142.3,638.49 145.2,641.85 148.1,638.49 151,637.37 153.9,641.85 156.8,640.73 159.7,638.49" fill="none" stroke="#4a84d2" stroke-width="0.95" stroke-linejoin="round" stroke-linecap="round"/>
<polyline points="11.8,638.49 14.7,641.85 17.6,637.37 20.5,634.01 23.4,636.25 26.3,634.01 29.2,632.89 32.1,627.29 35,631.77 37.9,636.25 40.8,644.09 43.7,637.37 46.6,632.89 49.5,630.65 52.4,631.77 55.3,636.25 58.2,632.89 61.1,630.65 64,632.89 66.9,635.13 69.8,631.77 72.7,625.05 75.6,632.89 78.5,634.01 81.4,635.13 84.3,632.89 87.2,625.05 90.1,632.89 93,630.65 95.9,635.13 98.8,632.89 101.7,636.25 104.6,634.01 107.5,631.77 110.4,630.65 113.3,625.05 116.2,631.77 119.1,636.25 122,637.37 124.9,640.73 127.8,636.25 130.7,637.37 133.6,635.13 136.5,644.09 139.4,638.49 142.3,630.65 145.2,636.25 148.1,637.37 151,631.77 153.9,637.37 156.8,635.13 159.7,632.89" fill="none" stroke="#f0a345" stroke-width="0.95" stroke-linejoin="round" stroke-linecap="round"/>
<polyline points="11.8,635.13 14.7,644.09 17.6,641.85 20.5,637.37 23.4,635.13 26.3,638.49 29.2,636.25 32.1,642.97 35,632.89 37.9,636.25 40.8,637.37 43.7,632.89 46.6,634.01 49.5,628.41 52.4,636.25 55.3,637.37 58.2,641.85 61.1,644.09 64,637.37 66.9,635.13 69.8,637.37 72.7,642.97 75.6,635.13 78.5,636.25 81.4,638.49 84.3,641.85 87.2,642.97 90.1,638.49 93,644.09 95.9,637.37 98.8,634.01 101.7,641.85 104.6,635.13 107.5,644.09 110.4,637.37 113.3,641.85 116.2,646.33 119.1,644.09 122,647.45 124.9,641.85 127.8,638.49 130.7,637.37 133.6,636.25 136.5,640.73 139.4,636.25 142.3,641.85 145.2,644.09 148.1,635.13 151,640.73 153.9,644.09 156.8,637.37 159.7,634.01" fill="none" stroke="#3aa63a" stroke-width="0.95" stroke-linejoin="round" stroke-linecap="round"/>
<polyline points="11.8,640.73 14.7,637.37 17.6,628.41 20.5,631.77 23.4,626.17 26.3,637.37 29.2,640.73 32.1,636.25 35,630.65 37.9,635.13 40.8,632.89 43.7,636.25 46.6,638.49 49.5,641.85 52.4,637.37 55.3,638.49 58.2,632.89 61.1,625.05 64,634.01 66.9,625.05 69.8,635.13 72.7,625.05 75.6,632.89 78.5,637.37 81.4,634.01 84.3,636.25 87.2,638.49 90.1,635.13 93,637.37 95.9,634.01 98.8,630.65 101.7,637.37 104.6,632.89 107.5,638.49 110.4,635.13 113.3,632.89 116.2,640.73 119.1,637.37 122,635.13 124.9,636.25 127.8,638.49 130.7,637.37 133.6,638.49 136.5,636.25 139.4,632.89 142.3,637.37 145.2,634.01 148.1,630.65 151,636.25 153.9,631.77 156.8,630.65 159.7,631.77" fill="none" stroke="#dd3b30" stroke-width="0.95" stroke-linejoin="round" stroke-linecap="round"/>
<polyline points="11.8,634.01 14.7,634.01 17.6,635.13 20.5,630.65 23.4,631.77 26.3,619.45 29.2,632.89 32.1,630.65 35,631.77 37.9,632.89 40.8,638.49 43.7,636.25 46.6,637.37 49.5,640.73 52.4,637.37 55.3,635.13 58.2,636.25 61.1,634.01 64,637.37 66.9,637.37 69.8,637.37 72.7,627.29 75.6,637.37 78.5,630.65 81.4,632.89 84.3,635.13 87.2,635.13 90.1,634.01 93,631.77 95.9,625.05 98.8,641.85" fill="none" stroke="#000000" stroke-width="1.9" stroke-linejoin="round" stroke-linecap="round"/>
<rect x="186.2" y="602.4" width="163.1" height="59.6" rx="0.9" fill="#fff" stroke="#b6b6b6" stroke-width="0.85"/>
<path d="M199.15 613.25V653.05H346.44" fill="none" stroke="#b4b4b4" stroke-width="0.6"/>
<path d="M200.4 653.05v1.1M203.24 653.05v1.1M206.08 653.05v1.1M208.92 653.05v1.1M211.76 653.05v1.1M214.6 653.05v1.1M217.44 653.05v1.1M220.28 653.05v1.1M223.12 653.05v1.1M225.96 653.05v1.1M228.8 653.05v1.1M231.64 653.05v1.1M234.48 653.05v1.1M237.32 653.05v1.1M240.16 653.05v1.1M243 653.05v1.1M245.84 653.05v1.1M248.68 653.05v1.1M251.52 653.05v1.1M254.36 653.05v1.1M257.2 653.05v1.1M260.04 653.05v1.1M262.88 653.05v1.1M265.72 653.05v1.1M268.56 653.05v1.1M271.4 653.05v1.1M274.24 653.05v1.1M277.08 653.05v1.1M279.92 653.05v1.1M282.76 653.05v1.1M285.6 653.05v1.1M288.44 653.05v1.1M291.28 653.05v1.1M294.12 653.05v1.1M296.96 653.05v1.1M299.8 653.05v1.1M302.64 653.05v1.1M305.48 653.05v1.1M308.32 653.05v1.1M311.16 653.05v1.1M314 653.05v1.1M316.84 653.05v1.1M319.68 653.05v1.1M322.52 653.05v1.1M325.36 653.05v1.1M328.2 653.05v1.1M331.04 653.05v1.1M333.88 653.05v1.1M336.72 653.05v1.1M339.56 653.05v1.1M342.4 653.05v1.1M345.24 653.05v1.1" stroke="#8e8e8e" stroke-width="0.7" fill="none"/>
<polyline points="200.4,652.5 203.24,652.02 206.08,651.55 208.92,651.07 211.76,650.6 214.6,650.12 217.44,649.65 220.28,649.17 223.12,648.7 225.96,648.22 228.8,647.74 231.64,647.17 234.48,646.6 237.32,646.03 240.16,645.47 243,644.9 245.84,644.33 248.68,643.76 251.52,643.19 254.36,642.62 257.2,642.05 260.04,641.54 262.88,641.02 265.72,640.51 268.56,640 271.4,639.49 274.24,638.98 277.08,638.47 279.92,637.96 282.76,637.45 285.6,636.94 288.44,636.41 291.28,635.88 294.12,635.35 296.96,634.81 299.8,634.28 302.64,633.75 305.48,633.22 308.32,632.69 311.16,632.16 314,631.63 316.84,631.15 319.68,630.67 322.52,630.18 325.36,629.7 328.2,629.22 331.04,628.74 333.88,628.26 336.72,627.77 339.56,627.29 342.4,626.81 345.24,626.33" fill="none" stroke="#4a84d2" stroke-width="0.95" stroke-linejoin="round" stroke-linecap="round"/>
<polyline points="200.4,652.54 203.24,651.92 206.08,651.31 208.92,650.69 211.76,650.07 214.6,649.45 217.44,648.84 220.28,648.22 223.12,647.6 225.96,646.99 228.8,646.37 231.64,645.7 234.48,645.03 237.32,644.36 240.16,643.7 243,643.03 245.84,642.36 248.68,641.69 251.52,641.02 254.36,640.36 257.2,639.69 260.04,639 262.88,638.31 265.72,637.62 268.56,636.94 271.4,636.25 274.24,635.56 277.08,634.87 279.92,634.19 282.76,633.5 285.6,632.81 288.44,632.16 291.28,631.51 294.12,630.87 296.96,630.22 299.8,629.57 302.64,628.92 305.48,628.27 308.32,627.62 311.16,626.97 314,626.33 316.84,625.72 319.68,625.11 322.52,624.5 325.36,623.9 328.2,623.29 331.04,622.68 333.88,622.07 336.72,621.47 339.56,620.86 342.4,620.25 345.24,619.64" fill="none" stroke="#f0a345" stroke-width="0.95" stroke-linejoin="round" stroke-linecap="round"/>
<polyline points="200.4,652.42 203.24,651.89 206.08,651.37 208.92,650.84 211.76,650.31 214.6,649.79 217.44,649.26 220.28,648.73 223.12,648.21 225.96,647.68 228.8,647.15 231.64,646.59 234.48,646.02 237.32,645.45 240.16,644.88 243,644.31 245.84,643.74 248.68,643.17 251.52,642.6 254.36,642.03 257.2,641.46 260.04,640.95 262.88,640.43 265.72,639.92 268.56,639.41 271.4,638.9 274.24,638.39 277.08,637.88 279.92,637.37 282.76,636.86 285.6,636.35 288.44,635.84 291.28,635.33 294.12,634.81 296.96,634.3 299.8,633.79 302.64,633.28 305.48,632.77 308.32,632.26 311.16,631.75 314,631.24 316.84,630.76 319.68,630.27 322.52,629.79 325.36,629.31 328.2,628.83 331.04,628.34 333.88,627.86 336.72,627.38 339.56,626.9 342.4,626.42 345.24,625.93" fill="none" stroke="#3aa63a" stroke-width="0.95" stroke-linejoin="round" stroke-linecap="round"/>
<polyline points="200.4,652.62 203.24,652.03 206.08,651.45 208.92,650.86 211.76,650.28 214.6,649.69 217.44,649.1 220.28,648.52 223.12,647.93 225.96,647.35 228.8,646.76 231.64,646.13 234.48,645.5 237.32,644.88 240.16,644.25 243,643.62 245.84,642.99 248.68,642.36 251.52,641.73 254.36,641.1 257.2,640.47 260.04,639.77 262.88,639.06 265.72,638.35 268.56,637.64 271.4,636.94 274.24,636.23 277.08,635.52 279.92,634.81 282.76,634.11 285.6,633.4 288.44,632.75 291.28,632.1 294.12,631.45 296.96,630.81 299.8,630.16 302.64,629.51 305.48,628.86 308.32,628.21 311.16,627.56 314,626.92 316.84,626.31 319.68,625.7 322.52,625.09 325.36,624.49 328.2,623.88 331.04,623.27 333.88,622.66 336.72,622.06 339.56,621.45 342.4,620.84 345.24,620.23" fill="none" stroke="#dd3b30" stroke-width="0.95" stroke-linejoin="round" stroke-linecap="round"/>
<polyline points="200.4,652.38 203.24,651.62 206.08,650.85 208.92,650.08 211.76,649.32 214.6,648.48 217.44,647.65 220.28,646.81 223.12,645.98 225.96,645.34 228.8,644.7 231.64,644.06 234.48,643.42 237.32,642.93 240.16,642.44 243,641.95 245.84,641.46 248.68,640.82 251.52,640.18 254.36,639.54 257.2,638.9 260.04,638.31 262.88,637.72 265.72,637.13 268.56,636.54 271.4,635.91 274.24,635.27 277.08,634.63 279.92,633.99 282.76,633.3 285.6,632.61" fill="none" stroke="#000000" stroke-width="1.9" stroke-linejoin="round" stroke-linecap="round"/>
<rect x="1.5" y="673.1" width="163.2" height="58" rx="0.9" fill="#fff" stroke="#b6b6b6" stroke-width="0.85"/>
<path d="M12.55 683.85V722.55H161.37" fill="none" stroke="#b4b4b4" stroke-width="0.6"/>
<path d="M13.8 722.55v1.1M16.67 722.55v1.1M19.54 722.55v1.1M22.41 722.55v1.1M25.28 722.55v1.1M28.15 722.55v1.1M31.02 722.55v1.1M33.89 722.55v1.1M36.76 722.55v1.1M39.63 722.55v1.1M42.5 722.55v1.1M45.37 722.55v1.1M48.24 722.55v1.1M51.11 722.55v1.1M53.98 722.55v1.1M56.85 722.55v1.1M59.72 722.55v1.1M62.59 722.55v1.1M65.46 722.55v1.1M68.33 722.55v1.1M71.2 722.55v1.1M74.07 722.55v1.1M76.94 722.55v1.1M79.81 722.55v1.1M82.68 722.55v1.1M85.55 722.55v1.1M88.42 722.55v1.1M91.29 722.55v1.1M94.16 722.55v1.1M97.03 722.55v1.1M99.9 722.55v1.1M102.77 722.55v1.1M105.64 722.55v1.1M108.51 722.55v1.1M111.38 722.55v1.1M114.25 722.55v1.1M117.12 722.55v1.1M119.99 722.55v1.1M122.86 722.55v1.1M125.73 722.55v1.1M128.6 722.55v1.1M131.47 722.55v1.1M134.34 722.55v1.1M137.21 722.55v1.1M140.08 722.55v1.1M142.95 722.55v1.1M145.82 722.55v1.1M148.69 722.55v1.1M151.56 722.55v1.1M154.43 722.55v1.1M157.3 722.55v1.1M160.17 722.55v1.1" stroke="#8e8e8e" stroke-width="0.7" fill="none"/>
<polyline points="13.8,711.98 16.67,716.57 19.54,717.07 22.41,716.57 25.28,717.71 28.15,715.55 31.02,717.07 33.89,716.06 36.76,716.06 39.63,715.55 42.5,716.57 45.37,717.33 48.24,717.71 51.11,716.06 53.98,717.71 56.85,717.33 59.72,716.57 62.59,715.29 65.46,715.29 68.33,711.47 71.2,701.92 74.07,711.47 76.94,710.2 79.81,708.93 82.68,710.2 85.55,708.42 88.42,706.51 91.29,700.9 94.16,703.45 97.03,700.14 99.9,699.38 102.77,698.87 105.64,705.23 108.51,702.69 111.38,701.41 114.25,705.23 117.12,703.96 119.99,700.14 122.86,706.51 125.73,703.96 128.6,708.93 131.47,706.51 134.34,708.93 137.21,711.47 140.08,712.75 142.95,710.96 145.82,714.02 148.69,715.29 151.56,714.53 154.43,716.06 157.3,716.57 160.17,718.48" fill="none" stroke="#4a84d2" stroke-width="0.95" stroke-linejoin="round" stroke-linecap="round"/>
<polyline points="13.8,715.29 16.67,716.06 19.54,716.57 22.41,717.07 25.28,716.57 28.15,716.06 31.02,715.29 33.89,716.06 36.76,715.29 39.63,716.06 42.5,716.57 45.37,715.55 48.24,717.33 51.11,716.57 53.98,715.29 56.85,714.02 59.72,716.06 62.59,714.53 65.46,715.29 68.33,714.02 71.2,712.75 74.07,711.98 76.94,712.75 79.81,710.96 82.68,710.2 85.55,708.93 88.42,706 91.29,702.69 94.16,698.87 97.03,696.45 99.9,697.59 102.77,700.9 105.64,703.96 108.51,706.51 111.38,708.93 114.25,710.2 117.12,710.96 119.99,710.96 122.86,711.47 125.73,708.93 128.6,710.2 131.47,712.75 134.34,711.47 137.21,706.51 140.08,703.45 142.95,705.23 145.82,710.2 148.69,714.02 151.56,715.29 154.43,714.53 157.3,716.06 160.17,717.71" fill="none" stroke="#f0a345" stroke-width="0.95" stroke-linejoin="round" stroke-linecap="round"/>
<polyline points="13.8,716.57 16.67,717.33 19.54,716.57 22.41,717.71 25.28,717.33 28.15,716.57 31.02,717.33 33.89,716.57 36.76,717.07 39.63,716.57 42.5,717.71 45.37,718.22 48.24,717.71 51.11,717.33 53.98,718.22 56.85,718.98 59.72,717.71 62.59,717.33 65.46,716.57 68.33,715.29 71.2,714.53 74.07,714.02 76.94,713.51 79.81,712.75 82.68,711.47 85.55,710.96 88.42,708.93 91.29,706.51 94.16,703.96 97.03,697.59 99.9,698.87 102.77,701.41 105.64,707.65 108.51,705.23 111.38,702.69 114.25,706.51 117.12,703.96 119.99,707.65 122.86,702.69 125.73,708.93 128.6,706.51 131.47,710.2 134.34,708.93 137.21,712.75 140.08,714.02 142.95,712.75 145.82,714.53 148.69,715.29 151.56,716.06 154.43,716.57 157.3,717.33 160.17,718.98" fill="none" stroke="#3aa63a" stroke-width="0.95" stroke-linejoin="round" stroke-linecap="round"/>
<polyline points="13.8,716.57 16.67,715.29 19.54,717.33 22.41,717.71 25.28,718.22 28.15,715.29 31.02,716.06 33.89,715.29 36.76,716.06 39.63,714.53 42.5,715.29 45.37,716.06 48.24,716.57 51.11,717.07 53.98,716.06 56.85,717.33 59.72,716.57 62.59,715.29 65.46,716.06 68.33,712.75 71.2,709.43 74.07,710.96 76.94,710.2 79.81,708.93 82.68,709.43 85.55,706.51 88.42,705.23 91.29,702.69 94.16,698.36 97.03,695.17 99.9,691.35 102.77,693.39 105.64,695.94 108.51,698.36 111.38,700.9 114.25,702.69 117.12,697.59 119.99,696.45 122.86,702.69 125.73,700.14 128.6,700.9 131.47,705.23 134.34,707.65 137.21,706.51 140.08,711.47 142.95,708.93 145.82,707.65 148.69,712.75 151.56,714.53 154.43,715.29 157.3,716.57 160.17,718.98" fill="none" stroke="#dd3b30" stroke-width="0.95" stroke-linejoin="round" stroke-linecap="round"/>
<polyline points="13.8,717.07 16.67,714.02 19.54,716.06 22.41,715.8 25.28,715.55 28.15,715.55 31.02,716.57 33.89,715.55 36.76,715.04 39.63,714.53 42.5,717.07 45.37,719.49 48.24,719.75 51.11,720 53.98,719.49 56.85,718.98 59.72,720.51 62.59,720.26 65.46,720.26 68.33,719.49 71.2,718.98 74.07,716.06 76.94,694.41 79.81,710.2 82.68,712.75 85.55,713.51 88.42,711.47 91.29,708.93 94.16,704.72 97.03,708.42 99.9,714.02" fill="none" stroke="#000000" stroke-width="1.9" stroke-linejoin="round" stroke-linecap="round"/>
<rect x="185.8" y="673.1" width="163.5" height="58" rx="0.9" fill="#fff" stroke="#b6b6b6" stroke-width="0.85"/>
<path d="M199.15 683.85V722.55H346.44" fill="none" stroke="#b4b4b4" stroke-width="0.6"/>
<path d="M200.4 722.55v1.1M203.24 722.55v1.1M206.08 722.55v1.1M208.92 722.55v1.1M211.76 722.55v1.1M214.6 722.55v1.1M217.44 722.55v1.1M220.28 722.55v1.1M223.12 722.55v1.1M225.96 722.55v1.1M228.8 722.55v1.1M231.64 722.55v1.1M234.48 722.55v1.1M237.32 722.55v1.1M240.16 722.55v1.1M243 722.55v1.1M245.84 722.55v1.1M248.68 722.55v1.1M251.52 722.55v1.1M254.36 722.55v1.1M257.2 722.55v1.1M260.04 722.55v1.1M262.88 722.55v1.1M265.72 722.55v1.1M268.56 722.55v1.1M271.4 722.55v1.1M274.24 722.55v1.1M277.08 722.55v1.1M279.92 722.55v1.1M282.76 722.55v1.1M285.6 722.55v1.1M288.44 722.55v1.1M291.28 722.55v1.1M294.12 722.55v1.1M296.96 722.55v1.1M299.8 722.55v1.1M302.64 722.55v1.1M305.48 722.55v1.1M308.32 722.55v1.1M311.16 722.55v1.1M314 722.55v1.1M316.84 722.55v1.1M319.68 722.55v1.1M322.52 722.55v1.1M325.36 722.55v1.1M328.2 722.55v1.1M331.04 722.55v1.1M333.88 722.55v1.1M336.72 722.55v1.1M339.56 722.55v1.1M342.4 722.55v1.1M345.24 722.55v1.1" stroke="#8e8e8e" stroke-width="0.7" fill="none"/>
<polyline points="200.4,722.02 203.24,721.77 206.08,721.52 208.92,721.27 211.76,721.02 214.6,720.61 217.44,720.19 220.28,719.78 223.12,719.37 225.96,719.06 228.8,718.76 231.64,718.46 234.48,718.16 237.32,717.87 240.16,717.58 243,717.3 245.84,717.01 248.68,716.64 251.52,716.28 254.36,715.91 257.2,715.55 260.04,714.97 262.88,714.4 265.72,714.19 268.56,713.99 271.4,713.05 274.24,712.11 277.08,711.17 279.92,710.23 282.76,709.16 285.6,708.08 288.44,707.01 291.28,705.93 294.12,704.8 296.96,703.67 299.8,702.54 302.64,701.41 305.48,700.54 308.32,699.66 311.16,698.79 314,697.91 316.84,697.27 319.68,696.64 322.52,696 325.36,695.36 328.2,694.99 331.04,694.62 333.88,694.24 336.72,693.87 339.56,693.53 342.4,693.19 345.24,692.85" fill="none" stroke="#4a84d2" stroke-width="0.95" stroke-linejoin="round" stroke-linecap="round"/>
<polyline points="200.4,722.19 203.24,721.9 206.08,721.6 208.92,721.31 211.76,721.02 214.6,720.61 217.44,720.19 220.28,719.78 223.12,719.37 225.96,719.05 228.8,718.73 231.64,718.41 234.48,718.09 237.32,717.77 240.16,717.46 243,717.14 245.84,716.82 248.68,716.53 251.52,716.25 254.36,715.96 257.2,715.67 260.04,715.16 262.88,714.66 265.72,714.15 268.56,713.64 271.4,712.72 274.24,711.81 277.08,710.89 279.92,709.98 282.76,708.97 285.6,707.95 288.44,706.94 291.28,705.93 294.12,704.99 296.96,704.05 299.8,703.12 302.64,702.18 305.48,701.36 308.32,700.54 311.16,699.72 314,698.9 316.84,698.27 319.68,697.64 322.52,697.01 325.36,696.38 328.2,696 331.04,695.62 333.88,695.24 336.72,694.86 339.56,694.61 342.4,694.37 345.24,694.12" fill="none" stroke="#f0a345" stroke-width="0.95" stroke-linejoin="round" stroke-linecap="round"/>
<polyline points="200.4,722.25 203.24,721.98 206.08,721.7 208.92,721.42 211.76,721.15 214.6,720.75 217.44,720.35 220.28,719.96 223.12,719.56 225.96,719.29 228.8,719.02 231.64,718.75 234.48,718.48 237.32,718.24 240.16,718 243,717.76 245.84,717.52 248.68,717.22 251.52,716.92 254.36,716.61 257.2,716.31 260.04,715.8 262.88,715.29 265.72,714.78 268.56,714.27 271.4,713.45 274.24,712.62 277.08,711.79 279.92,710.96 282.76,710.02 285.6,709.08 288.44,708.15 291.28,707.21 294.12,706.27 296.96,705.33 299.8,704.39 302.64,703.45 305.48,702.62 308.32,701.79 311.16,700.97 314,700.14 316.84,699.58 319.68,699.03 322.52,698.47 325.36,697.91 328.2,697.53 331.04,697.15 333.88,696.76 336.72,696.38 339.56,696.04 342.4,695.7 345.24,695.36" fill="none" stroke="#3aa63a" stroke-width="0.95" stroke-linejoin="round" stroke-linecap="round"/>
<polyline points="200.4,722.25 203.24,721.94 206.08,721.64 208.92,721.33 211.76,721.02 214.6,720.58 217.44,720.15 220.28,719.71 223.12,719.27 225.96,718.96 228.8,718.65 231.64,718.34 234.48,718.03 237.32,717.74 240.16,717.46 243,717.17 245.84,716.88 248.68,716.55 251.52,716.22 254.36,715.88 257.2,715.55 260.04,714.91 262.88,714.27 265.72,713.89 268.56,713.51 271.4,712.62 274.24,711.73 277.08,710.72 279.92,709.72 282.76,708.46 285.6,707.21 288.44,705.96 291.28,704.72 294.12,703.45 296.96,702.18 299.8,700.9 302.64,699.63 305.48,698.64 308.32,697.66 311.16,696.51 314,695.36 316.84,694.36 319.68,693.36 322.52,692.48 325.36,691.61 328.2,690.97 331.04,690.33 333.88,689.83 336.72,689.32 339.56,688.99 342.4,688.66 345.24,688.33" fill="none" stroke="#dd3b30" stroke-width="0.95" stroke-linejoin="round" stroke-linecap="round"/>
<polyline points="200.4,722.28 203.24,721.96 206.08,721.65 208.92,721.34 211.76,721.02 214.6,720.58 217.44,720.15 220.28,719.71 223.12,719.27 225.96,719.02 228.8,718.78 231.64,718.53 234.48,718.28 237.32,718.16 240.16,718.03 243,717.9 245.84,717.77 248.68,717.58 251.52,717.39 254.36,717.2 257.2,717.01 260.04,716.28 262.88,715.55 265.72,715.15 268.56,714.75 271.4,714.37 274.24,713.99 277.08,713.11 279.92,712.24 282.76,711.34 285.6,710.45" fill="none" stroke="#000000" stroke-width="1.9" stroke-linejoin="round" stroke-linecap="round"/>
<rect x="1.5" y="742.6" width="163.9" height="58" rx="0.9" fill="#fff" stroke="#b6b6b6" stroke-width="0.85"/>
<path d="M10.55 753.45V792.25H162.43" fill="none" stroke="#b4b4b4" stroke-width="0.6"/>
<path d="M11.8 792.25v1.1M14.73 792.25v1.1M17.66 792.25v1.1M20.59 792.25v1.1M23.52 792.25v1.1M26.45 792.25v1.1M29.38 792.25v1.1M32.31 792.25v1.1M35.24 792.25v1.1M38.17 792.25v1.1M41.1 792.25v1.1M44.03 792.25v1.1M46.96 792.25v1.1M49.89 792.25v1.1M52.82 792.25v1.1M55.75 792.25v1.1M58.68 792.25v1.1M61.61 792.25v1.1M64.54 792.25v1.1M67.47 792.25v1.1M70.4 792.25v1.1M73.33 792.25v1.1M76.26 792.25v1.1M79.19 792.25v1.1M82.12 792.25v1.1M85.05 792.25v1.1M87.98 792.25v1.1M90.91 792.25v1.1M93.84 792.25v1.1M96.77 792.25v1.1M99.7 792.25v1.1M102.63 792.25v1.1M105.56 792.25v1.1M108.49 792.25v1.1M111.42 792.25v1.1M114.35 792.25v1.1M117.28 792.25v1.1M120.21 792.25v1.1M123.14 792.25v1.1M126.07 792.25v1.1M129 792.25v1.1M131.93 792.25v1.1M134.86 792.25v1.1M137.79 792.25v1.1M140.72 792.25v1.1M143.65 792.25v1.1M146.58 792.25v1.1M149.51 792.25v1.1M152.44 792.25v1.1M155.37 792.25v1.1M158.3 792.25v1.1M161.23 792.25v1.1" stroke="#8e8e8e" stroke-width="0.7" fill="none"/>
<polyline points="11.8,780.76 14.73,776.93 17.66,782.04 20.59,774.38 23.52,778.21 26.45,783.31 29.38,787.78 32.31,780.76 35.24,775.65 38.17,780.76 41.1,783.31 44.03,782.04 46.96,778.21 49.89,780.76 52.82,784.59 55.75,778.21 58.68,782.04 61.61,784.59 64.54,780.76 67.47,778.21 70.4,782.04 73.33,780.76 76.26,779.48 79.19,782.04 82.12,779.48 85.05,774.38 87.98,776.93 90.91,774.38 93.84,778.21 96.77,767.99 99.7,765.44 102.63,761.61 105.56,765.44 108.49,769.27 111.42,773.1 114.35,771.82 117.28,775.65 120.21,769.27 123.14,778.21 126.07,782.04 129,779.48 131.93,787.14 134.86,778.21 137.79,780.76 140.72,779.48 143.65,782.04 146.58,780.76 149.51,775.65 152.44,782.04 155.37,784.59 158.3,783.31 161.23,787.14" fill="none" stroke="#4a84d2" stroke-width="0.95" stroke-linejoin="round" stroke-linecap="round"/>
<polyline points="11.8,778.21 14.73,779.48 17.66,782.04 20.59,780.76 23.52,779.48 26.45,780.76 29.38,778.21 32.31,779.48 35.24,776.93 38.17,778.21 41.1,776.93 44.03,778.21 46.96,779.48 49.89,782.04 52.82,780.76 55.75,779.48 58.68,780.76 61.61,779.48 64.54,776.93 67.47,779.48 70.4,780.76 73.33,782.04 76.26,780.76 79.19,782.04 82.12,780.76 85.05,779.48 87.98,778.21 90.91,776.93 93.84,775.65 96.77,773.1 99.7,770.55 102.63,769.27 105.56,767.99 108.49,769.27 111.42,771.82 114.35,770.55 117.28,773.1 120.21,770.55 123.14,771.82 126.07,778.21 129,776.93 131.93,775.65 134.86,778.21 137.79,773.1 140.72,771.82 143.65,778.21 146.58,783.31 149.51,782.04 152.44,780.76 155.37,778.21 158.3,780.76 161.23,787.14" fill="none" stroke="#f0a345" stroke-width="0.95" stroke-linejoin="round" stroke-linecap="round"/>
<polyline points="11.8,782.04 14.73,778.21 17.66,787.14 20.59,785.87 23.52,775.65 26.45,780.76 29.38,783.31 32.31,782.04 35.24,778.21 38.17,782.04 41.1,780.76 44.03,779.48 46.96,783.31 49.89,785.87 52.82,787.78 55.75,771.82 58.68,782.04 61.61,780.76 64.54,782.04 67.47,783.31 70.4,782.04 73.33,780.76 76.26,782.04 79.19,780.76 82.12,782.04 85.05,778.21 87.98,779.48 90.91,778.21 93.84,774.38 96.77,762.89 99.7,770.55 102.63,766.72 105.56,773.1 108.49,770.55 111.42,778.21 114.35,775.65 117.28,774.38 120.21,771.82 123.14,780.76 126.07,778.21 129,782.04 131.93,780.76 134.86,778.21 137.79,779.48 140.72,782.04 143.65,780.76 146.58,783.31 149.51,782.04 152.44,783.31 155.37,782.04 158.3,784.59 161.23,787.14" fill="none" stroke="#3aa63a" stroke-width="0.95" stroke-linejoin="round" stroke-linecap="round"/>
<polyline points="11.8,778.21 14.73,775.65 17.66,780.76 20.59,783.31 23.52,782.04 26.45,782.04 29.38,780.76 32.31,776.93 35.24,773.1 38.17,779.48 41.1,782.04 44.03,783.31 46.96,780.76 49.89,776.93 52.82,782.04 55.75,780.76 58.68,778.21 61.61,769.27 64.54,778.21 67.47,782.04 70.4,780.76 73.33,779.48 76.26,776.93 79.19,778.21 82.12,780.76 85.05,776.93 87.98,778.21 90.91,775.65 93.84,776.93 96.77,771.82 99.7,769.27 102.63,766.72 105.56,767.99 108.49,770.55 111.42,769.27 114.35,773.1 117.28,771.82 120.21,769.91 123.14,775.65 126.07,784.59 129,778.21 131.93,779.48 134.86,775.65 137.79,771.82 140.72,779.48 143.65,784.59 146.58,782.04 149.51,780.76 152.44,783.31 155.37,782.04 158.3,783.31 161.23,785.87" fill="none" stroke="#dd3b30" stroke-width="0.95" stroke-linejoin="round" stroke-linecap="round"/>
<polyline points="11.8,787.78 14.73,776.29 17.66,782.67 20.59,785.87 23.52,783.31 26.45,783.31 29.38,782.04 32.31,782.04 35.24,774.38 38.17,782.04 41.1,783.31 44.03,785.87 46.96,787.14 49.89,787.78 52.82,789.06 55.75,787.14 58.68,790.34 61.61,789.06 64.54,789.06 67.47,789.06 70.4,789.06 73.33,787.78 76.26,788.42 79.19,787.78 82.12,790.34 85.05,782.04 87.98,769.27 90.91,778.21 93.84,782.04 96.77,787.14 99.7,780.76" fill="none" stroke="#000000" stroke-width="1.9" stroke-linejoin="round" stroke-linecap="round"/>
<rect x="185.5" y="742.6" width="163.8" height="58" rx="0.9" fill="#fff" stroke="#b6b6b6" stroke-width="0.85"/>
<path d="M199.15 753.45V792.25H346.44" fill="none" stroke="#b4b4b4" stroke-width="0.6"/>
<path d="M200.4 792.25v1.1M203.24 792.25v1.1M206.08 792.25v1.1M208.92 792.25v1.1M211.76 792.25v1.1M214.6 792.25v1.1M217.44 792.25v1.1M220.28 792.25v1.1M223.12 792.25v1.1M225.96 792.25v1.1M228.8 792.25v1.1M231.64 792.25v1.1M234.48 792.25v1.1M237.32 792.25v1.1M240.16 792.25v1.1M243 792.25v1.1M245.84 792.25v1.1M248.68 792.25v1.1M251.52 792.25v1.1M254.36 792.25v1.1M257.2 792.25v1.1M260.04 792.25v1.1M262.88 792.25v1.1M265.72 792.25v1.1M268.56 792.25v1.1M271.4 792.25v1.1M274.24 792.25v1.1M277.08 792.25v1.1M279.92 792.25v1.1M282.76 792.25v1.1M285.6 792.25v1.1M288.44 792.25v1.1M291.28 792.25v1.1M294.12 792.25v1.1M296.96 792.25v1.1M299.8 792.25v1.1M302.64 792.25v1.1M305.48 792.25v1.1M308.32 792.25v1.1M311.16 792.25v1.1M314 792.25v1.1M316.84 792.25v1.1M319.68 792.25v1.1M322.52 792.25v1.1M325.36 792.25v1.1M328.2 792.25v1.1M331.04 792.25v1.1M333.88 792.25v1.1M336.72 792.25v1.1M339.56 792.25v1.1M342.4 792.25v1.1M345.24 792.25v1.1" stroke="#8e8e8e" stroke-width="0.7" fill="none"/>
<polyline points="200.4,791.76 203.24,791.25 206.08,790.75 208.92,790.24 211.76,789.73 214.6,789.27 217.44,788.8 220.28,788.34 223.12,787.87 225.96,787.26 228.8,786.64 231.64,786.03 234.48,785.41 237.32,784.93 240.16,784.45 243,783.97 245.84,783.5 248.68,782.91 251.52,782.33 254.36,781.75 257.2,781.17 260.04,780.62 262.88,780.08 265.72,779.53 268.56,778.98 271.4,778.33 274.24,777.68 277.08,777.03 279.92,776.38 282.76,775.29 285.6,774.19 288.44,773.1 291.28,772.01 294.12,771.36 296.96,770.71 299.8,770.06 302.64,769.41 305.48,768.93 308.32,768.45 311.16,767.97 314,767.49 316.84,766.88 319.68,766.26 322.52,765.65 325.36,765.03 328.2,764.52 331.04,764 333.88,763.49 336.72,762.98 339.56,762.57 342.4,762.16 345.24,761.75" fill="none" stroke="#4a84d2" stroke-width="0.95" stroke-linejoin="round" stroke-linecap="round"/>
<polyline points="200.4,791.65 203.24,791.17 206.08,790.69 208.92,790.21 211.76,789.73 214.6,789.2 217.44,788.67 220.28,788.13 223.12,787.6 225.96,786.95 228.8,786.3 231.64,785.65 234.48,785 237.32,784.49 240.16,783.97 243,783.46 245.84,782.95 248.68,782.4 251.52,781.85 254.36,781.31 257.2,780.76 260.04,780.25 262.88,779.73 265.72,779.22 268.56,778.71 271.4,778.06 274.24,777.41 277.08,776.76 279.92,776.11 282.76,775.15 285.6,774.19 288.44,773.1 291.28,772.01 294.12,771.29 296.96,770.57 299.8,769.85 302.64,769.13 305.48,768.55 308.32,767.97 311.16,767.39 314,766.81 316.84,766.06 319.68,765.3 322.52,764.55 325.36,763.8 328.2,763.22 331.04,762.64 333.88,762.05 336.72,761.47 339.56,760.97 342.4,760.47 345.24,759.97" fill="none" stroke="#f0a345" stroke-width="0.95" stroke-linejoin="round" stroke-linecap="round"/>
<polyline points="200.4,791.81 203.24,791.32 206.08,790.83 208.92,790.34 211.76,789.84 214.6,789.38 217.44,788.93 220.28,788.47 223.12,788.01 225.96,787.39 228.8,786.78 231.64,786.16 234.48,785.55 237.32,785.03 240.16,784.52 243,784.01 245.84,783.5 248.68,782.95 251.52,782.4 254.36,781.85 257.2,781.31 260.04,780.76 262.88,780.21 265.72,779.67 268.56,779.12 271.4,778.47 274.24,777.82 277.08,777.17 279.92,776.52 282.76,775.43 285.6,774.33 288.44,773.31 291.28,772.28 294.12,771.6 296.96,770.91 299.8,770.23 302.64,769.54 305.48,769.03 308.32,768.52 311.16,768 314,767.49 316.84,766.91 319.68,766.33 322.52,765.75 325.36,765.17 328.2,764.69 331.04,764.21 333.88,763.73 336.72,763.25 339.56,762.84 342.4,762.43 345.24,762.02" fill="none" stroke="#3aa63a" stroke-width="0.95" stroke-linejoin="round" stroke-linecap="round"/>
<polyline points="200.4,791.65 203.24,791.2 206.08,790.75 208.92,790.29 211.76,789.84 214.6,789.32 217.44,788.79 220.28,788.26 223.12,787.74 225.96,787.09 228.8,786.44 231.64,785.79 234.48,785.14 237.32,784.66 240.16,784.18 243,783.7 245.84,783.22 248.68,782.64 251.52,782.06 254.36,781.48 257.2,780.9 260.04,780.38 262.88,779.87 265.72,779.36 268.56,778.85 271.4,778.23 274.24,777.61 277.08,777 279.92,776.38 282.76,775.36 285.6,774.33 288.44,773.24 291.28,772.14 294.12,771.42 296.96,770.71 299.8,769.99 302.64,769.27 305.48,768.72 308.32,768.18 311.16,767.63 314,767.08 316.84,766.36 319.68,765.65 322.52,764.93 325.36,764.21 328.2,763.66 331.04,763.11 333.88,762.57 336.72,762.02 339.56,761.52 342.4,761.02 345.24,760.52" fill="none" stroke="#dd3b30" stroke-width="0.95" stroke-linejoin="round" stroke-linecap="round"/>
<polyline points="200.4,792.06 203.24,791.62 206.08,791.18 208.92,790.75 211.76,790.31 214.6,789.8 217.44,789.3 220.28,788.79 223.12,788.28 225.96,787.74 228.8,787.19 231.64,786.98 234.48,786.78 237.32,786.57 240.16,786.37 243,786.16 245.84,785.96 248.68,785.75 251.52,785.55 254.36,785.34 257.2,785.14 260.04,785.03 262.88,784.93 265.72,784.83 268.56,784.73 271.4,784.11 274.24,783.5 277.08,783.09 279.92,782.67 282.76,782.2 285.6,781.72" fill="none" stroke="#000000" stroke-width="1.9" stroke-linejoin="round" stroke-linecap="round"/>
<rect x="1.5" y="811.9" width="162.8" height="59.2" rx="0.9" fill="#fff" stroke="#b6b6b6" stroke-width="0.85"/>
<path d="M12.55 822.75V862.55H160.35" fill="none" stroke="#b4b4b4" stroke-width="0.6"/>
<path d="M13.8 862.55v1.1M16.65 862.55v1.1M19.5 862.55v1.1M22.35 862.55v1.1M25.2 862.55v1.1M28.05 862.55v1.1M30.9 862.55v1.1M33.75 862.55v1.1M36.6 862.55v1.1M39.45 862.55v1.1M42.3 862.55v1.1M45.15 862.55v1.1M48 862.55v1.1M50.85 862.55v1.1M53.7 862.55v1.1M56.55 862.55v1.1M59.4 862.55v1.1M62.25 862.55v1.1M65.1 862.55v1.1M67.95 862.55v1.1M70.8 862.55v1.1M73.65 862.55v1.1M76.5 862.55v1.1M79.35 862.55v1.1M82.2 862.55v1.1M85.05 862.55v1.1M87.9 862.55v1.1M90.75 862.55v1.1M93.6 862.55v1.1M96.45 862.55v1.1M99.3 862.55v1.1M102.15 862.55v1.1M105 862.55v1.1M107.85 862.55v1.1M110.7 862.55v1.1M113.55 862.55v1.1M116.4 862.55v1.1M119.25 862.55v1.1M122.1 862.55v1.1M124.95 862.55v1.1M127.8 862.55v1.1M130.65 862.55v1.1M133.5 862.55v1.1M136.35 862.55v1.1M139.2 862.55v1.1M142.05 862.55v1.1M144.9 862.55v1.1M147.75 862.55v1.1M150.6 862.55v1.1M153.45 862.55v1.1M156.3 862.55v1.1M159.15 862.55v1.1" stroke="#8e8e8e" stroke-width="0.7" fill="none"/>
<polyline points="13.8,836.44 16.65,832.23 19.5,834.48 22.35,831.95 25.2,830.55 28.05,833.07 30.9,834.48 33.75,830.55 36.6,839.25 39.45,830.55 42.3,828.02 45.15,833.07 48,835.6 50.85,830.55 53.7,831.95 56.55,829.43 59.4,834.48 62.25,837 65.1,835.6 67.95,830.55 70.8,834.48 73.65,826.34 76.5,833.07 79.35,835.6 82.2,827.18 85.05,831.95 87.9,834.48 90.75,837 93.6,839.25 96.45,843.18 99.3,833.07 102.15,838.13 105,837 107.85,838.13 110.7,837 113.55,828.02 116.4,831.95 119.25,833.07 122.1,840.65 124.95,830.55 127.8,835.6 130.65,837 133.5,839.25 136.35,835.6 139.2,833.07 142.05,835.6 144.9,837 147.75,834.48 150.6,838.13 153.45,834.48 156.3,831.95 159.15,839.25" fill="none" stroke="#f0a345" stroke-width="0.95" stroke-linejoin="round" stroke-linecap="round"/>
<polyline points="13.8,837 16.65,833.07 19.5,835.6 22.35,833.07 25.2,837 28.05,835.6 30.9,838.13 33.75,839.25 36.6,831.95 39.45,835.6 42.3,831.39 45.15,834.48 48,838.97 50.85,834.48 53.7,837 56.55,840.65 59.4,834.48 62.25,835.6 65.1,837 67.95,840.65 70.8,833.07 73.65,834.48 76.5,840.65 79.35,839.25 82.2,834.48 85.05,838.13 87.9,841.78 90.75,838.13 93.6,839.25 96.45,843.18 99.3,840.65 102.15,835.6 105,833.07 107.85,834.48 110.7,835.6 113.55,829.43 116.4,830.55 119.25,835.6 122.1,830.55 124.95,833.07 127.8,837 130.65,838.13 133.5,835.6 136.35,838.13 139.2,833.07 142.05,834.48 144.9,835.6 147.75,833.07 150.6,837 153.45,833.07 156.3,830.55 159.15,840.65" fill="none" stroke="#dd3b30" stroke-width="0.95" stroke-linejoin="round" stroke-linecap="round"/>
<polyline points="13.8,849.08 16.65,832.23 19.5,838.97 22.35,834.48 25.2,833.92 28.05,834.76 30.9,835.6 33.75,836.44 36.6,834.48 39.45,838.13 42.3,839.81 45.15,841.78 48,838.97 50.85,833.07 53.7,842.62 56.55,838.13 59.4,837 62.25,834.48 65.1,838.13 67.95,841.5 70.8,840.65 73.65,839.25 76.5,837.29 79.35,841.5 82.2,833.92 85.05,835.6 87.9,835.88 90.75,836.44 93.6,837 96.45,837.29 99.3,841.5" fill="none" stroke="#000000" stroke-width="1.9" stroke-linejoin="round" stroke-linecap="round"/>
<rect x="186.1" y="811.9" width="163.2" height="59.2" rx="0.9" fill="#fff" stroke="#b6b6b6" stroke-width="0.85"/>
<path d="M199.15 822.75V862.55H346.44" fill="none" stroke="#b4b4b4" stroke-width="0.6"/>
<path d="M200.4 862.55v1.1M203.24 862.55v1.1M206.08 862.55v1.1M208.92 862.55v1.1M211.76 862.55v1.1M214.6 862.55v1.1M217.44 862.55v1.1M220.28 862.55v1.1M223.12 862.55v1.1M225.96 862.55v1.1M228.8 862.55v1.1M231.64 862.55v1.1M234.48 862.55v1.1M237.32 862.55v1.1M240.16 862.55v1.1M243 862.55v1.1M245.84 862.55v1.1M248.68 862.55v1.1M251.52 862.55v1.1M254.36 862.55v1.1M257.2 862.55v1.1M260.04 862.55v1.1M262.88 862.55v1.1M265.72 862.55v1.1M268.56 862.55v1.1M271.4 862.55v1.1M274.24 862.55v1.1M277.08 862.55v1.1M279.92 862.55v1.1M282.76 862.55v1.1M285.6 862.55v1.1M288.44 862.55v1.1M291.28 862.55v1.1M294.12 862.55v1.1M296.96 862.55v1.1M299.8 862.55v1.1M302.64 862.55v1.1M305.48 862.55v1.1M308.32 862.55v1.1M311.16 862.55v1.1M314 862.55v1.1M316.84 862.55v1.1M319.68 862.55v1.1M322.52 862.55v1.1M325.36 862.55v1.1M328.2 862.55v1.1M331.04 862.55v1.1M333.88 862.55v1.1M336.72 862.55v1.1M339.56 862.55v1.1M342.4 862.55v1.1M345.24 862.55v1.1" stroke="#8e8e8e" stroke-width="0.7" fill="none"/>
<polyline points="200.4,861.94 203.24,861.25 206.08,860.56 208.92,859.86 211.76,859.17 214.6,858.48 217.44,857.79 220.28,857.09 223.12,856.4 225.96,855.71 228.8,855.02 231.64,854.26 234.48,853.51 237.32,852.76 240.16,852 243,851.25 245.84,850.5 248.68,849.74 251.52,848.99 254.36,848.24 257.2,847.49 260.04,846.95 262.88,846.42 265.72,845.88 268.56,845.35 271.4,844.82 274.24,844.28 277.08,843.75 279.92,843.21 282.76,842.68 285.6,842.15 288.44,841.47 291.28,840.79 294.12,840.11 296.96,839.44 299.8,838.76 302.64,838.08 305.48,837.4 308.32,836.72 311.16,836.05 314,835.37 316.84,834.72 319.68,834.08 322.52,833.44 325.36,832.8 328.2,832.15 331.04,831.51 333.88,830.87 336.72,830.22 339.56,829.58 342.4,828.94 345.24,828.29" fill="none" stroke="#f0a345" stroke-width="0.95" stroke-linejoin="round" stroke-linecap="round"/>
<polyline points="200.4,861.95 203.24,861.33 206.08,860.7 208.92,860.07 211.76,859.44 214.6,858.81 217.44,858.19 220.28,857.56 223.12,856.93 225.96,856.3 228.8,855.67 231.64,855.02 234.48,854.36 237.32,853.71 240.16,853.05 243,852.4 245.84,851.74 248.68,851.09 251.52,850.43 254.36,849.78 257.2,849.12 260.04,848.55 262.88,847.98 265.72,847.4 268.56,846.83 271.4,846.26 274.24,845.68 277.08,845.11 279.92,844.54 282.76,843.96 285.6,843.39 288.44,842.75 291.28,842.11 294.12,841.48 296.96,840.84 299.8,840.2 302.64,839.56 305.48,838.92 308.32,838.28 311.16,837.64 314,837 316.84,836.39 319.68,835.78 322.52,835.17 325.36,834.56 328.2,833.95 331.04,833.34 333.88,832.73 336.72,832.12 339.56,831.51 342.4,830.9 345.24,830.29" fill="none" stroke="#dd3b30" stroke-width="0.95" stroke-linejoin="round" stroke-linecap="round"/>
<polyline points="200.4,862.24 203.24,861.63 206.08,861.01 208.92,860.4 211.76,859.79 214.6,859.18 217.44,858.57 220.28,857.96 223.12,857.35 225.96,856.74 228.8,856.13 231.64,855.53 234.48,854.93 237.32,854.32 240.16,853.72 243,853.12 245.84,852.52 248.68,851.91 251.52,851.31 254.36,850.71 257.2,850.11 260.04,849.51 262.88,848.91 265.72,848.32 268.56,847.72 271.4,847.12 274.24,846.53 277.08,845.93 279.92,845.34 282.76,844.74 285.6,844.14" fill="none" stroke="#000000" stroke-width="1.9" stroke-linejoin="round" stroke-linecap="round"/>
<rect x="1.5" y="882.2" width="164.2" height="59.1" rx="0.9" fill="#fff" stroke="#b6b6b6" stroke-width="0.85"/>
<path d="M10.55 892.95V932.85H162.94" fill="none" stroke="#b4b4b4" stroke-width="0.6"/>
<path d="M11.8 932.85v1.1M14.74 932.85v1.1M17.68 932.85v1.1M20.62 932.85v1.1M23.56 932.85v1.1M26.5 932.85v1.1M29.44 932.85v1.1M32.38 932.85v1.1M35.32 932.85v1.1M38.26 932.85v1.1M41.2 932.85v1.1M44.14 932.85v1.1M47.08 932.85v1.1M50.02 932.85v1.1M52.96 932.85v1.1M55.9 932.85v1.1M58.84 932.85v1.1M61.78 932.85v1.1M64.72 932.85v1.1M67.66 932.85v1.1M70.6 932.85v1.1M73.54 932.85v1.1M76.48 932.85v1.1M79.42 932.85v1.1M82.36 932.85v1.1M85.3 932.85v1.1M88.24 932.85v1.1M91.18 932.85v1.1M94.12 932.85v1.1M97.06 932.85v1.1M100 932.85v1.1M102.94 932.85v1.1M105.88 932.85v1.1M108.82 932.85v1.1M111.76 932.85v1.1M114.7 932.85v1.1M117.64 932.85v1.1M120.58 932.85v1.1M123.52 932.85v1.1M126.46 932.85v1.1M129.4 932.85v1.1M132.34 932.85v1.1M135.28 932.85v1.1M138.22 932.85v1.1M141.16 932.85v1.1M144.1 932.85v1.1M147.04 932.85v1.1M149.98 932.85v1.1M152.92 932.85v1.1M155.86 932.85v1.1M158.8 932.85v1.1M161.74 932.85v1.1" stroke="#8e8e8e" stroke-width="0.7" fill="none"/>
<polyline points="11.8,911.57 14.74,902.12 17.68,906.85 20.62,907.63 23.56,910.79 26.5,909.21 29.44,911.57 32.38,909.21 35.32,907.63 38.26,905.27 41.2,910.79 44.14,924.18 47.08,913.94 50.02,909.21 52.96,911.57 55.9,913.94 58.84,907.63 61.78,913.94 64.72,906.85 67.66,913.15 70.6,913.94 73.54,909.21 76.48,911.57 79.42,909.21 82.36,911.57 85.3,905.27 88.24,907.63 91.18,911.57 94.12,917.09 97.06,913.94 100,920.24 102.94,911.57 105.88,901.33 108.82,902.91 111.76,905.27 114.7,906.85 117.64,904.48 120.58,913.94 123.52,902.91 126.46,906.85 129.4,911.57 132.34,920.24 135.28,909.21 138.22,907.63 141.16,913.15 144.1,917.09 147.04,915.51 149.98,910.79 152.92,909.21 155.86,913.94 158.8,911.57 161.74,917.09" fill="none" stroke="#4a84d2" stroke-width="0.95" stroke-linejoin="round" stroke-linecap="round"/>
<polyline points="11.8,917.09 14.74,911.57 17.68,910.79 20.62,913.15 23.56,915.51 26.5,921.82 29.44,917.09 32.38,915.51 35.32,917.88 38.26,920.24 41.2,917.09 44.14,919.45 47.08,920.24 50.02,917.09 52.96,920.24 55.9,921.82 58.84,919.45 61.78,923.39 64.72,920.24 67.66,917.88 70.6,921.82 73.54,911.57 76.48,919.45 79.42,920.24 82.36,919.45 85.3,923.39 88.24,917.09 91.18,920.24 94.12,917.88 97.06,913.94 100,915.51 102.94,920.24 105.88,917.09 108.82,913.15 111.76,915.51 114.7,917.88 117.64,911.57 120.58,910.79 123.52,913.94 126.46,913.15 129.4,917.09 132.34,915.51 135.28,920.24 138.22,913.15 141.16,920.24 144.1,915.51 147.04,909.21 149.98,911.57 152.92,923.39 155.86,919.45 158.8,917.09 161.74,924.18" fill="none" stroke="#f0a345" stroke-width="0.95" stroke-linejoin="round" stroke-linecap="round"/>
<polyline points="11.8,913.94 14.74,910.79 17.68,907.63 20.62,906.85 23.56,907.63 26.5,908.42 29.44,905.27 32.38,900.54 35.32,904.48 38.26,905.27 41.2,904.48 44.14,907.63 47.08,911.57 50.02,906.85 52.96,915.51 55.9,913.94 58.84,917.09 61.78,911.57 64.72,910.79 67.66,911.57 70.6,909.21 73.54,907.63 76.48,902.91 79.42,905.27 82.36,907.63 85.3,904.48 88.24,906.85 91.18,902.12 94.12,911.57 97.06,907.63 100,919.45 102.94,909.21 105.88,910.79 108.82,907.63 111.76,911.57 114.7,917.09 117.64,915.51 120.58,904.48 123.52,911.57 126.46,902.91 129.4,913.15 132.34,917.88 135.28,907.63 138.22,910.79 141.16,909.21 144.1,911.57 147.04,910.79 149.98,917.09 152.92,911.57 155.86,907.63 158.8,919.45 161.74,923.39" fill="none" stroke="#3aa63a" stroke-width="0.95" stroke-linejoin="round" stroke-linecap="round"/>
<polyline points="11.8,920.24 14.74,913.94 17.68,917.09 20.62,920.24 23.56,921.82 26.5,919.45 29.44,915.51 32.38,916.3 35.32,917.09 38.26,920.24 41.2,921.82 44.14,923.39 47.08,919.45 50.02,920.24 52.96,921.82 55.9,919.45 58.84,920.24 61.78,921.82 64.72,919.45 67.66,913.94 70.6,911.57 73.54,917.88 76.48,920.24 79.42,913.94 82.36,917.09 85.3,920.24 88.24,921.82 91.18,905.27 94.12,915.51 97.06,913.15 100,910.79 102.94,911.57 105.88,913.94 108.82,909.21 111.76,913.15 114.7,915.51 117.64,909.21 120.58,911.57 123.52,913.15 126.46,917.09 129.4,913.15 132.34,917.09 135.28,910.79 138.22,913.94 141.16,915.51 144.1,913.94 147.04,911.57 149.98,917.09 152.92,909.21 155.86,907.63 158.8,906.85 161.74,925.76" fill="none" stroke="#dd3b30" stroke-width="0.95" stroke-linejoin="round" stroke-linecap="round"/>
<polyline points="11.8,927.33 14.74,906.85 17.68,904.48 20.62,903.69 23.56,913.94 26.5,922.61 29.44,910.79 32.38,911.57 35.32,905.27 38.26,907.63 41.2,913.15 44.14,909.21 47.08,920.24 50.02,913.94 52.96,917.88 55.9,917.88 58.84,917.09 61.78,917.88 64.72,915.51 67.66,911.57 70.6,925.76 73.54,898.97 76.48,925.76 79.42,915.51 82.36,919.45 85.3,921.82 88.24,911.57 91.18,917.88 94.12,913.94 97.06,915.51 100,909.21" fill="none" stroke="#000000" stroke-width="1.9" stroke-linejoin="round" stroke-linecap="round"/>
<rect x="185" y="882.2" width="164.3" height="59.1" rx="0.9" fill="#fff" stroke="#b6b6b6" stroke-width="0.85"/>
<path d="M198.15 893.05V932.85H346.46" fill="none" stroke="#b4b4b4" stroke-width="0.6"/>
<path d="M199.4 932.85v1.1M202.26 932.85v1.1M205.12 932.85v1.1M207.98 932.85v1.1M210.84 932.85v1.1M213.7 932.85v1.1M216.56 932.85v1.1M219.42 932.85v1.1M222.28 932.85v1.1M225.14 932.85v1.1M228 932.85v1.1M230.86 932.85v1.1M233.72 932.85v1.1M236.58 932.85v1.1M239.44 932.85v1.1M242.3 932.85v1.1M245.16 932.85v1.1M248.02 932.85v1.1M250.88 932.85v1.1M253.74 932.85v1.1M256.6 932.85v1.1M259.46 932.85v1.1M262.32 932.85v1.1M265.18 932.85v1.1M268.04 932.85v1.1M270.9 932.85v1.1M273.76 932.85v1.1M276.62 932.85v1.1M279.48 932.85v1.1M282.34 932.85v1.1M285.2 932.85v1.1M288.06 932.85v1.1M290.92 932.85v1.1M293.78 932.85v1.1M296.64 932.85v1.1M299.5 932.85v1.1M302.36 932.85v1.1M305.22 932.85v1.1M308.08 932.85v1.1M310.94 932.85v1.1M313.8 932.85v1.1M316.66 932.85v1.1M319.52 932.85v1.1M322.38 932.85v1.1M325.24 932.85v1.1M328.1 932.85v1.1M330.96 932.85v1.1M333.82 932.85v1.1M336.68 932.85v1.1M339.54 932.85v1.1M342.4 932.85v1.1M345.26 932.85v1.1" stroke="#8e8e8e" stroke-width="0.7" fill="none"/>
<polyline points="199.4,932.32 202.26,931.96 205.12,931.6 207.98,931.24 210.84,930.88 213.7,930.25 216.56,929.61 219.42,928.97 222.28,928.33 225.14,927.72 228,927.1 230.86,926.49 233.72,925.87 236.58,925.31 239.44,924.74 242.3,924.18 245.16,923.61 248.02,923 250.88,922.39 253.74,921.77 256.6,921.16 259.46,920.63 262.32,920.1 265.18,919.57 268.04,919.04 270.9,918.51 273.76,917.97 276.62,917.44 279.48,916.91 282.34,916.38 285.2,915.85 288.06,915.24 290.92,914.63 293.78,914.03 296.64,913.42 299.5,912.81 302.36,912.2 305.22,911.59 308.08,910.98 310.94,910.37 313.8,909.76 316.66,909.23 319.52,908.71 322.38,908.18 325.24,907.65 328.1,907.13 330.96,906.6 333.82,906.07 336.68,905.55 339.54,905.02 342.4,904.49 345.26,903.96" fill="none" stroke="#4a84d2" stroke-width="0.95" stroke-linejoin="round" stroke-linecap="round"/>
<polyline points="199.4,932.46 202.26,932.14 205.12,931.82 207.98,931.5 210.84,931.18 213.7,930.81 216.56,930.44 219.42,930.07 222.28,929.71 225.14,929.36 228,929.02 230.86,928.67 233.72,928.33 236.58,927.94 239.44,927.54 242.3,927.15 245.16,926.76 248.02,926.27 250.88,925.78 253.74,925.28 256.6,924.79 259.46,924.42 262.32,924.05 265.18,923.67 268.04,923.3 270.9,922.93 273.76,922.55 276.62,922.18 279.48,921.81 282.34,921.43 285.2,921.06 288.06,920.61 290.92,920.16 293.78,919.7 296.64,919.25 299.5,918.8 302.36,918.35 305.22,917.9 308.08,917.44 310.94,916.99 313.8,916.54 316.66,916.12 319.52,915.7 322.38,915.28 325.24,914.86 328.1,914.44 330.96,914.02 333.82,913.6 336.68,913.18 339.54,912.76 342.4,912.34 345.26,911.92" fill="none" stroke="#f0a345" stroke-width="0.95" stroke-linejoin="round" stroke-linecap="round"/>
<polyline points="199.4,932.38 202.26,931.96 205.12,931.53 207.98,931.11 210.84,930.69 213.7,930.05 216.56,929.41 219.42,928.77 222.28,928.13 225.14,927.5 228,926.86 230.86,926.22 233.72,925.58 236.58,925.01 239.44,924.45 242.3,923.88 245.16,923.32 248.02,922.71 250.88,922.09 253.74,921.48 256.6,920.86 259.46,920.33 262.32,919.8 265.18,919.27 268.04,918.74 270.9,918.21 273.76,917.68 276.62,917.15 279.48,916.62 282.34,916.09 285.2,915.56 288.06,914.95 290.92,914.34 293.78,913.73 296.64,913.12 299.5,912.51 302.36,911.9 305.22,911.29 308.08,910.68 310.94,910.08 313.8,909.47 316.66,908.94 319.52,908.41 322.38,907.89 325.24,907.36 328.1,906.83 330.96,906.3 333.82,905.78 336.68,905.25 339.54,904.72 342.4,904.2 345.26,903.67" fill="none" stroke="#3aa63a" stroke-width="0.95" stroke-linejoin="round" stroke-linecap="round"/>
<polyline points="199.4,932.54 202.26,932.25 205.12,931.96 207.98,931.67 210.84,931.38 213.7,930.98 216.56,930.59 219.42,930.2 222.28,929.8 225.14,929.44 228,929.07 230.86,928.7 233.72,928.33 236.58,927.89 239.44,927.45 242.3,927 245.16,926.56 248.02,926.05 250.88,925.53 253.74,925.01 256.6,924.5 259.46,924.13 262.32,923.75 265.18,923.38 268.04,923.01 270.9,922.63 273.76,922.26 276.62,921.89 279.48,921.51 282.34,921.14 285.2,920.77 288.06,920.28 290.92,919.8 293.78,919.32 296.64,918.84 299.5,918.36 302.36,917.88 305.22,917.4 308.08,916.91 310.94,916.43 313.8,915.95 316.66,915.5 319.52,915.04 322.38,914.58 325.24,914.13 328.1,913.67 330.96,913.22 333.82,912.76 336.68,912.31 339.54,911.85 342.4,911.4 345.26,910.94" fill="none" stroke="#dd3b30" stroke-width="0.95" stroke-linejoin="round" stroke-linecap="round"/>
<polyline points="199.4,932.71 202.26,932.26 205.12,931.8 207.98,931.34 210.84,930.88 213.7,930.3 216.56,929.71 219.42,929.12 222.28,928.53 225.14,928.04 228,927.54 230.86,927.05 233.72,926.56 236.58,926.12 239.44,925.68 242.3,925.24 245.16,924.79 248.02,924.35 250.88,923.91 253.74,923.47 256.6,923.02 259.46,922.66 262.32,922.3 265.18,921.94 268.04,921.58 270.9,921.22 273.76,920.86 276.62,920.32 279.48,919.78 282.34,919.24 285.2,918.7" fill="none" stroke="#000000" stroke-width="1.9" stroke-linejoin="round" stroke-linecap="round"/>
<rect x="1.5" y="952.6" width="162.4" height="59.4" rx="0.9" fill="#fff" stroke="#b6b6b6" stroke-width="0.85"/>
<path d="M10.55 963.55V1003.35H160.9" fill="none" stroke="#b4b4b4" stroke-width="0.6"/>
<path d="M11.8 1003.35v1.1M14.7 1003.35v1.1M17.6 1003.35v1.1M20.5 1003.35v1.1M23.4 1003.35v1.1M26.3 1003.35v1.1M29.2 1003.35v1.1M32.1 1003.35v1.1M35 1003.35v1.1M37.9 1003.35v1.1M40.8 1003.35v1.1M43.7 1003.35v1.1M46.6 1003.35v1.1M49.5 1003.35v1.1M52.4 1003.35v1.1M55.3 1003.35v1.1M58.2 1003.35v1.1M61.1 1003.35v1.1M64 1003.35v1.1M66.9 1003.35v1.1M69.8 1003.35v1.1M72.7 1003.35v1.1M75.6 1003.35v1.1M78.5 1003.35v1.1M81.4 1003.35v1.1M84.3 1003.35v1.1M87.2 1003.35v1.1M90.1 1003.35v1.1M93 1003.35v1.1M95.9 1003.35v1.1M98.8 1003.35v1.1M101.7 1003.35v1.1M104.6 1003.35v1.1M107.5 1003.35v1.1M110.4 1003.35v1.1M113.3 1003.35v1.1M116.2 1003.35v1.1M119.1 1003.35v1.1M122 1003.35v1.1M124.9 1003.35v1.1M127.8 1003.35v1.1M130.7 1003.35v1.1M133.6 1003.35v1.1M136.5 1003.35v1.1M139.4 1003.35v1.1M142.3 1003.35v1.1M145.2 1003.35v1.1M148.1 1003.35v1.1M151 1003.35v1.1M153.9 1003.35v1.1M156.8 1003.35v1.1M159.7 1003.35v1.1" stroke="#8e8e8e" stroke-width="0.7" fill="none"/>
<polyline points="11.8,971.35 14.7,979.21 17.6,982.58 20.5,986.51 23.4,987.63 26.3,981.45 29.2,979.21 32.1,984.26 35,980.33 37.9,981.45 40.8,977.52 43.7,987.63 46.6,971.91 49.5,980.33 52.4,982.58 55.3,981.45 58.2,980.33 61.1,979.21 64,982.58 66.9,981.45 69.8,984.26 72.7,975.28 75.6,981.45 78.5,982.58 81.4,980.33 84.3,985.38 87.2,987.63 90.1,984.26 93,987.63 95.9,985.38 98.8,980.33 101.7,979.21 104.6,984.26 107.5,981.45 110.4,985.38 113.3,980.33 116.2,982.58 119.1,987.63 122,985.38 124.9,981.45 127.8,987.63 130.7,984.26 133.6,985.38 136.5,980.33 139.4,982.58 142.3,979.21 145.2,984.26 148.1,981.45 151,986.51 153.9,987.63 156.8,984.26 159.7,985.38" fill="none" stroke="#4a84d2" stroke-width="0.95" stroke-linejoin="round" stroke-linecap="round"/>
<polyline points="11.8,982.58 14.7,976.4 17.6,980.33 20.5,975.28 23.4,979.21 26.3,981.45 29.2,976.4 32.1,980.33 35,977.52 37.9,982.58 40.8,980.33 43.7,975.28 46.6,977.52 49.5,979.21 52.4,976.4 55.3,980.33 58.2,977.52 61.1,981.45 64,976.4 66.9,972.47 69.8,977.52 72.7,981.45 75.6,976.4 78.5,980.33 81.4,982.58 84.3,976.4 87.2,975.28 90.1,980.33 93,976.4 95.9,979.21 98.8,982.58 101.7,976.4 104.6,980.33 107.5,975.28 110.4,981.45 113.3,977.52 116.2,975.28 119.1,984.26 122,979.21 124.9,976.4 127.8,982.58 130.7,986.51 133.6,979.21 136.5,981.45 139.4,976.4 142.3,980.33 145.2,982.58 148.1,977.52 151,975.28 153.9,981.45 156.8,977.52 159.7,981.45" fill="none" stroke="#f0a345" stroke-width="0.95" stroke-linejoin="round" stroke-linecap="round"/>
<polyline points="11.8,984.26 14.7,985.38 17.6,981.45 20.5,979.21 23.4,982.58 26.3,980.33 29.2,979.21 32.1,982.58 35,981.45 37.9,979.21 40.8,984.26 43.7,981.45 46.6,982.58 49.5,977.52 52.4,980.33 55.3,981.45 58.2,985.38 61.1,981.45 64,980.33 66.9,984.26 69.8,981.45 72.7,979.21 75.6,985.38 78.5,981.45 81.4,982.58 84.3,979.21 87.2,977.52 90.1,981.45 93,985.38 95.9,980.33 98.8,981.45 101.7,979.21 104.6,971.35 107.5,980.33 110.4,976.4 113.3,984.26 116.2,980.33 119.1,977.52 122,982.58 124.9,985.38 127.8,980.33 130.7,976.4 133.6,982.58 136.5,984.26 139.4,979.21 142.3,981.45 145.2,977.52 148.1,984.26 151,980.33 153.9,975.28 156.8,981.45 159.7,986.51" fill="none" stroke="#3aa63a" stroke-width="0.95" stroke-linejoin="round" stroke-linecap="round"/>
<polyline points="11.8,980.33 14.7,972.47 17.6,979.21 20.5,980.33 23.4,974.16 26.3,977.52 29.2,981.45 32.1,979.21 35,982.58 37.9,977.52 40.8,982.58 43.7,980.33 46.6,977.52 49.5,981.45 52.4,977.52 55.3,982.58 58.2,980.33 61.1,976.4 64,979.21 66.9,975.28 69.8,981.45 72.7,982.58 75.6,979.21 78.5,984.26 81.4,979.21 84.3,977.52 87.2,980.33 90.1,976.4 93,979.21 95.9,976.4 98.8,977.52 101.7,980.33 104.6,974.16 107.5,982.58 110.4,977.52 113.3,974.16 116.2,981.45 119.1,976.4 122,982.58 124.9,979.21 127.8,972.47 130.7,982.58 133.6,980.33 136.5,976.4 139.4,981.45 142.3,975.28 145.2,972.47 148.1,981.45 151,984.26 153.9,979.21 156.8,974.16 159.7,982.58" fill="none" stroke="#dd3b30" stroke-width="0.95" stroke-linejoin="round" stroke-linecap="round"/>
<polyline points="11.8,987.63 14.7,984.26 17.6,976.96 20.5,981.45 23.4,977.52 26.3,978.09 29.2,982.02 32.1,982.58 35,976.4 37.9,976.4 40.8,986.51 43.7,981.45 46.6,975.28 49.5,982.58 52.4,986.51 55.3,986.51 58.2,975.84 61.1,975.28 64,984.26 66.9,985.38 69.8,975.28 72.7,988.19 75.6,981.45 78.5,974.16 81.4,976.4 84.3,975.28 87.2,972.47 90.1,968.54 93,975.28 95.9,984.26 98.8,984.82" fill="none" stroke="#000000" stroke-width="1.9" stroke-linejoin="round" stroke-linecap="round"/>
<rect x="186.9" y="952.6" width="162.4" height="59.4" rx="0.9" fill="#fff" stroke="#b6b6b6" stroke-width="0.85"/>
<path d="M199.95 963.45V1003.35H346.38" fill="none" stroke="#b4b4b4" stroke-width="0.6"/>
<path d="M201.1 1003.35v1.1M203.92 1003.35v1.1M206.75 1003.35v1.1M209.57 1003.35v1.1M212.4 1003.35v1.1M215.22 1003.35v1.1M218.05 1003.35v1.1M220.88 1003.35v1.1M223.7 1003.35v1.1M226.53 1003.35v1.1M229.35 1003.35v1.1M232.18 1003.35v1.1M235 1003.35v1.1M237.82 1003.35v1.1M240.65 1003.35v1.1M243.47 1003.35v1.1M246.3 1003.35v1.1M249.12 1003.35v1.1M251.95 1003.35v1.1M254.78 1003.35v1.1M257.6 1003.35v1.1M260.43 1003.35v1.1M263.25 1003.35v1.1M266.07 1003.35v1.1M268.9 1003.35v1.1M271.73 1003.35v1.1M274.55 1003.35v1.1M277.38 1003.35v1.1M280.2 1003.35v1.1M283.02 1003.35v1.1M285.85 1003.35v1.1M288.68 1003.35v1.1M291.5 1003.35v1.1M294.32 1003.35v1.1M297.15 1003.35v1.1M299.98 1003.35v1.1M302.8 1003.35v1.1M305.62 1003.35v1.1M308.45 1003.35v1.1M311.27 1003.35v1.1M314.1 1003.35v1.1M316.93 1003.35v1.1M319.75 1003.35v1.1M322.57 1003.35v1.1M325.4 1003.35v1.1M328.23 1003.35v1.1M331.05 1003.35v1.1M333.88 1003.35v1.1M336.7 1003.35v1.1M339.52 1003.35v1.1M342.35 1003.35v1.1M345.18 1003.35v1.1" stroke="#8e8e8e" stroke-width="0.7" fill="none"/>
<polyline points="201.1,1002.45 203.92,1001.9 206.75,1001.34 209.57,1000.78 212.4,1000.23 215.22,999.67 218.05,999.11 220.88,998.56 223.7,998 226.53,997.44 229.35,996.89 232.18,996.23 235,995.56 237.82,994.9 240.65,994.24 243.47,993.58 246.3,992.92 249.12,992.25 251.95,991.59 254.78,990.93 257.6,990.27 260.43,989.62 263.25,988.98 266.07,988.33 268.9,987.68 271.73,987.04 274.55,986.39 277.38,985.75 280.2,985.1 283.02,984.45 285.85,983.81 288.68,983.22 291.5,982.64 294.32,982.06 297.15,981.48 299.98,980.89 302.8,980.31 305.62,979.73 308.45,979.14 311.27,978.56 314.1,977.98 316.93,977.44 319.75,976.9 322.57,976.36 325.4,975.83 328.23,975.29 331.05,974.75 333.88,974.22 336.7,973.68 339.52,973.14 342.35,972.6 345.18,972.07" fill="none" stroke="#4a84d2" stroke-width="0.95" stroke-linejoin="round" stroke-linecap="round"/>
<polyline points="201.1,1002.77 203.92,1002.13 206.75,1001.5 209.57,1000.86 212.4,1000.23 215.22,999.59 218.05,998.96 220.88,998.32 223.7,997.69 226.53,997.05 229.35,996.42 232.18,995.71 235,995 237.82,994.29 240.65,993.58 243.47,992.87 246.3,992.16 249.12,991.45 251.95,990.74 254.78,990.03 257.6,989.32 260.43,988.57 263.25,987.81 266.07,987.05 268.9,986.3 271.73,985.54 274.55,984.78 277.38,984.03 280.2,983.27 283.02,982.52 285.85,981.76 288.68,981.08 291.5,980.4 294.32,979.73 297.15,979.05 299.98,978.37 302.8,977.69 305.62,977.02 308.45,976.34 311.27,975.66 314.1,974.98 316.93,974.32 319.75,973.66 322.57,973 325.4,972.35 328.23,971.69 331.05,971.03 333.88,970.37 336.7,969.71 339.52,969.05 342.35,968.39 345.18,967.73" fill="none" stroke="#f0a345" stroke-width="0.95" stroke-linejoin="round" stroke-linecap="round"/>
<polyline points="201.1,1002.81 203.92,1002.21 206.75,1001.6 209.57,1000.99 212.4,1000.38 215.22,999.77 218.05,999.16 220.88,998.56 223.7,997.95 226.53,997.34 229.35,996.73 232.18,996.05 235,995.38 237.82,994.7 240.65,994.02 243.47,993.34 246.3,992.66 249.12,991.99 251.95,991.31 254.78,990.63 257.6,989.95 260.43,989.26 263.25,988.57 266.07,987.87 268.9,987.18 271.73,986.49 274.55,985.79 277.38,985.1 280.2,984.41 283.02,983.71 285.85,983.02 288.68,982.39 291.5,981.76 294.32,981.13 297.15,980.5 299.98,979.87 302.8,979.24 305.62,978.61 308.45,977.98 311.27,977.35 314.1,976.72 316.93,976.13 319.75,975.54 322.57,974.95 325.4,974.37 328.23,973.78 331.05,973.19 333.88,972.6 336.7,972.02 339.52,971.43 342.35,970.84 345.18,970.25" fill="none" stroke="#3aa63a" stroke-width="0.95" stroke-linejoin="round" stroke-linecap="round"/>
<polyline points="201.1,1002.7 203.92,1002.08 206.75,1001.46 209.57,1000.84 212.4,1000.22 215.22,999.6 218.05,998.98 220.88,998.36 223.7,997.74 226.53,997.12 229.35,996.49 232.18,995.79 235,995.08 237.82,994.37 240.65,993.66 243.47,992.95 246.3,992.24 249.12,991.53 251.95,990.82 254.78,990.11 257.6,989.4 260.43,988.67 263.25,987.94 266.07,987.2 268.9,986.47 271.73,985.74 274.55,985.01 277.38,984.27 280.2,983.54 283.02,982.81 285.85,982.07 288.68,981.4 291.5,980.72 294.32,980.04 297.15,979.36 299.98,978.69 302.8,978.01 305.62,977.33 308.45,976.65 311.27,975.97 314.1,975.3 316.93,974.66 319.75,974.02 322.57,973.38 325.4,972.75 328.23,972.11 331.05,971.47 333.88,970.83 336.7,970.2 339.52,969.56 342.35,968.92 345.18,968.28" fill="none" stroke="#dd3b30" stroke-width="0.95" stroke-linejoin="round" stroke-linecap="round"/>
<polyline points="201.1,1002.91 203.92,1002.29 206.75,1001.67 209.57,1001.06 212.4,1000.44 215.22,999.82 218.05,999.2 220.88,998.58 223.7,997.97 226.53,997.35 229.35,996.73 232.18,996.05 235,995.38 237.82,994.7 240.65,994.02 243.47,993.34 246.3,992.66 249.12,991.99 251.95,991.31 254.78,990.63 257.6,989.95 260.43,989.24 263.25,988.54 266.07,987.83 268.9,987.12 271.73,986.41 274.55,985.7 277.38,984.99 280.2,984.28 283.02,983.57 285.85,982.86" fill="none" stroke="#000000" stroke-width="1.9" stroke-linejoin="round" stroke-linecap="round"/>
<rect x="1.5" y="1023" width="162.7" height="59.5" rx="0.9" fill="#fff" stroke="#b6b6b6" stroke-width="0.85"/>
<path d="M12.55 1034.25V1073.95H160.35" fill="none" stroke="#b4b4b4" stroke-width="0.6"/>
<path d="M13.8 1073.95v1.1M16.65 1073.95v1.1M19.5 1073.95v1.1M22.35 1073.95v1.1M25.2 1073.95v1.1M28.05 1073.95v1.1M30.9 1073.95v1.1M33.75 1073.95v1.1M36.6 1073.95v1.1M39.45 1073.95v1.1M42.3 1073.95v1.1M45.15 1073.95v1.1M48 1073.95v1.1M50.85 1073.95v1.1M53.7 1073.95v1.1M56.55 1073.95v1.1M59.4 1073.95v1.1M62.25 1073.95v1.1M65.1 1073.95v1.1M67.95 1073.95v1.1M70.8 1073.95v1.1M73.65 1073.95v1.1M76.5 1073.95v1.1M79.35 1073.95v1.1M82.2 1073.95v1.1M85.05 1073.95v1.1M87.9 1073.95v1.1M90.75 1073.95v1.1M93.6 1073.95v1.1M96.45 1073.95v1.1M99.3 1073.95v1.1M102.15 1073.95v1.1M105 1073.95v1.1M107.85 1073.95v1.1M110.7 1073.95v1.1M113.55 1073.95v1.1M116.4 1073.95v1.1M119.25 1073.95v1.1M122.1 1073.95v1.1M124.95 1073.95v1.1M127.8 1073.95v1.1M130.65 1073.95v1.1M133.5 1073.95v1.1M136.35 1073.95v1.1M139.2 1073.95v1.1M142.05 1073.95v1.1M144.9 1073.95v1.1M147.75 1073.95v1.1M150.6 1073.95v1.1M153.45 1073.95v1.1M156.3 1073.95v1.1M159.15 1073.95v1.1" stroke="#8e8e8e" stroke-width="0.7" fill="none"/>
<polyline points="13.8,1060.23 16.65,1052.72 19.5,1056.64 22.35,1052.72 25.2,1055.33 28.05,1052.72 30.9,1057.62 33.75,1051.41 36.6,1054.02 39.45,1052.72 42.3,1055.33 45.15,1057.62 48,1054.02 50.85,1051.41 53.7,1056.64 56.55,1058.92 59.4,1057.62 62.25,1054.02 65.1,1057.62 67.95,1055.33 70.8,1054.02 73.65,1057.62 76.5,1056.64 79.35,1050.1 82.2,1046.51 85.05,1055.33 87.9,1057.62 90.75,1057.62 93.6,1058.92 96.45,1057.62 99.3,1054.02 102.15,1050.1 105,1046.51 107.85,1048.8 110.7,1047.82 113.55,1048.8 116.4,1050.1 119.25,1050.1 122.1,1054.02 124.95,1052.72 127.8,1050.1 130.65,1054.02 133.5,1048.8 136.35,1043.9 139.2,1048.8 142.05,1052.72 144.9,1054.02 147.75,1047.82 150.6,1051.41 153.45,1048.8 156.3,1048.8 159.15,1062.84" fill="none" stroke="#4a84d2" stroke-width="0.95" stroke-linejoin="round" stroke-linecap="round"/>
<polyline points="13.8,1057.62 16.65,1051.41 19.5,1054.02 22.35,1048.8 25.2,1045.2 28.05,1048.8 30.9,1051.41 33.75,1050.1 36.6,1047.82 39.45,1048.8 42.3,1050.1 45.15,1047.82 48,1051.41 50.85,1048.8 53.7,1052.72 56.55,1056.64 59.4,1050.1 62.25,1046.51 65.1,1051.41 67.95,1048.8 70.8,1052.72 73.65,1050.1 76.5,1054.02 79.35,1048.8 82.2,1047.82 85.05,1051.41 87.9,1050.1 90.75,1054.02 93.6,1051.41 96.45,1056.64 99.3,1051.41 102.15,1046.51 105,1047.82 107.85,1043.9 110.7,1039.32 113.55,1046.51 116.4,1048.8 119.25,1045.2 122.1,1047.82 124.95,1046.51 127.8,1047.82 130.65,1050.1 133.5,1045.2 136.35,1041.28 139.2,1048.8 142.05,1054.02 144.9,1047.82 147.75,1045.2 150.6,1055.33 153.45,1047.82 156.3,1046.51 159.15,1067.74" fill="none" stroke="#f0a345" stroke-width="0.95" stroke-linejoin="round" stroke-linecap="round"/>
<polyline points="13.8,1058.92 16.65,1050.1 19.5,1055.33 22.35,1051.41 25.2,1047.82 28.05,1051.41 30.9,1054.02 33.75,1048.8 36.6,1051.41 39.45,1050.1 42.3,1052.72 45.15,1054.02 48,1056.64 50.85,1051.41 53.7,1055.33 56.55,1061.54 59.4,1058.92 62.25,1055.33 65.1,1056.64 67.95,1054.02 70.8,1056.64 73.65,1054.02 76.5,1057.62 79.35,1052.72 82.2,1055.33 85.05,1054.02 87.9,1051.41 90.75,1055.33 93.6,1056.64 96.45,1057.62 99.3,1052.72 102.15,1048.8 105,1047.82 107.85,1050.1 110.7,1047.82 113.55,1050.1 116.4,1047.82 119.25,1052.72 122.1,1054.02 124.95,1050.1 127.8,1052.72 130.65,1051.41 133.5,1047.82 136.35,1045.2 139.2,1050.1 142.05,1054.02 144.9,1050.1 147.75,1052.72 150.6,1056.64 153.45,1050.1 156.3,1047.82 159.15,1064.15" fill="none" stroke="#3aa63a" stroke-width="0.95" stroke-linejoin="round" stroke-linecap="round"/>
<polyline points="13.8,1058.92 16.65,1045.2 19.5,1052.72 22.35,1047.82 25.2,1046.51 28.05,1052.72 30.9,1048.8 33.75,1051.41 36.6,1050.1 39.45,1051.41 42.3,1048.8 45.15,1047.82 48,1050.1 50.85,1054.02 53.7,1048.8 56.55,1060.23 59.4,1054.02 62.25,1048.8 65.1,1054.02 67.95,1057.62 70.8,1052.72 73.65,1055.33 76.5,1058.92 79.35,1051.41 82.2,1052.72 85.05,1056.64 87.9,1054.02 90.75,1056.64 93.6,1055.33 96.45,1057.62 99.3,1050.1 102.15,1047.82 105,1048.8 107.85,1046.51 110.7,1047.82 113.55,1048.8 116.4,1045.2 119.25,1051.41 122.1,1052.72 124.95,1050.1 127.8,1051.41 130.65,1048.8 133.5,1046.51 136.35,1042.59 139.2,1047.82 142.05,1055.33 144.9,1051.41 147.75,1043.9 150.6,1046.51 153.45,1047.82 156.3,1045.2 159.15,1068.4" fill="none" stroke="#dd3b30" stroke-width="0.95" stroke-linejoin="round" stroke-linecap="round"/>
<polyline points="13.8,1062.84 16.65,1054.02 19.5,1045.2 22.35,1038.34 25.2,1048.8 28.05,1050.1 30.9,1051.41 33.75,1051.41 36.6,1052.72 39.45,1054.02 42.3,1055.33 45.15,1064.15 48,1061.54 50.85,1062.84 53.7,1065.13 56.55,1064.15 59.4,1062.84 62.25,1061.54 65.1,1064.15 67.95,1057.62 70.8,1061.54 73.65,1055.33 76.5,1060.23 79.35,1048.8 82.2,1054.02 85.05,1056.64 87.9,1052.72 90.75,1055.33 93.6,1057.62 96.45,1059.58 99.3,1057.62" fill="none" stroke="#000000" stroke-width="1.9" stroke-linejoin="round" stroke-linecap="round"/>
<rect x="186.6" y="1023" width="162.7" height="59.5" rx="0.9" fill="#fff" stroke="#b6b6b6" stroke-width="0.85"/>
<path d="M199.15 1034.25V1073.95H346.44" fill="none" stroke="#b4b4b4" stroke-width="0.6"/>
<path d="M200.4 1073.95v1.1M203.24 1073.95v1.1M206.08 1073.95v1.1M208.92 1073.95v1.1M211.76 1073.95v1.1M214.6 1073.95v1.1M217.44 1073.95v1.1M220.28 1073.95v1.1M223.12 1073.95v1.1M225.96 1073.95v1.1M228.8 1073.95v1.1M231.64 1073.95v1.1M234.48 1073.95v1.1M237.32 1073.95v1.1M240.16 1073.95v1.1M243 1073.95v1.1M245.84 1073.95v1.1M248.68 1073.95v1.1M251.52 1073.95v1.1M254.36 1073.95v1.1M257.2 1073.95v1.1M260.04 1073.95v1.1M262.88 1073.95v1.1M265.72 1073.95v1.1M268.56 1073.95v1.1M271.4 1073.95v1.1M274.24 1073.95v1.1M277.08 1073.95v1.1M279.92 1073.95v1.1M282.76 1073.95v1.1M285.6 1073.95v1.1M288.44 1073.95v1.1M291.28 1073.95v1.1M294.12 1073.95v1.1M296.96 1073.95v1.1M299.8 1073.95v1.1M302.64 1073.95v1.1M305.48 1073.95v1.1M308.32 1073.95v1.1M311.16 1073.95v1.1M314 1073.95v1.1M316.84 1073.95v1.1M319.68 1073.95v1.1M322.52 1073.95v1.1M325.36 1073.95v1.1M328.2 1073.95v1.1M331.04 1073.95v1.1M333.88 1073.95v1.1M336.72 1073.95v1.1M339.56 1073.95v1.1M342.4 1073.95v1.1M345.24 1073.95v1.1" stroke="#8e8e8e" stroke-width="0.7" fill="none"/>
<polyline points="200.4,1073.54 203.24,1072.76 206.08,1071.98 208.92,1071.2 211.76,1070.42 214.6,1069.61 217.44,1068.81 220.28,1068 223.12,1067.19 225.96,1066.61 228.8,1066.04 231.64,1065.46 234.48,1064.88 237.32,1064.43 240.16,1063.98 243,1063.53 245.84,1063.07 248.68,1062.63 251.52,1062.19 254.36,1061.75 257.2,1061.31 260.04,1060.79 262.88,1060.27 265.72,1059.75 268.56,1059.23 271.4,1058.71 274.24,1058.19 277.08,1057.67 279.92,1057.15 282.76,1056.63 285.6,1056.11 288.44,1055.36 291.28,1054.6 294.12,1053.85 296.96,1053.1 299.8,1052.34 302.64,1051.59 305.48,1050.83 308.32,1050.08 311.16,1049.32 314,1048.57 316.84,1047.88 319.68,1047.2 322.52,1046.51 325.36,1045.82 328.2,1045.14 331.04,1044.45 333.88,1043.77 336.72,1043.08 339.56,1042.39 342.4,1041.71 345.24,1041.02" fill="none" stroke="#4a84d2" stroke-width="0.95" stroke-linejoin="round" stroke-linecap="round"/>
<polyline points="200.4,1073.46 203.24,1072.6 206.08,1071.75 208.92,1070.89 211.76,1070.03 214.6,1069.18 217.44,1068.34 220.28,1067.49 223.12,1066.65 225.96,1065.98 228.8,1065.3 231.64,1064.63 234.48,1063.95 237.32,1063.39 240.16,1062.83 243,1062.26 245.84,1061.7 248.68,1061.16 251.52,1060.62 254.36,1060.08 257.2,1059.54 260.04,1059.04 262.88,1058.54 265.72,1058.04 268.56,1057.54 271.4,1057.05 274.24,1056.55 277.08,1056.05 279.92,1055.55 282.76,1055.05 285.6,1054.55 288.44,1053.74 291.28,1052.94 294.12,1052.14 296.96,1051.33 299.8,1050.53 302.64,1049.72 305.48,1048.92 308.32,1048.12 311.16,1047.31 314,1046.51 316.84,1045.78 319.68,1045.06 322.52,1044.33 325.36,1043.61 328.2,1042.88 331.04,1042.15 333.88,1041.43 336.72,1040.7 339.56,1039.98 342.4,1039.25 345.24,1038.52" fill="none" stroke="#f0a345" stroke-width="0.95" stroke-linejoin="round" stroke-linecap="round"/>
<polyline points="200.4,1073.5 203.24,1072.68 206.08,1071.86 208.92,1071.04 211.76,1070.23 214.6,1069.39 217.44,1068.56 220.28,1067.73 223.12,1066.89 225.96,1066.31 228.8,1065.72 231.64,1065.13 234.48,1064.54 237.32,1064.08 240.16,1063.61 243,1063.15 245.84,1062.68 248.68,1062.19 251.52,1061.7 254.36,1061.21 257.2,1060.72 260.04,1060.2 262.88,1059.68 265.72,1059.16 268.56,1058.64 271.4,1058.12 274.24,1057.6 277.08,1057.08 279.92,1056.56 282.76,1056.05 285.6,1055.53 288.44,1054.77 291.28,1054.02 294.12,1053.26 296.96,1052.51 299.8,1051.75 302.64,1051 305.48,1050.24 308.32,1049.49 311.16,1048.73 314,1047.98 316.84,1047.28 319.68,1046.58 322.52,1045.88 325.36,1045.18 328.2,1044.48 331.04,1043.78 333.88,1043.08 336.72,1042.39 339.56,1041.69 342.4,1040.99 345.24,1040.29" fill="none" stroke="#3aa63a" stroke-width="0.95" stroke-linejoin="round" stroke-linecap="round"/>
<polyline points="200.4,1073.5 203.24,1072.61 206.08,1071.72 208.92,1070.82 211.76,1069.93 214.6,1069.11 217.44,1068.29 220.28,1067.47 223.12,1066.65 225.96,1066 228.8,1065.35 231.64,1064.7 234.48,1064.05 237.32,1063.54 240.16,1063.02 243,1062.51 245.84,1061.99 248.68,1061.48 251.52,1060.96 254.36,1060.45 257.2,1059.94 260.04,1059.43 262.88,1058.92 265.72,1058.41 268.56,1057.9 271.4,1057.39 274.24,1056.88 277.08,1056.37 279.92,1055.86 282.76,1055.35 285.6,1054.84 288.44,1054.07 291.28,1053.29 294.12,1052.52 296.96,1051.74 299.8,1050.97 302.64,1050.19 305.48,1049.42 308.32,1048.65 311.16,1047.87 314,1047.1 316.84,1046.39 319.68,1045.67 322.52,1044.96 325.36,1044.25 328.2,1043.53 331.04,1042.82 333.88,1042.11 336.72,1041.4 339.56,1040.68 342.4,1039.97 345.24,1039.26" fill="none" stroke="#dd3b30" stroke-width="0.95" stroke-linejoin="round" stroke-linecap="round"/>
<polyline points="200.4,1073.62 203.24,1072.78 206.08,1071.94 208.92,1070.69 211.76,1069.44 214.6,1068.74 217.44,1068.05 220.28,1067.35 223.12,1066.65 225.96,1066.27 228.8,1065.89 231.64,1065.51 234.48,1065.13 237.32,1064.76 240.16,1064.39 243,1064.03 245.84,1063.66 248.68,1063.22 251.52,1062.78 254.36,1062.34 257.2,1061.9 260.04,1061.58 262.88,1061.26 265.72,1060.94 268.56,1060.62 271.4,1060 274.24,1059.37 277.08,1058.75 279.92,1058.12 282.76,1057.76 285.6,1057.39" fill="none" stroke="#000000" stroke-width="1.9" stroke-linejoin="round" stroke-linecap="round"/>
<g>
<text class="t" x="83.1" y="7.5" transform="rotate(.04 83.1 7.5)">Respiratory syncytial virus</text>
<text class="l e" x="8.8" y="58.65" transform="rotate(.04 8.8 58.65)">0</text>
<text class="l e" x="8.8" y="49.69" transform="rotate(.04 8.8 49.69)">100</text>
<text class="l e" x="8.8" y="40.73" transform="rotate(.04 8.8 40.73)">200</text>
<text class="l e" x="8.8" y="31.77" transform="rotate(.04 8.8 31.77)">300</text>
<text class="l e" x="8.8" y="22.81" transform="rotate(.04 8.8 22.81)">400</text>
<text class="l e" x="8.8" y="13.85" transform="rotate(.04 8.8 13.85)">500</text>
<text class="l m" x="13.4" y="63.7" transform="rotate(.04 13.4 63.7)">1</text>
<text class="l m" x="24.96" y="63.7" transform="rotate(.04 24.96 63.7)">5</text>
<text class="l m" x="36.52" y="63.7" transform="rotate(.04 36.52 63.7)">9</text>
<text class="l m" x="48.08" y="63.7" transform="rotate(.04 48.08 63.7)">13</text>
<text class="l m" x="59.64" y="63.7" transform="rotate(.04 59.64 63.7)">17</text>
<text class="l m" x="71.2" y="63.7" transform="rotate(.04 71.2 63.7)">21</text>
<text class="l m" x="82.76" y="63.7" transform="rotate(.04 82.76 63.7)">25</text>
<text class="l m" x="94.32" y="63.7" transform="rotate(.04 94.32 63.7)">29</text>
<text class="l m" x="105.88" y="63.7" transform="rotate(.04 105.88 63.7)">33</text>
<text class="l m" x="117.44" y="63.7" transform="rotate(.04 117.44 63.7)">37</text>
<text class="l m" x="129" y="63.7" transform="rotate(.04 129 63.7)">41</text>
<text class="l m" x="140.56" y="63.7" transform="rotate(.04 140.56 63.7)">45</text>
<text class="l m" x="152.12" y="63.7" transform="rotate(.04 152.12 63.7)">49</text>
<text class="t" x="267.6" y="7.5" transform="rotate(.04 267.6 7.5)">Respiratory syncytial virus</text>
<text class="l e" x="195.4" y="58.65" transform="rotate(.04 195.4 58.65)">0</text>
<text class="l e" x="195.4" y="51.18" transform="rotate(.04 195.4 51.18)">1000</text>
<text class="l e" x="195.4" y="43.72" transform="rotate(.04 195.4 43.72)">2000</text>
<text class="l e" x="195.4" y="36.25" transform="rotate(.04 195.4 36.25)">3000</text>
<text class="l e" x="195.4" y="28.78" transform="rotate(.04 195.4 28.78)">4000</text>
<text class="l e" x="195.4" y="21.32" transform="rotate(.04 195.4 21.32)">5000</text>
<text class="l e" x="195.4" y="13.85" transform="rotate(.04 195.4 13.85)">6000</text>
<text class="l m" x="200.4" y="63.7" transform="rotate(.04 200.4 63.7)">1</text>
<text class="l m" x="211.76" y="63.7" transform="rotate(.04 211.76 63.7)">5</text>
<text class="l m" x="223.12" y="63.7" transform="rotate(.04 223.12 63.7)">9</text>
<text class="l m" x="234.48" y="63.7" transform="rotate(.04 234.48 63.7)">13</text>
<text class="l m" x="245.84" y="63.7" transform="rotate(.04 245.84 63.7)">17</text>
<text class="l m" x="257.2" y="63.7" transform="rotate(.04 257.2 63.7)">21</text>
<text class="l m" x="268.56" y="63.7" transform="rotate(.04 268.56 63.7)">25</text>
<text class="l m" x="279.92" y="63.7" transform="rotate(.04 279.92 63.7)">29</text>
<text class="l m" x="291.28" y="63.7" transform="rotate(.04 291.28 63.7)">33</text>
<text class="l m" x="302.64" y="63.7" transform="rotate(.04 302.64 63.7)">37</text>
<text class="l m" x="314" y="63.7" transform="rotate(.04 314 63.7)">41</text>
<text class="l m" x="325.36" y="63.7" transform="rotate(.04 325.36 63.7)">45</text>
<text class="l m" x="336.72" y="63.7" transform="rotate(.04 336.72 63.7)">49</text>
<text class="t" x="83.1" y="86.2" transform="rotate(.04 83.1 86.2)">Rhinovirus</text>
<text class="l e" x="8.6" y="136.75" transform="rotate(.04 8.6 136.75)">0</text>
<text class="l e" x="8.6" y="129.3" transform="rotate(.04 8.6 129.3)">20</text>
<text class="l e" x="8.6" y="121.85" transform="rotate(.04 8.6 121.85)">40</text>
<text class="l e" x="8.6" y="114.4" transform="rotate(.04 8.6 114.4)">60</text>
<text class="l e" x="8.6" y="106.95" transform="rotate(.04 8.6 106.95)">80</text>
<text class="l e" x="8.6" y="99.5" transform="rotate(.04 8.6 99.5)">100</text>
<text class="l e" x="8.6" y="92.05" transform="rotate(.04 8.6 92.05)">120</text>
<text class="l m" x="13.3" y="141.7" transform="rotate(.04 13.3 141.7)">1</text>
<text class="l m" x="24.82" y="141.7" transform="rotate(.04 24.82 141.7)">5</text>
<text class="l m" x="36.34" y="141.7" transform="rotate(.04 36.34 141.7)">9</text>
<text class="l m" x="47.86" y="141.7" transform="rotate(.04 47.86 141.7)">13</text>
<text class="l m" x="59.38" y="141.7" transform="rotate(.04 59.38 141.7)">17</text>
<text class="l m" x="70.9" y="141.7" transform="rotate(.04 70.9 141.7)">21</text>
<text class="l m" x="82.42" y="141.7" transform="rotate(.04 82.42 141.7)">25</text>
<text class="l m" x="93.94" y="141.7" transform="rotate(.04 93.94 141.7)">29</text>
<text class="l m" x="105.46" y="141.7" transform="rotate(.04 105.46 141.7)">33</text>
<text class="l m" x="116.98" y="141.7" transform="rotate(.04 116.98 141.7)">37</text>
<text class="l m" x="128.5" y="141.7" transform="rotate(.04 128.5 141.7)">41</text>
<text class="l m" x="140.02" y="141.7" transform="rotate(.04 140.02 141.7)">45</text>
<text class="l m" x="151.54" y="141.7" transform="rotate(.04 151.54 141.7)">49</text>
<text class="t" x="267.95" y="86.2" transform="rotate(.04 267.95 86.2)">Rhinovirus</text>
<text class="l e" x="195.4" y="136.75" transform="rotate(.04 195.4 136.75)">0</text>
<text class="l e" x="195.4" y="125.58" transform="rotate(.04 195.4 125.58)">500</text>
<text class="l e" x="195.4" y="114.4" transform="rotate(.04 195.4 114.4)">1000</text>
<text class="l e" x="195.4" y="103.22" transform="rotate(.04 195.4 103.22)">1500</text>
<text class="l e" x="195.4" y="92.05" transform="rotate(.04 195.4 92.05)">2000</text>
<text class="l m" x="200.4" y="141.7" transform="rotate(.04 200.4 141.7)">1</text>
<text class="l m" x="211.76" y="141.7" transform="rotate(.04 211.76 141.7)">5</text>
<text class="l m" x="223.12" y="141.7" transform="rotate(.04 223.12 141.7)">9</text>
<text class="l m" x="234.48" y="141.7" transform="rotate(.04 234.48 141.7)">13</text>
<text class="l m" x="245.84" y="141.7" transform="rotate(.04 245.84 141.7)">17</text>
<text class="l m" x="257.2" y="141.7" transform="rotate(.04 257.2 141.7)">21</text>
<text class="l m" x="268.56" y="141.7" transform="rotate(.04 268.56 141.7)">25</text>
<text class="l m" x="279.92" y="141.7" transform="rotate(.04 279.92 141.7)">29</text>
<text class="l m" x="291.28" y="141.7" transform="rotate(.04 291.28 141.7)">33</text>
<text class="l m" x="302.64" y="141.7" transform="rotate(.04 302.64 141.7)">37</text>
<text class="l m" x="314" y="141.7" transform="rotate(.04 314 141.7)">41</text>
<text class="l m" x="325.36" y="141.7" transform="rotate(.04 325.36 141.7)">45</text>
<text class="l m" x="336.72" y="141.7" transform="rotate(.04 336.72 141.7)">49</text>
<text class="t" x="83.6" y="164.1" transform="rotate(.04 83.6 164.1)">Parainfluenza virus + metapneumovirus</text>
<text class="l e" x="6.8" y="214.85" transform="rotate(.04 6.8 214.85)">0</text>
<text class="l e" x="6.8" y="208.48" transform="rotate(.04 6.8 208.48)">10</text>
<text class="l e" x="6.8" y="202.11" transform="rotate(.04 6.8 202.11)">20</text>
<text class="l e" x="6.8" y="195.74" transform="rotate(.04 6.8 195.74)">30</text>
<text class="l e" x="6.8" y="189.36" transform="rotate(.04 6.8 189.36)">40</text>
<text class="l e" x="6.8" y="182.99" transform="rotate(.04 6.8 182.99)">50</text>
<text class="l e" x="6.8" y="176.62" transform="rotate(.04 6.8 176.62)">60</text>
<text class="l e" x="6.8" y="170.25" transform="rotate(.04 6.8 170.25)">70</text>
<text class="l m" x="11.8" y="219.8" transform="rotate(.04 11.8 219.8)">1</text>
<text class="l m" x="23.52" y="219.8" transform="rotate(.04 23.52 219.8)">5</text>
<text class="l m" x="35.24" y="219.8" transform="rotate(.04 35.24 219.8)">9</text>
<text class="l m" x="46.96" y="219.8" transform="rotate(.04 46.96 219.8)">13</text>
<text class="l m" x="58.68" y="219.8" transform="rotate(.04 58.68 219.8)">17</text>
<text class="l m" x="70.4" y="219.8" transform="rotate(.04 70.4 219.8)">21</text>
<text class="l m" x="82.12" y="219.8" transform="rotate(.04 82.12 219.8)">25</text>
<text class="l m" x="93.84" y="219.8" transform="rotate(.04 93.84 219.8)">29</text>
<text class="l m" x="105.56" y="219.8" transform="rotate(.04 105.56 219.8)">33</text>
<text class="l m" x="117.28" y="219.8" transform="rotate(.04 117.28 219.8)">37</text>
<text class="l m" x="129" y="219.8" transform="rotate(.04 129 219.8)">41</text>
<text class="l m" x="140.72" y="219.8" transform="rotate(.04 140.72 219.8)">45</text>
<text class="l m" x="152.44" y="219.8" transform="rotate(.04 152.44 219.8)">49</text>
<text class="t" x="267.35" y="164.1" transform="rotate(.04 267.35 164.1)">Parainfluenza virus + metapneumovirus</text>
<text class="l e" x="194.4" y="214.85" transform="rotate(.04 194.4 214.85)">0</text>
<text class="l e" x="194.4" y="209.28" transform="rotate(.04 194.4 209.28)">200</text>
<text class="l e" x="194.4" y="203.7" transform="rotate(.04 194.4 203.7)">400</text>
<text class="l e" x="194.4" y="198.12" transform="rotate(.04 194.4 198.12)">600</text>
<text class="l e" x="194.4" y="192.55" transform="rotate(.04 194.4 192.55)">800</text>
<text class="l e" x="194.4" y="186.97" transform="rotate(.04 194.4 186.97)">1000</text>
<text class="l e" x="194.4" y="181.4" transform="rotate(.04 194.4 181.4)">1200</text>
<text class="l e" x="194.4" y="175.82" transform="rotate(.04 194.4 175.82)">1400</text>
<text class="l e" x="194.4" y="170.25" transform="rotate(.04 194.4 170.25)">1600</text>
<text class="l m" x="199.4" y="219.8" transform="rotate(.04 199.4 219.8)">1</text>
<text class="l m" x="210.84" y="219.8" transform="rotate(.04 210.84 219.8)">5</text>
<text class="l m" x="222.28" y="219.8" transform="rotate(.04 222.28 219.8)">9</text>
<text class="l m" x="233.72" y="219.8" transform="rotate(.04 233.72 219.8)">13</text>
<text class="l m" x="245.16" y="219.8" transform="rotate(.04 245.16 219.8)">17</text>
<text class="l m" x="256.6" y="219.8" transform="rotate(.04 256.6 219.8)">21</text>
<text class="l m" x="268.04" y="219.8" transform="rotate(.04 268.04 219.8)">25</text>
<text class="l m" x="279.48" y="219.8" transform="rotate(.04 279.48 219.8)">29</text>
<text class="l m" x="290.92" y="219.8" transform="rotate(.04 290.92 219.8)">33</text>
<text class="l m" x="302.36" y="219.8" transform="rotate(.04 302.36 219.8)">37</text>
<text class="l m" x="313.8" y="219.8" transform="rotate(.04 313.8 219.8)">41</text>
<text class="l m" x="325.24" y="219.8" transform="rotate(.04 325.24 219.8)">45</text>
<text class="l m" x="336.68" y="219.8" transform="rotate(.04 336.68 219.8)">49</text>
<text class="t" x="81.45" y="242.5" transform="rotate(.04 81.45 242.5)">Mycoplasma pneumoniae</text>
<text class="l e" x="8.8" y="293.35" transform="rotate(.04 8.8 293.35)">0</text>
<text class="l e" x="8.8" y="286.92" transform="rotate(.04 8.8 286.92)">100</text>
<text class="l e" x="8.8" y="280.49" transform="rotate(.04 8.8 280.49)">200</text>
<text class="l e" x="8.8" y="274.06" transform="rotate(.04 8.8 274.06)">300</text>
<text class="l e" x="8.8" y="267.64" transform="rotate(.04 8.8 267.64)">400</text>
<text class="l e" x="8.8" y="261.21" transform="rotate(.04 8.8 261.21)">500</text>
<text class="l e" x="8.8" y="254.78" transform="rotate(.04 8.8 254.78)">600</text>
<text class="l e" x="8.8" y="248.35" transform="rotate(.04 8.8 248.35)">700</text>
<text class="l m" x="13.8" y="298.5" transform="rotate(.04 13.8 298.5)">1</text>
<text class="l m" x="25" y="298.5" transform="rotate(.04 25 298.5)">5</text>
<text class="l m" x="36.2" y="298.5" transform="rotate(.04 36.2 298.5)">9</text>
<text class="l m" x="47.4" y="298.5" transform="rotate(.04 47.4 298.5)">13</text>
<text class="l m" x="58.6" y="298.5" transform="rotate(.04 58.6 298.5)">17</text>
<text class="l m" x="69.8" y="298.5" transform="rotate(.04 69.8 298.5)">21</text>
<text class="l m" x="81" y="298.5" transform="rotate(.04 81 298.5)">25</text>
<text class="l m" x="92.2" y="298.5" transform="rotate(.04 92.2 298.5)">29</text>
<text class="l m" x="103.4" y="298.5" transform="rotate(.04 103.4 298.5)">33</text>
<text class="l m" x="114.6" y="298.5" transform="rotate(.04 114.6 298.5)">37</text>
<text class="l m" x="125.8" y="298.5" transform="rotate(.04 125.8 298.5)">41</text>
<text class="l m" x="137" y="298.5" transform="rotate(.04 137 298.5)">45</text>
<text class="l m" x="148.2" y="298.5" transform="rotate(.04 148.2 298.5)">49</text>
<text class="t" x="269.35" y="242.5" transform="rotate(.04 269.35 242.5)">Mycoplasma pneumoniae</text>
<text class="l e" x="200.5" y="293.35" transform="rotate(.04 200.5 293.35)">0</text>
<text class="l e" x="200.5" y="285.85" transform="rotate(.04 200.5 285.85)">2000</text>
<text class="l e" x="200.5" y="278.35" transform="rotate(.04 200.5 278.35)">4000</text>
<text class="l e" x="200.5" y="270.85" transform="rotate(.04 200.5 270.85)">6000</text>
<text class="l e" x="200.5" y="263.35" transform="rotate(.04 200.5 263.35)">8000</text>
<text class="l e" x="200.5" y="255.85" transform="rotate(.04 200.5 255.85)">10000</text>
<text class="l e" x="200.5" y="248.35" transform="rotate(.04 200.5 248.35)">12000</text>
<text class="l m" x="205.4" y="298.5" transform="rotate(.04 205.4 298.5)">1</text>
<text class="l m" x="216.34" y="298.5" transform="rotate(.04 216.34 298.5)">5</text>
<text class="l m" x="227.28" y="298.5" transform="rotate(.04 227.28 298.5)">9</text>
<text class="l m" x="238.22" y="298.5" transform="rotate(.04 238.22 298.5)">13</text>
<text class="l m" x="249.16" y="298.5" transform="rotate(.04 249.16 298.5)">17</text>
<text class="l m" x="260.1" y="298.5" transform="rotate(.04 260.1 298.5)">21</text>
<text class="l m" x="271.04" y="298.5" transform="rotate(.04 271.04 298.5)">25</text>
<text class="l m" x="281.98" y="298.5" transform="rotate(.04 281.98 298.5)">29</text>
<text class="l m" x="292.92" y="298.5" transform="rotate(.04 292.92 298.5)">33</text>
<text class="l m" x="303.86" y="298.5" transform="rotate(.04 303.86 298.5)">37</text>
<text class="l m" x="314.8" y="298.5" transform="rotate(.04 314.8 298.5)">41</text>
<text class="l m" x="325.74" y="298.5" transform="rotate(.04 325.74 298.5)">45</text>
<text class="l m" x="336.68" y="298.5" transform="rotate(.04 336.68 298.5)">49</text>
<text class="t" x="83.1" y="321" transform="rotate(.04 83.1 321)">Bordetella pertussis</text>
<text class="l e" x="8.8" y="371.65" transform="rotate(.04 8.8 371.65)">0</text>
<text class="l e" x="8.8" y="362.65" transform="rotate(.04 8.8 362.65)">50</text>
<text class="l e" x="8.8" y="353.65" transform="rotate(.04 8.8 353.65)">100</text>
<text class="l e" x="8.8" y="344.65" transform="rotate(.04 8.8 344.65)">150</text>
<text class="l e" x="8.8" y="335.65" transform="rotate(.04 8.8 335.65)">200</text>
<text class="l e" x="8.8" y="326.65" transform="rotate(.04 8.8 326.65)">250</text>
<text class="l m" x="13.8" y="376.9" transform="rotate(.04 13.8 376.9)">1</text>
<text class="l m" x="25.28" y="376.9" transform="rotate(.04 25.28 376.9)">5</text>
<text class="l m" x="36.76" y="376.9" transform="rotate(.04 36.76 376.9)">9</text>
<text class="l m" x="48.24" y="376.9" transform="rotate(.04 48.24 376.9)">13</text>
<text class="l m" x="59.72" y="376.9" transform="rotate(.04 59.72 376.9)">17</text>
<text class="l m" x="71.2" y="376.9" transform="rotate(.04 71.2 376.9)">21</text>
<text class="l m" x="82.68" y="376.9" transform="rotate(.04 82.68 376.9)">25</text>
<text class="l m" x="94.16" y="376.9" transform="rotate(.04 94.16 376.9)">29</text>
<text class="l m" x="105.64" y="376.9" transform="rotate(.04 105.64 376.9)">33</text>
<text class="l m" x="117.12" y="376.9" transform="rotate(.04 117.12 376.9)">37</text>
<text class="l m" x="128.6" y="376.9" transform="rotate(.04 128.6 376.9)">41</text>
<text class="l m" x="140.08" y="376.9" transform="rotate(.04 140.08 376.9)">45</text>
<text class="l m" x="151.56" y="376.9" transform="rotate(.04 151.56 376.9)">49</text>
<text class="t" x="267.85" y="321" transform="rotate(.04 267.85 321)">Bordetella pertussis</text>
<text class="l e" x="195.4" y="371.65" transform="rotate(.04 195.4 371.65)">0</text>
<text class="l e" x="195.4" y="366.02" transform="rotate(.04 195.4 366.02)">500</text>
<text class="l e" x="195.4" y="360.4" transform="rotate(.04 195.4 360.4)">1000</text>
<text class="l e" x="195.4" y="354.77" transform="rotate(.04 195.4 354.77)">1500</text>
<text class="l e" x="195.4" y="349.15" transform="rotate(.04 195.4 349.15)">2000</text>
<text class="l e" x="195.4" y="343.52" transform="rotate(.04 195.4 343.52)">2500</text>
<text class="l e" x="195.4" y="337.9" transform="rotate(.04 195.4 337.9)">3000</text>
<text class="l e" x="195.4" y="332.27" transform="rotate(.04 195.4 332.27)">3500</text>
<text class="l e" x="195.4" y="326.65" transform="rotate(.04 195.4 326.65)">4000</text>
<text class="l m" x="200.4" y="376.9" transform="rotate(.04 200.4 376.9)">1</text>
<text class="l m" x="211.76" y="376.9" transform="rotate(.04 211.76 376.9)">5</text>
<text class="l m" x="223.12" y="376.9" transform="rotate(.04 223.12 376.9)">9</text>
<text class="l m" x="234.48" y="376.9" transform="rotate(.04 234.48 376.9)">13</text>
<text class="l m" x="245.84" y="376.9" transform="rotate(.04 245.84 376.9)">17</text>
<text class="l m" x="257.2" y="376.9" transform="rotate(.04 257.2 376.9)">21</text>
<text class="l m" x="268.56" y="376.9" transform="rotate(.04 268.56 376.9)">25</text>
<text class="l m" x="279.92" y="376.9" transform="rotate(.04 279.92 376.9)">29</text>
<text class="l m" x="291.28" y="376.9" transform="rotate(.04 291.28 376.9)">33</text>
<text class="l m" x="302.64" y="376.9" transform="rotate(.04 302.64 376.9)">37</text>
<text class="l m" x="314" y="376.9" transform="rotate(.04 314 376.9)">41</text>
<text class="l m" x="325.36" y="376.9" transform="rotate(.04 325.36 376.9)">45</text>
<text class="l m" x="336.72" y="376.9" transform="rotate(.04 336.72 376.9)">49</text>
<text class="t" x="82.7" y="394.1" transform="rotate(.04 82.7 394.1)">Invasive pneumococci</text>
<text class="l e" x="6.8" y="441.15" transform="rotate(.04 6.8 441.15)">0</text>
<text class="l e" x="6.8" y="432.97" transform="rotate(.04 6.8 432.97)">10</text>
<text class="l e" x="6.8" y="424.79" transform="rotate(.04 6.8 424.79)">20</text>
<text class="l e" x="6.8" y="416.61" transform="rotate(.04 6.8 416.61)">30</text>
<text class="l e" x="6.8" y="408.43" transform="rotate(.04 6.8 408.43)">40</text>
<text class="l e" x="6.8" y="400.25" transform="rotate(.04 6.8 400.25)">50</text>
<text class="l m" x="11.8" y="446.1" transform="rotate(.04 11.8 446.1)">1</text>
<text class="l m" x="23.4" y="446.1" transform="rotate(.04 23.4 446.1)">5</text>
<text class="l m" x="35" y="446.1" transform="rotate(.04 35 446.1)">9</text>
<text class="l m" x="46.6" y="446.1" transform="rotate(.04 46.6 446.1)">13</text>
<text class="l m" x="58.2" y="446.1" transform="rotate(.04 58.2 446.1)">17</text>
<text class="l m" x="69.8" y="446.1" transform="rotate(.04 69.8 446.1)">21</text>
<text class="l m" x="81.4" y="446.1" transform="rotate(.04 81.4 446.1)">25</text>
<text class="l m" x="93" y="446.1" transform="rotate(.04 93 446.1)">29</text>
<text class="l m" x="104.6" y="446.1" transform="rotate(.04 104.6 446.1)">33</text>
<text class="l m" x="116.2" y="446.1" transform="rotate(.04 116.2 446.1)">37</text>
<text class="l m" x="127.8" y="446.1" transform="rotate(.04 127.8 446.1)">41</text>
<text class="l m" x="139.4" y="446.1" transform="rotate(.04 139.4 446.1)">45</text>
<text class="l m" x="151" y="446.1" transform="rotate(.04 151 446.1)">49</text>
<text class="t" x="268.05" y="394.1" transform="rotate(.04 268.05 394.1)">Invasive pneumococci</text>
<text class="l e" x="196.2" y="441.15" transform="rotate(.04 196.2 441.15)">0</text>
<text class="l e" x="196.2" y="432.97" transform="rotate(.04 196.2 432.97)">200</text>
<text class="l e" x="196.2" y="424.79" transform="rotate(.04 196.2 424.79)">400</text>
<text class="l e" x="196.2" y="416.61" transform="rotate(.04 196.2 416.61)">600</text>
<text class="l e" x="196.2" y="408.43" transform="rotate(.04 196.2 408.43)">800</text>
<text class="l e" x="196.2" y="400.25" transform="rotate(.04 196.2 400.25)">1000</text>
<text class="l m" x="201.1" y="446.1" transform="rotate(.04 201.1 446.1)">1</text>
<text class="l m" x="212.4" y="446.1" transform="rotate(.04 212.4 446.1)">5</text>
<text class="l m" x="223.7" y="446.1" transform="rotate(.04 223.7 446.1)">9</text>
<text class="l m" x="235" y="446.1" transform="rotate(.04 235 446.1)">13</text>
<text class="l m" x="246.3" y="446.1" transform="rotate(.04 246.3 446.1)">17</text>
<text class="l m" x="257.6" y="446.1" transform="rotate(.04 257.6 446.1)">21</text>
<text class="l m" x="268.9" y="446.1" transform="rotate(.04 268.9 446.1)">25</text>
<text class="l m" x="280.2" y="446.1" transform="rotate(.04 280.2 446.1)">29</text>
<text class="l m" x="291.5" y="446.1" transform="rotate(.04 291.5 446.1)">33</text>
<text class="l m" x="302.8" y="446.1" transform="rotate(.04 302.8 446.1)">37</text>
<text class="l m" x="314.1" y="446.1" transform="rotate(.04 314.1 446.1)">41</text>
<text class="l m" x="325.4" y="446.1" transform="rotate(.04 325.4 446.1)">45</text>
<text class="l m" x="336.7" y="446.1" transform="rotate(.04 336.7 446.1)">49</text>
<text class="t" x="83.1" y="466.7" transform="rotate(.04 83.1 466.7)">Invasive Haemophilus influenzae</text>
<text class="l e" x="6.8" y="513.05" transform="rotate(.04 6.8 513.05)">0</text>
<text class="l e" x="6.8" y="505.01" transform="rotate(.04 6.8 505.01)">2</text>
<text class="l e" x="6.8" y="496.97" transform="rotate(.04 6.8 496.97)">4</text>
<text class="l e" x="6.8" y="488.93" transform="rotate(.04 6.8 488.93)">6</text>
<text class="l e" x="6.8" y="480.89" transform="rotate(.04 6.8 480.89)">8</text>
<text class="l e" x="6.8" y="472.85" transform="rotate(.04 6.8 472.85)">10</text>
<text class="l m" x="11.8" y="518.1" transform="rotate(.04 11.8 518.1)">1</text>
<text class="l m" x="23.44" y="518.1" transform="rotate(.04 23.44 518.1)">5</text>
<text class="l m" x="35.08" y="518.1" transform="rotate(.04 35.08 518.1)">9</text>
<text class="l m" x="46.72" y="518.1" transform="rotate(.04 46.72 518.1)">13</text>
<text class="l m" x="58.36" y="518.1" transform="rotate(.04 58.36 518.1)">17</text>
<text class="l m" x="70" y="518.1" transform="rotate(.04 70 518.1)">21</text>
<text class="l m" x="81.64" y="518.1" transform="rotate(.04 81.64 518.1)">25</text>
<text class="l m" x="93.28" y="518.1" transform="rotate(.04 93.28 518.1)">29</text>
<text class="l m" x="104.92" y="518.1" transform="rotate(.04 104.92 518.1)">33</text>
<text class="l m" x="116.56" y="518.1" transform="rotate(.04 116.56 518.1)">37</text>
<text class="l m" x="128.2" y="518.1" transform="rotate(.04 128.2 518.1)">41</text>
<text class="l m" x="139.84" y="518.1" transform="rotate(.04 139.84 518.1)">45</text>
<text class="l m" x="151.48" y="518.1" transform="rotate(.04 151.48 518.1)">49</text>
<text class="t" x="268.15" y="466.7" transform="rotate(.04 268.15 466.7)">Invasive Haemophilus influenzae</text>
<text class="l e" x="194.9" y="512.95" transform="rotate(.04 194.9 512.95)">0</text>
<text class="l e" x="194.9" y="507.29" transform="rotate(.04 194.9 507.29)">20</text>
<text class="l e" x="194.9" y="501.64" transform="rotate(.04 194.9 501.64)">40</text>
<text class="l e" x="194.9" y="495.98" transform="rotate(.04 194.9 495.98)">60</text>
<text class="l e" x="194.9" y="490.32" transform="rotate(.04 194.9 490.32)">80</text>
<text class="l e" x="194.9" y="484.66" transform="rotate(.04 194.9 484.66)">100</text>
<text class="l e" x="194.9" y="479.01" transform="rotate(.04 194.9 479.01)">120</text>
<text class="l e" x="194.9" y="473.35" transform="rotate(.04 194.9 473.35)">140</text>
<text class="l m" x="199.9" y="518.2" transform="rotate(.04 199.9 518.2)">1</text>
<text class="l m" x="211.26" y="518.2" transform="rotate(.04 211.26 518.2)">5</text>
<text class="l m" x="222.62" y="518.2" transform="rotate(.04 222.62 518.2)">9</text>
<text class="l m" x="233.98" y="518.2" transform="rotate(.04 233.98 518.2)">13</text>
<text class="l m" x="245.34" y="518.2" transform="rotate(.04 245.34 518.2)">17</text>
<text class="l m" x="256.7" y="518.2" transform="rotate(.04 256.7 518.2)">21</text>
<text class="l m" x="268.06" y="518.2" transform="rotate(.04 268.06 518.2)">25</text>
<text class="l m" x="279.42" y="518.2" transform="rotate(.04 279.42 518.2)">29</text>
<text class="l m" x="290.78" y="518.2" transform="rotate(.04 290.78 518.2)">33</text>
<text class="l m" x="302.14" y="518.2" transform="rotate(.04 302.14 518.2)">37</text>
<text class="l m" x="313.5" y="518.2" transform="rotate(.04 313.5 518.2)">41</text>
<text class="l m" x="324.86" y="518.2" transform="rotate(.04 324.86 518.2)">45</text>
<text class="l m" x="336.22" y="518.2" transform="rotate(.04 336.22 518.2)">49</text>
<text class="t" x="82.7" y="538.2" transform="rotate(.04 82.7 538.2)">Invasive Neisseria meningitidis</text>
<text class="l e" x="5.1" y="583.55" transform="rotate(.04 5.1 583.55)">0</text>
<text class="l e" x="5.1" y="575.69" transform="rotate(.04 5.1 575.69)">1</text>
<text class="l e" x="5.1" y="567.83" transform="rotate(.04 5.1 567.83)">2</text>
<text class="l e" x="5.1" y="559.97" transform="rotate(.04 5.1 559.97)">3</text>
<text class="l e" x="5.1" y="552.11" transform="rotate(.04 5.1 552.11)">4</text>
<text class="l e" x="5.1" y="544.25" transform="rotate(.04 5.1 544.25)">5</text>
<text class="l m" x="10" y="588.6" transform="rotate(.04 10 588.6)">1</text>
<text class="l m" x="21.68" y="588.6" transform="rotate(.04 21.68 588.6)">5</text>
<text class="l m" x="33.36" y="588.6" transform="rotate(.04 33.36 588.6)">9</text>
<text class="l m" x="45.04" y="588.6" transform="rotate(.04 45.04 588.6)">13</text>
<text class="l m" x="56.72" y="588.6" transform="rotate(.04 56.72 588.6)">17</text>
<text class="l m" x="68.4" y="588.6" transform="rotate(.04 68.4 588.6)">21</text>
<text class="l m" x="80.08" y="588.6" transform="rotate(.04 80.08 588.6)">25</text>
<text class="l m" x="91.76" y="588.6" transform="rotate(.04 91.76 588.6)">29</text>
<text class="l m" x="103.44" y="588.6" transform="rotate(.04 103.44 588.6)">33</text>
<text class="l m" x="115.12" y="588.6" transform="rotate(.04 115.12 588.6)">37</text>
<text class="l m" x="126.8" y="588.6" transform="rotate(.04 126.8 588.6)">41</text>
<text class="l m" x="138.48" y="588.6" transform="rotate(.04 138.48 588.6)">45</text>
<text class="l m" x="150.16" y="588.6" transform="rotate(.04 150.16 588.6)">49</text>
<text class="t" x="267.85" y="538.2" transform="rotate(.04 267.85 538.2)">Invasive Neisseria meningitidis</text>
<text class="l e" x="192.2" y="583.55" transform="rotate(.04 192.2 583.55)">0</text>
<text class="l e" x="192.2" y="577.03" transform="rotate(.04 192.2 577.03)">10</text>
<text class="l e" x="192.2" y="570.52" transform="rotate(.04 192.2 570.52)">20</text>
<text class="l e" x="192.2" y="564" transform="rotate(.04 192.2 564)">30</text>
<text class="l e" x="192.2" y="557.48" transform="rotate(.04 192.2 557.48)">40</text>
<text class="l e" x="192.2" y="550.97" transform="rotate(.04 192.2 550.97)">50</text>
<text class="l e" x="192.2" y="544.45" transform="rotate(.04 192.2 544.45)">60</text>
<text class="l m" x="197.1" y="588.8" transform="rotate(.04 197.1 588.8)">1</text>
<text class="l m" x="208.7" y="588.8" transform="rotate(.04 208.7 588.8)">5</text>
<text class="l m" x="220.3" y="588.8" transform="rotate(.04 220.3 588.8)">9</text>
<text class="l m" x="231.9" y="588.8" transform="rotate(.04 231.9 588.8)">13</text>
<text class="l m" x="243.5" y="588.8" transform="rotate(.04 243.5 588.8)">17</text>
<text class="l m" x="255.1" y="588.8" transform="rotate(.04 255.1 588.8)">21</text>
<text class="l m" x="266.7" y="588.8" transform="rotate(.04 266.7 588.8)">25</text>
<text class="l m" x="278.3" y="588.8" transform="rotate(.04 278.3 588.8)">29</text>
<text class="l m" x="289.9" y="588.8" transform="rotate(.04 289.9 588.8)">33</text>
<text class="l m" x="301.5" y="588.8" transform="rotate(.04 301.5 588.8)">37</text>
<text class="l m" x="313.1" y="588.8" transform="rotate(.04 313.1 588.8)">41</text>
<text class="l m" x="324.7" y="588.8" transform="rotate(.04 324.7 588.8)">45</text>
<text class="l m" x="336.3" y="588.8" transform="rotate(.04 336.3 588.8)">49</text>
<text class="t" x="82.7" y="609.1" transform="rotate(.04 82.7 609.1)">Invasive beta-haemolytic streptococci</text>
<text class="l e" x="6.8" y="654.05" transform="rotate(.04 6.8 654.05)">0</text>
<text class="l e" x="6.8" y="648.45" transform="rotate(.04 6.8 648.45)">5</text>
<text class="l e" x="6.8" y="642.85" transform="rotate(.04 6.8 642.85)">10</text>
<text class="l e" x="6.8" y="637.25" transform="rotate(.04 6.8 637.25)">15</text>
<text class="l e" x="6.8" y="631.65" transform="rotate(.04 6.8 631.65)">20</text>
<text class="l e" x="6.8" y="626.05" transform="rotate(.04 6.8 626.05)">25</text>
<text class="l e" x="6.8" y="620.45" transform="rotate(.04 6.8 620.45)">30</text>
<text class="l e" x="6.8" y="614.85" transform="rotate(.04 6.8 614.85)">35</text>
<text class="l m" x="11.8" y="659.5" transform="rotate(.04 11.8 659.5)">1</text>
<text class="l m" x="23.4" y="659.5" transform="rotate(.04 23.4 659.5)">5</text>
<text class="l m" x="35" y="659.5" transform="rotate(.04 35 659.5)">9</text>
<text class="l m" x="46.6" y="659.5" transform="rotate(.04 46.6 659.5)">13</text>
<text class="l m" x="58.2" y="659.5" transform="rotate(.04 58.2 659.5)">17</text>
<text class="l m" x="69.8" y="659.5" transform="rotate(.04 69.8 659.5)">21</text>
<text class="l m" x="81.4" y="659.5" transform="rotate(.04 81.4 659.5)">25</text>
<text class="l m" x="93" y="659.5" transform="rotate(.04 93 659.5)">29</text>
<text class="l m" x="104.6" y="659.5" transform="rotate(.04 104.6 659.5)">33</text>
<text class="l m" x="116.2" y="659.5" transform="rotate(.04 116.2 659.5)">37</text>
<text class="l m" x="127.8" y="659.5" transform="rotate(.04 127.8 659.5)">41</text>
<text class="l m" x="139.4" y="659.5" transform="rotate(.04 139.4 659.5)">45</text>
<text class="l m" x="151" y="659.5" transform="rotate(.04 151 659.5)">49</text>
<text class="t" x="267.75" y="609.1" transform="rotate(.04 267.75 609.1)">Invasive beta-haemolytic streptococci</text>
<text class="l e" x="195.4" y="654.05" transform="rotate(.04 195.4 654.05)">0</text>
<text class="l e" x="195.4" y="646.19" transform="rotate(.04 195.4 646.19)">200</text>
<text class="l e" x="195.4" y="638.33" transform="rotate(.04 195.4 638.33)">400</text>
<text class="l e" x="195.4" y="630.47" transform="rotate(.04 195.4 630.47)">600</text>
<text class="l e" x="195.4" y="622.61" transform="rotate(.04 195.4 622.61)">800</text>
<text class="l e" x="195.4" y="614.75" transform="rotate(.04 195.4 614.75)">1000</text>
<text class="l m" x="200.4" y="659.5" transform="rotate(.04 200.4 659.5)">1</text>
<text class="l m" x="211.76" y="659.5" transform="rotate(.04 211.76 659.5)">5</text>
<text class="l m" x="223.12" y="659.5" transform="rotate(.04 223.12 659.5)">9</text>
<text class="l m" x="234.48" y="659.5" transform="rotate(.04 234.48 659.5)">13</text>
<text class="l m" x="245.84" y="659.5" transform="rotate(.04 245.84 659.5)">17</text>
<text class="l m" x="257.2" y="659.5" transform="rotate(.04 257.2 659.5)">21</text>
<text class="l m" x="268.56" y="659.5" transform="rotate(.04 268.56 659.5)">25</text>
<text class="l m" x="279.92" y="659.5" transform="rotate(.04 279.92 659.5)">29</text>
<text class="l m" x="291.28" y="659.5" transform="rotate(.04 291.28 659.5)">33</text>
<text class="l m" x="302.64" y="659.5" transform="rotate(.04 302.64 659.5)">37</text>
<text class="l m" x="314" y="659.5" transform="rotate(.04 314 659.5)">41</text>
<text class="l m" x="325.36" y="659.5" transform="rotate(.04 325.36 659.5)">45</text>
<text class="l m" x="336.72" y="659.5" transform="rotate(.04 336.72 659.5)">49</text>
<text class="t" x="83.1" y="680" transform="rotate(.04 83.1 680)">Campylobacter spp.</text>
<text class="l e" x="8.8" y="723.55" transform="rotate(.04 8.8 723.55)">0</text>
<text class="l e" x="8.8" y="717.18" transform="rotate(.04 8.8 717.18)">50</text>
<text class="l e" x="8.8" y="710.82" transform="rotate(.04 8.8 710.82)">100</text>
<text class="l e" x="8.8" y="704.45" transform="rotate(.04 8.8 704.45)">150</text>
<text class="l e" x="8.8" y="698.08" transform="rotate(.04 8.8 698.08)">200</text>
<text class="l e" x="8.8" y="691.72" transform="rotate(.04 8.8 691.72)">250</text>
<text class="l e" x="8.8" y="685.35" transform="rotate(.04 8.8 685.35)">300</text>
<text class="l m" x="13.8" y="728.9" transform="rotate(.04 13.8 728.9)">1</text>
<text class="l m" x="25.28" y="728.9" transform="rotate(.04 25.28 728.9)">5</text>
<text class="l m" x="36.76" y="728.9" transform="rotate(.04 36.76 728.9)">9</text>
<text class="l m" x="48.24" y="728.9" transform="rotate(.04 48.24 728.9)">13</text>
<text class="l m" x="59.72" y="728.9" transform="rotate(.04 59.72 728.9)">17</text>
<text class="l m" x="71.2" y="728.9" transform="rotate(.04 71.2 728.9)">21</text>
<text class="l m" x="82.68" y="728.9" transform="rotate(.04 82.68 728.9)">25</text>
<text class="l m" x="94.16" y="728.9" transform="rotate(.04 94.16 728.9)">29</text>
<text class="l m" x="105.64" y="728.9" transform="rotate(.04 105.64 728.9)">33</text>
<text class="l m" x="117.12" y="728.9" transform="rotate(.04 117.12 728.9)">37</text>
<text class="l m" x="128.6" y="728.9" transform="rotate(.04 128.6 728.9)">41</text>
<text class="l m" x="140.08" y="728.9" transform="rotate(.04 140.08 728.9)">45</text>
<text class="l m" x="151.56" y="728.9" transform="rotate(.04 151.56 728.9)">49</text>
<text class="t" x="267.55" y="680" transform="rotate(.04 267.55 680)">Campylobacter spp.</text>
<text class="l e" x="195.4" y="723.55" transform="rotate(.04 195.4 723.55)">0</text>
<text class="l e" x="195.4" y="717.18" transform="rotate(.04 195.4 717.18)">1000</text>
<text class="l e" x="195.4" y="710.82" transform="rotate(.04 195.4 710.82)">2000</text>
<text class="l e" x="195.4" y="704.45" transform="rotate(.04 195.4 704.45)">3000</text>
<text class="l e" x="195.4" y="698.08" transform="rotate(.04 195.4 698.08)">4000</text>
<text class="l e" x="195.4" y="691.72" transform="rotate(.04 195.4 691.72)">5000</text>
<text class="l e" x="195.4" y="685.35" transform="rotate(.04 195.4 685.35)">6000</text>
<text class="l m" x="200.4" y="728.9" transform="rotate(.04 200.4 728.9)">1</text>
<text class="l m" x="211.76" y="728.9" transform="rotate(.04 211.76 728.9)">5</text>
<text class="l m" x="223.12" y="728.9" transform="rotate(.04 223.12 728.9)">9</text>
<text class="l m" x="234.48" y="728.9" transform="rotate(.04 234.48 728.9)">13</text>
<text class="l m" x="245.84" y="728.9" transform="rotate(.04 245.84 728.9)">17</text>
<text class="l m" x="257.2" y="728.9" transform="rotate(.04 257.2 728.9)">21</text>
<text class="l m" x="268.56" y="728.9" transform="rotate(.04 268.56 728.9)">25</text>
<text class="l m" x="279.92" y="728.9" transform="rotate(.04 279.92 728.9)">29</text>
<text class="l m" x="291.28" y="728.9" transform="rotate(.04 291.28 728.9)">33</text>
<text class="l m" x="302.64" y="728.9" transform="rotate(.04 302.64 728.9)">37</text>
<text class="l m" x="314" y="728.9" transform="rotate(.04 314 728.9)">41</text>
<text class="l m" x="325.36" y="728.9" transform="rotate(.04 325.36 728.9)">45</text>
<text class="l m" x="336.72" y="728.9" transform="rotate(.04 336.72 728.9)">49</text>
<text class="t" x="83.45" y="749.5" transform="rotate(.04 83.45 749.5)">Salmonella spp.</text>
<text class="l e" x="6.8" y="793.25" transform="rotate(.04 6.8 793.25)">0</text>
<text class="l e" x="6.8" y="786.87" transform="rotate(.04 6.8 786.87)">10</text>
<text class="l e" x="6.8" y="780.48" transform="rotate(.04 6.8 780.48)">20</text>
<text class="l e" x="6.8" y="774.1" transform="rotate(.04 6.8 774.1)">30</text>
<text class="l e" x="6.8" y="767.72" transform="rotate(.04 6.8 767.72)">40</text>
<text class="l e" x="6.8" y="761.33" transform="rotate(.04 6.8 761.33)">50</text>
<text class="l e" x="6.8" y="754.95" transform="rotate(.04 6.8 754.95)">60</text>
<text class="l m" x="11.8" y="798.6" transform="rotate(.04 11.8 798.6)">1</text>
<text class="l m" x="23.52" y="798.6" transform="rotate(.04 23.52 798.6)">5</text>
<text class="l m" x="35.24" y="798.6" transform="rotate(.04 35.24 798.6)">9</text>
<text class="l m" x="46.96" y="798.6" transform="rotate(.04 46.96 798.6)">13</text>
<text class="l m" x="58.68" y="798.6" transform="rotate(.04 58.68 798.6)">17</text>
<text class="l m" x="70.4" y="798.6" transform="rotate(.04 70.4 798.6)">21</text>
<text class="l m" x="82.12" y="798.6" transform="rotate(.04 82.12 798.6)">25</text>
<text class="l m" x="93.84" y="798.6" transform="rotate(.04 93.84 798.6)">29</text>
<text class="l m" x="105.56" y="798.6" transform="rotate(.04 105.56 798.6)">33</text>
<text class="l m" x="117.28" y="798.6" transform="rotate(.04 117.28 798.6)">37</text>
<text class="l m" x="129" y="798.6" transform="rotate(.04 129 798.6)">41</text>
<text class="l m" x="140.72" y="798.6" transform="rotate(.04 140.72 798.6)">45</text>
<text class="l m" x="152.44" y="798.6" transform="rotate(.04 152.44 798.6)">49</text>
<text class="t" x="267.4" y="749.5" transform="rotate(.04 267.4 749.5)">Salmonella spp.</text>
<text class="l e" x="195.4" y="793.25" transform="rotate(.04 195.4 793.25)">0</text>
<text class="l e" x="195.4" y="787.78" transform="rotate(.04 195.4 787.78)">200</text>
<text class="l e" x="195.4" y="782.31" transform="rotate(.04 195.4 782.31)">400</text>
<text class="l e" x="195.4" y="776.84" transform="rotate(.04 195.4 776.84)">600</text>
<text class="l e" x="195.4" y="771.36" transform="rotate(.04 195.4 771.36)">800</text>
<text class="l e" x="195.4" y="765.89" transform="rotate(.04 195.4 765.89)">1000</text>
<text class="l e" x="195.4" y="760.42" transform="rotate(.04 195.4 760.42)">1200</text>
<text class="l e" x="195.4" y="754.95" transform="rotate(.04 195.4 754.95)">1400</text>
<text class="l m" x="200.4" y="798.6" transform="rotate(.04 200.4 798.6)">1</text>
<text class="l m" x="211.76" y="798.6" transform="rotate(.04 211.76 798.6)">5</text>
<text class="l m" x="223.12" y="798.6" transform="rotate(.04 223.12 798.6)">9</text>
<text class="l m" x="234.48" y="798.6" transform="rotate(.04 234.48 798.6)">13</text>
<text class="l m" x="245.84" y="798.6" transform="rotate(.04 245.84 798.6)">17</text>
<text class="l m" x="257.2" y="798.6" transform="rotate(.04 257.2 798.6)">21</text>
<text class="l m" x="268.56" y="798.6" transform="rotate(.04 268.56 798.6)">25</text>
<text class="l m" x="279.92" y="798.6" transform="rotate(.04 279.92 798.6)">29</text>
<text class="l m" x="291.28" y="798.6" transform="rotate(.04 291.28 798.6)">33</text>
<text class="l m" x="302.64" y="798.6" transform="rotate(.04 302.64 798.6)">37</text>
<text class="l m" x="314" y="798.6" transform="rotate(.04 314 798.6)">41</text>
<text class="l m" x="325.36" y="798.6" transform="rotate(.04 325.36 798.6)">45</text>
<text class="l m" x="336.72" y="798.6" transform="rotate(.04 336.72 798.6)">49</text>
<text class="t" x="82.9" y="818.1" transform="rotate(.04 82.9 818.1)">Clostridioides difficile</text>
<text class="l e" x="8.8" y="863.55" transform="rotate(.04 8.8 863.55)">0</text>
<text class="l e" x="8.8" y="857.94" transform="rotate(.04 8.8 857.94)">20</text>
<text class="l e" x="8.8" y="852.32" transform="rotate(.04 8.8 852.32)">40</text>
<text class="l e" x="8.8" y="846.71" transform="rotate(.04 8.8 846.71)">60</text>
<text class="l e" x="8.8" y="841.09" transform="rotate(.04 8.8 841.09)">80</text>
<text class="l e" x="8.8" y="835.48" transform="rotate(.04 8.8 835.48)">100</text>
<text class="l e" x="8.8" y="829.86" transform="rotate(.04 8.8 829.86)">120</text>
<text class="l e" x="8.8" y="824.25" transform="rotate(.04 8.8 824.25)">140</text>
<text class="l m" x="13.8" y="868.7" transform="rotate(.04 13.8 868.7)">1</text>
<text class="l m" x="25.2" y="868.7" transform="rotate(.04 25.2 868.7)">5</text>
<text class="l m" x="36.6" y="868.7" transform="rotate(.04 36.6 868.7)">9</text>
<text class="l m" x="48" y="868.7" transform="rotate(.04 48 868.7)">13</text>
<text class="l m" x="59.4" y="868.7" transform="rotate(.04 59.4 868.7)">17</text>
<text class="l m" x="70.8" y="868.7" transform="rotate(.04 70.8 868.7)">21</text>
<text class="l m" x="82.2" y="868.7" transform="rotate(.04 82.2 868.7)">25</text>
<text class="l m" x="93.6" y="868.7" transform="rotate(.04 93.6 868.7)">29</text>
<text class="l m" x="105" y="868.7" transform="rotate(.04 105 868.7)">33</text>
<text class="l m" x="116.4" y="868.7" transform="rotate(.04 116.4 868.7)">37</text>
<text class="l m" x="127.8" y="868.7" transform="rotate(.04 127.8 868.7)">41</text>
<text class="l m" x="139.2" y="868.7" transform="rotate(.04 139.2 868.7)">45</text>
<text class="l m" x="150.6" y="868.7" transform="rotate(.04 150.6 868.7)">49</text>
<text class="t" x="267.7" y="818.1" transform="rotate(.04 267.7 818.1)">Clostridioides difficile</text>
<text class="l e" x="195.4" y="863.55" transform="rotate(.04 195.4 863.55)">0</text>
<text class="l e" x="195.4" y="857" transform="rotate(.04 195.4 857)">1000</text>
<text class="l e" x="195.4" y="850.45" transform="rotate(.04 195.4 850.45)">2000</text>
<text class="l e" x="195.4" y="843.9" transform="rotate(.04 195.4 843.9)">3000</text>
<text class="l e" x="195.4" y="837.35" transform="rotate(.04 195.4 837.35)">4000</text>
<text class="l e" x="195.4" y="830.8" transform="rotate(.04 195.4 830.8)">5000</text>
<text class="l e" x="195.4" y="824.25" transform="rotate(.04 195.4 824.25)">6000</text>
<text class="l m" x="200.4" y="868.7" transform="rotate(.04 200.4 868.7)">1</text>
<text class="l m" x="211.76" y="868.7" transform="rotate(.04 211.76 868.7)">5</text>
<text class="l m" x="223.12" y="868.7" transform="rotate(.04 223.12 868.7)">9</text>
<text class="l m" x="234.48" y="868.7" transform="rotate(.04 234.48 868.7)">13</text>
<text class="l m" x="245.84" y="868.7" transform="rotate(.04 245.84 868.7)">17</text>
<text class="l m" x="257.2" y="868.7" transform="rotate(.04 257.2 868.7)">21</text>
<text class="l m" x="268.56" y="868.7" transform="rotate(.04 268.56 868.7)">25</text>
<text class="l m" x="279.92" y="868.7" transform="rotate(.04 279.92 868.7)">29</text>
<text class="l m" x="291.28" y="868.7" transform="rotate(.04 291.28 868.7)">33</text>
<text class="l m" x="302.64" y="868.7" transform="rotate(.04 302.64 868.7)">37</text>
<text class="l m" x="314" y="868.7" transform="rotate(.04 314 868.7)">41</text>
<text class="l m" x="325.36" y="868.7" transform="rotate(.04 325.36 868.7)">45</text>
<text class="l m" x="336.72" y="868.7" transform="rotate(.04 336.72 868.7)">49</text>
<text class="t" x="83.6" y="888.4" transform="rotate(.04 83.6 888.4)">Neisseria gonorrhoeae</text>
<text class="l e" x="6.8" y="933.85" transform="rotate(.04 6.8 933.85)">0</text>
<text class="l e" x="6.8" y="925.97" transform="rotate(.04 6.8 925.97)">10</text>
<text class="l e" x="6.8" y="918.09" transform="rotate(.04 6.8 918.09)">20</text>
<text class="l e" x="6.8" y="910.21" transform="rotate(.04 6.8 910.21)">30</text>
<text class="l e" x="6.8" y="902.33" transform="rotate(.04 6.8 902.33)">40</text>
<text class="l e" x="6.8" y="894.45" transform="rotate(.04 6.8 894.45)">50</text>
<text class="l m" x="11.8" y="939.1" transform="rotate(.04 11.8 939.1)">1</text>
<text class="l m" x="23.56" y="939.1" transform="rotate(.04 23.56 939.1)">5</text>
<text class="l m" x="35.32" y="939.1" transform="rotate(.04 35.32 939.1)">9</text>
<text class="l m" x="47.08" y="939.1" transform="rotate(.04 47.08 939.1)">13</text>
<text class="l m" x="58.84" y="939.1" transform="rotate(.04 58.84 939.1)">17</text>
<text class="l m" x="70.6" y="939.1" transform="rotate(.04 70.6 939.1)">21</text>
<text class="l m" x="82.36" y="939.1" transform="rotate(.04 82.36 939.1)">25</text>
<text class="l m" x="94.12" y="939.1" transform="rotate(.04 94.12 939.1)">29</text>
<text class="l m" x="105.88" y="939.1" transform="rotate(.04 105.88 939.1)">33</text>
<text class="l m" x="117.64" y="939.1" transform="rotate(.04 117.64 939.1)">37</text>
<text class="l m" x="129.4" y="939.1" transform="rotate(.04 129.4 939.1)">41</text>
<text class="l m" x="141.16" y="939.1" transform="rotate(.04 141.16 939.1)">45</text>
<text class="l m" x="152.92" y="939.1" transform="rotate(.04 152.92 939.1)">49</text>
<text class="t" x="267.15" y="888.4" transform="rotate(.04 267.15 888.4)">Neisseria gonorrhoeae</text>
<text class="l e" x="194.4" y="933.85" transform="rotate(.04 194.4 933.85)">0</text>
<text class="l e" x="194.4" y="924.02" transform="rotate(.04 194.4 924.02)">500</text>
<text class="l e" x="194.4" y="914.2" transform="rotate(.04 194.4 914.2)">1000</text>
<text class="l e" x="194.4" y="904.38" transform="rotate(.04 194.4 904.38)">1500</text>
<text class="l e" x="194.4" y="894.55" transform="rotate(.04 194.4 894.55)">2000</text>
<text class="l m" x="199.4" y="939.1" transform="rotate(.04 199.4 939.1)">1</text>
<text class="l m" x="210.84" y="939.1" transform="rotate(.04 210.84 939.1)">5</text>
<text class="l m" x="222.28" y="939.1" transform="rotate(.04 222.28 939.1)">9</text>
<text class="l m" x="233.72" y="939.1" transform="rotate(.04 233.72 939.1)">13</text>
<text class="l m" x="245.16" y="939.1" transform="rotate(.04 245.16 939.1)">17</text>
<text class="l m" x="256.6" y="939.1" transform="rotate(.04 256.6 939.1)">21</text>
<text class="l m" x="268.04" y="939.1" transform="rotate(.04 268.04 939.1)">25</text>
<text class="l m" x="279.48" y="939.1" transform="rotate(.04 279.48 939.1)">29</text>
<text class="l m" x="290.92" y="939.1" transform="rotate(.04 290.92 939.1)">33</text>
<text class="l m" x="302.36" y="939.1" transform="rotate(.04 302.36 939.1)">37</text>
<text class="l m" x="313.8" y="939.1" transform="rotate(.04 313.8 939.1)">41</text>
<text class="l m" x="325.24" y="939.1" transform="rotate(.04 325.24 939.1)">45</text>
<text class="l m" x="336.68" y="939.1" transform="rotate(.04 336.68 939.1)">49</text>
<text class="t" x="82.7" y="959.3" transform="rotate(.04 82.7 959.3)">Staphylococcus aureus bacteraemia</text>
<text class="l e" x="6.8" y="1004.35" transform="rotate(.04 6.8 1004.35)">0</text>
<text class="l e" x="6.8" y="998.74" transform="rotate(.04 6.8 998.74)">10</text>
<text class="l e" x="6.8" y="993.12" transform="rotate(.04 6.8 993.12)">20</text>
<text class="l e" x="6.8" y="987.51" transform="rotate(.04 6.8 987.51)">30</text>
<text class="l e" x="6.8" y="981.89" transform="rotate(.04 6.8 981.89)">40</text>
<text class="l e" x="6.8" y="976.28" transform="rotate(.04 6.8 976.28)">50</text>
<text class="l e" x="6.8" y="970.66" transform="rotate(.04 6.8 970.66)">60</text>
<text class="l e" x="6.8" y="965.05" transform="rotate(.04 6.8 965.05)">70</text>
<text class="l m" x="11.8" y="1009.5" transform="rotate(.04 11.8 1009.5)">1</text>
<text class="l m" x="23.4" y="1009.5" transform="rotate(.04 23.4 1009.5)">5</text>
<text class="l m" x="35" y="1009.5" transform="rotate(.04 35 1009.5)">9</text>
<text class="l m" x="46.6" y="1009.5" transform="rotate(.04 46.6 1009.5)">13</text>
<text class="l m" x="58.2" y="1009.5" transform="rotate(.04 58.2 1009.5)">17</text>
<text class="l m" x="69.8" y="1009.5" transform="rotate(.04 69.8 1009.5)">21</text>
<text class="l m" x="81.4" y="1009.5" transform="rotate(.04 81.4 1009.5)">25</text>
<text class="l m" x="93" y="1009.5" transform="rotate(.04 93 1009.5)">29</text>
<text class="l m" x="104.6" y="1009.5" transform="rotate(.04 104.6 1009.5)">33</text>
<text class="l m" x="116.2" y="1009.5" transform="rotate(.04 116.2 1009.5)">37</text>
<text class="l m" x="127.8" y="1009.5" transform="rotate(.04 127.8 1009.5)">41</text>
<text class="l m" x="139.4" y="1009.5" transform="rotate(.04 139.4 1009.5)">45</text>
<text class="l m" x="151" y="1009.5" transform="rotate(.04 151 1009.5)">49</text>
<text class="t" x="268.1" y="959.3" transform="rotate(.04 268.1 959.3)">Staphylococcus aureus bacteraemia</text>
<text class="l e" x="196.2" y="1004.35" transform="rotate(.04 196.2 1004.35)">0</text>
<text class="l e" x="196.2" y="996.47" transform="rotate(.04 196.2 996.47)">500</text>
<text class="l e" x="196.2" y="988.59" transform="rotate(.04 196.2 988.59)">1000</text>
<text class="l e" x="196.2" y="980.71" transform="rotate(.04 196.2 980.71)">1500</text>
<text class="l e" x="196.2" y="972.83" transform="rotate(.04 196.2 972.83)">2000</text>
<text class="l e" x="196.2" y="964.95" transform="rotate(.04 196.2 964.95)">2500</text>
<text class="l m" x="201.1" y="1009.5" transform="rotate(.04 201.1 1009.5)">1</text>
<text class="l m" x="212.4" y="1009.5" transform="rotate(.04 212.4 1009.5)">5</text>
<text class="l m" x="223.7" y="1009.5" transform="rotate(.04 223.7 1009.5)">9</text>
<text class="l m" x="235" y="1009.5" transform="rotate(.04 235 1009.5)">13</text>
<text class="l m" x="246.3" y="1009.5" transform="rotate(.04 246.3 1009.5)">17</text>
<text class="l m" x="257.6" y="1009.5" transform="rotate(.04 257.6 1009.5)">21</text>
<text class="l m" x="268.9" y="1009.5" transform="rotate(.04 268.9 1009.5)">25</text>
<text class="l m" x="280.2" y="1009.5" transform="rotate(.04 280.2 1009.5)">29</text>
<text class="l m" x="291.5" y="1009.5" transform="rotate(.04 291.5 1009.5)">33</text>
<text class="l m" x="302.8" y="1009.5" transform="rotate(.04 302.8 1009.5)">37</text>
<text class="l m" x="314.1" y="1009.5" transform="rotate(.04 314.1 1009.5)">41</text>
<text class="l m" x="325.4" y="1009.5" transform="rotate(.04 325.4 1009.5)">45</text>
<text class="l m" x="336.7" y="1009.5" transform="rotate(.04 336.7 1009.5)">49</text>
<text class="t" x="82.85" y="1029.1" transform="rotate(.04 82.85 1029.1)">MRSA</text>
<text class="l e" x="8.8" y="1074.95" transform="rotate(.04 8.8 1074.95)">0</text>
<text class="l e" x="8.8" y="1068.42" transform="rotate(.04 8.8 1068.42)">20</text>
<text class="l e" x="8.8" y="1061.88" transform="rotate(.04 8.8 1061.88)">40</text>
<text class="l e" x="8.8" y="1055.35" transform="rotate(.04 8.8 1055.35)">60</text>
<text class="l e" x="8.8" y="1048.82" transform="rotate(.04 8.8 1048.82)">80</text>
<text class="l e" x="8.8" y="1042.28" transform="rotate(.04 8.8 1042.28)">100</text>
<text class="l e" x="8.8" y="1035.75" transform="rotate(.04 8.8 1035.75)">120</text>
<text class="l m" x="13.8" y="1080.5" transform="rotate(.04 13.8 1080.5)">1</text>
<text class="l m" x="25.2" y="1080.5" transform="rotate(.04 25.2 1080.5)">5</text>
<text class="l m" x="36.6" y="1080.5" transform="rotate(.04 36.6 1080.5)">9</text>
<text class="l m" x="48" y="1080.5" transform="rotate(.04 48 1080.5)">13</text>
<text class="l m" x="59.4" y="1080.5" transform="rotate(.04 59.4 1080.5)">17</text>
<text class="l m" x="70.8" y="1080.5" transform="rotate(.04 70.8 1080.5)">21</text>
<text class="l m" x="82.2" y="1080.5" transform="rotate(.04 82.2 1080.5)">25</text>
<text class="l m" x="93.6" y="1080.5" transform="rotate(.04 93.6 1080.5)">29</text>
<text class="l m" x="105" y="1080.5" transform="rotate(.04 105 1080.5)">33</text>
<text class="l m" x="116.4" y="1080.5" transform="rotate(.04 116.4 1080.5)">37</text>
<text class="l m" x="127.8" y="1080.5" transform="rotate(.04 127.8 1080.5)">41</text>
<text class="l m" x="139.2" y="1080.5" transform="rotate(.04 139.2 1080.5)">45</text>
<text class="l m" x="150.6" y="1080.5" transform="rotate(.04 150.6 1080.5)">49</text>
<text class="t" x="267.95" y="1029.1" transform="rotate(.04 267.95 1029.1)">MRSA</text>
<text class="l e" x="195.4" y="1074.95" transform="rotate(.04 195.4 1074.95)">0</text>
<text class="l e" x="195.4" y="1065.15" transform="rotate(.04 195.4 1065.15)">1000</text>
<text class="l e" x="195.4" y="1055.35" transform="rotate(.04 195.4 1055.35)">2000</text>
<text class="l e" x="195.4" y="1045.55" transform="rotate(.04 195.4 1045.55)">3000</text>
<text class="l e" x="195.4" y="1035.75" transform="rotate(.04 195.4 1035.75)">4000</text>
<text class="l m" x="200.4" y="1080.5" transform="rotate(.04 200.4 1080.5)">1</text>
<text class="l m" x="211.76" y="1080.5" transform="rotate(.04 211.76 1080.5)">5</text>
<text class="l m" x="223.12" y="1080.5" transform="rotate(.04 223.12 1080.5)">9</text>
<text class="l m" x="234.48" y="1080.5" transform="rotate(.04 234.48 1080.5)">13</text>
<text class="l m" x="245.84" y="1080.5" transform="rotate(.04 245.84 1080.5)">17</text>
<text class="l m" x="257.2" y="1080.5" transform="rotate(.04 257.2 1080.5)">21</text>
<text class="l m" x="268.56" y="1080.5" transform="rotate(.04 268.56 1080.5)">25</text>
<text class="l m" x="279.92" y="1080.5" transform="rotate(.04 279.92 1080.5)">29</text>
<text class="l m" x="291.28" y="1080.5" transform="rotate(.04 291.28 1080.5)">33</text>
<text class="l m" x="302.64" y="1080.5" transform="rotate(.04 302.64 1080.5)">37</text>
<text class="l m" x="314" y="1080.5" transform="rotate(.04 314 1080.5)">41</text>
<text class="l m" x="325.36" y="1080.5" transform="rotate(.04 325.36 1080.5)">45</text>
<text class="l m" x="336.72" y="1080.5" transform="rotate(.04 336.72 1080.5)">49</text>
</g>
</g>
</svg>
</body></html>
